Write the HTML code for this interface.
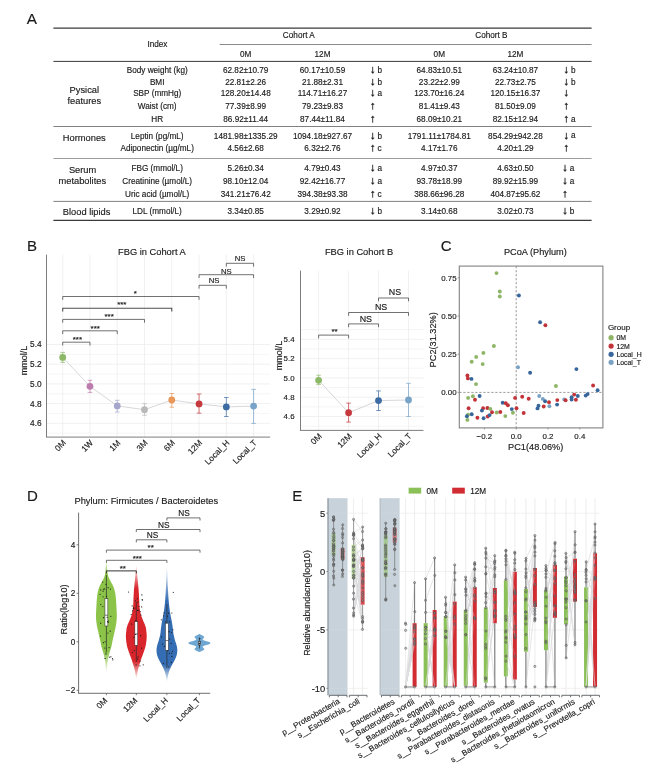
<!DOCTYPE html>
<html lang="en">
<head>
<meta charset="utf-8">
<title>Figure</title>
<style>
html,body{margin:0;padding:0;background:#fff;}
body{width:650px;height:778px;overflow:hidden;}
svg{display:block;font-family:'Liberation Sans', sans-serif;}
svg text{stroke:#1a1a1a;stroke-width:0.15px;}
</style>
</head>
<body>
<svg width="650" height="778" viewBox="0 0 650 778">
<rect x="0" y="0" width="650" height="778" fill="#ffffff"/>
<g id="panelA">
<text x="31.80" y="18.40" font-size="15.3" text-anchor="middle" fill="#1a1a1a" dy="0.36em">A</text>
<line x1="53.40" y1="28.10" x2="591.60" y2="28.10" stroke="#3a3a3a" stroke-width="1.1"/>
<line x1="219.70" y1="44.50" x2="591.60" y2="44.50" stroke="#3a3a3a" stroke-width="0.6"/>
<line x1="53.40" y1="61.40" x2="591.60" y2="61.40" stroke="#3a3a3a" stroke-width="1.0"/>
<line x1="53.40" y1="126.50" x2="591.60" y2="126.50" stroke="#3a3a3a" stroke-width="0.65"/>
<line x1="53.40" y1="158.50" x2="591.60" y2="158.50" stroke="#3a3a3a" stroke-width="0.5"/>
<line x1="53.40" y1="201.40" x2="591.60" y2="201.40" stroke="#3a3a3a" stroke-width="0.65"/>
<line x1="53.40" y1="220.40" x2="591.60" y2="220.40" stroke="#3a3a3a" stroke-width="1.1"/>
<text x="157.40" y="44.30" font-size="8.2" text-anchor="middle" fill="#1a1a1a" dy="0.36em">Index</text>
<text x="298.80" y="34.60" font-size="8.2" text-anchor="middle" fill="#1a1a1a" dy="0.36em">Cohort A</text>
<text x="491.40" y="34.60" font-size="8.2" text-anchor="middle" fill="#1a1a1a" dy="0.36em">Cohort B</text>
<text x="245.70" y="54.20" font-size="8.2" text-anchor="middle" fill="#1a1a1a" dy="0.36em">0M</text>
<text x="322.50" y="54.20" font-size="8.2" text-anchor="middle" fill="#1a1a1a" dy="0.36em">12M</text>
<text x="439.30" y="54.20" font-size="8.2" text-anchor="middle" fill="#1a1a1a" dy="0.36em">0M</text>
<text x="515.40" y="54.20" font-size="8.2" text-anchor="middle" fill="#1a1a1a" dy="0.36em">12M</text>
<text x="84.30" y="89.70" font-size="9.3" text-anchor="middle" fill="#1a1a1a" dy="0.36em">Pysical</text>
<text x="84.30" y="100.50" font-size="9.3" text-anchor="middle" fill="#1a1a1a" dy="0.36em">features</text>
<text x="84.30" y="137.80" font-size="9.3" text-anchor="middle" fill="#1a1a1a" dy="0.36em">Hormones</text>
<text x="82.60" y="169.50" font-size="9.3" text-anchor="middle" fill="#1a1a1a" dy="0.36em">Serum</text>
<text x="82.30" y="180.30" font-size="9.3" text-anchor="middle" fill="#1a1a1a" dy="0.36em">metabolites</text>
<text x="86.60" y="211.40" font-size="9.3" text-anchor="middle" fill="#1a1a1a" dy="0.36em">Blood lipids</text>
<text x="157.20" y="70.40" font-size="8.2" text-anchor="middle" fill="#1a1a1a" dy="0.36em">Body weight (kg)</text>
<text x="245.70" y="70.40" font-size="8.2" text-anchor="middle" fill="#1a1a1a" dy="0.36em">62.82±10.79</text>
<text x="322.50" y="70.40" font-size="8.2" text-anchor="middle" fill="#1a1a1a" dy="0.36em">60.17±10.59</text>
<text x="372.80" y="69.30" font-size="11.2" text-anchor="middle" fill="#1a1a1a" dy="0.36em" style="stroke-width:0.3px">↓</text>
<text x="377.60" y="70.40" font-size="8.2" text-anchor="start" fill="#1a1a1a" dy="0.36em">b</text>
<text x="439.30" y="70.40" font-size="8.2" text-anchor="middle" fill="#1a1a1a" dy="0.36em">64.83±10.51</text>
<text x="515.40" y="70.40" font-size="8.2" text-anchor="middle" fill="#1a1a1a" dy="0.36em">63.24±10.87</text>
<text x="566.20" y="69.30" font-size="11.2" text-anchor="middle" fill="#1a1a1a" dy="0.36em" style="stroke-width:0.3px">↓</text>
<text x="571.00" y="70.40" font-size="8.2" text-anchor="start" fill="#1a1a1a" dy="0.36em">b</text>
<text x="157.20" y="82.20" font-size="8.2" text-anchor="middle" fill="#1a1a1a" dy="0.36em">BMI</text>
<text x="245.70" y="82.20" font-size="8.2" text-anchor="middle" fill="#1a1a1a" dy="0.36em">22.81±2.26</text>
<text x="322.50" y="82.20" font-size="8.2" text-anchor="middle" fill="#1a1a1a" dy="0.36em">21.88±2.31</text>
<text x="372.80" y="81.10" font-size="11.2" text-anchor="middle" fill="#1a1a1a" dy="0.36em" style="stroke-width:0.3px">↓</text>
<text x="377.60" y="82.20" font-size="8.2" text-anchor="start" fill="#1a1a1a" dy="0.36em">b</text>
<text x="439.30" y="82.20" font-size="8.2" text-anchor="middle" fill="#1a1a1a" dy="0.36em">23.22±2.99</text>
<text x="515.40" y="82.20" font-size="8.2" text-anchor="middle" fill="#1a1a1a" dy="0.36em">22.73±2.75</text>
<text x="566.20" y="81.10" font-size="11.2" text-anchor="middle" fill="#1a1a1a" dy="0.36em" style="stroke-width:0.3px">↓</text>
<text x="571.00" y="82.20" font-size="8.2" text-anchor="start" fill="#1a1a1a" dy="0.36em">b</text>
<text x="157.20" y="93.30" font-size="8.2" text-anchor="middle" fill="#1a1a1a" dy="0.36em">SBP (mmHg)</text>
<text x="245.70" y="93.30" font-size="8.2" text-anchor="middle" fill="#1a1a1a" dy="0.36em">128.20±14.48</text>
<text x="322.50" y="93.30" font-size="8.2" text-anchor="middle" fill="#1a1a1a" dy="0.36em">114.71±16.27</text>
<text x="372.80" y="92.20" font-size="11.2" text-anchor="middle" fill="#1a1a1a" dy="0.36em" style="stroke-width:0.3px">↓</text>
<text x="377.60" y="93.30" font-size="8.2" text-anchor="start" fill="#1a1a1a" dy="0.36em">a</text>
<text x="439.30" y="93.30" font-size="8.2" text-anchor="middle" fill="#1a1a1a" dy="0.36em">123.70±16.24</text>
<text x="515.40" y="93.30" font-size="8.2" text-anchor="middle" fill="#1a1a1a" dy="0.36em">120.15±16.37</text>
<text x="566.20" y="92.20" font-size="11.2" text-anchor="middle" fill="#1a1a1a" dy="0.36em" style="stroke-width:0.3px">↓</text>
<text x="157.20" y="106.30" font-size="8.2" text-anchor="middle" fill="#1a1a1a" dy="0.36em">Waist (cm)</text>
<text x="245.70" y="106.30" font-size="8.2" text-anchor="middle" fill="#1a1a1a" dy="0.36em">77.39±8.99</text>
<text x="322.50" y="106.30" font-size="8.2" text-anchor="middle" fill="#1a1a1a" dy="0.36em">79.23±9.83</text>
<text x="372.80" y="105.20" font-size="11.2" text-anchor="middle" fill="#1a1a1a" dy="0.36em" style="stroke-width:0.3px">↑</text>
<text x="439.30" y="106.30" font-size="8.2" text-anchor="middle" fill="#1a1a1a" dy="0.36em">81.41±9.43</text>
<text x="515.40" y="106.30" font-size="8.2" text-anchor="middle" fill="#1a1a1a" dy="0.36em">81.50±9.09</text>
<text x="566.20" y="105.20" font-size="11.2" text-anchor="middle" fill="#1a1a1a" dy="0.36em" style="stroke-width:0.3px">↑</text>
<text x="157.20" y="118.70" font-size="8.2" text-anchor="middle" fill="#1a1a1a" dy="0.36em">HR</text>
<text x="245.70" y="118.70" font-size="8.2" text-anchor="middle" fill="#1a1a1a" dy="0.36em">86.92±11.44</text>
<text x="322.50" y="118.70" font-size="8.2" text-anchor="middle" fill="#1a1a1a" dy="0.36em">87.44±11.84</text>
<text x="372.80" y="117.60" font-size="11.2" text-anchor="middle" fill="#1a1a1a" dy="0.36em" style="stroke-width:0.3px">↑</text>
<text x="439.30" y="118.70" font-size="8.2" text-anchor="middle" fill="#1a1a1a" dy="0.36em">68.09±10.21</text>
<text x="515.40" y="118.70" font-size="8.2" text-anchor="middle" fill="#1a1a1a" dy="0.36em">82.15±12.94</text>
<text x="566.20" y="117.60" font-size="11.2" text-anchor="middle" fill="#1a1a1a" dy="0.36em" style="stroke-width:0.3px">↑</text>
<text x="571.00" y="118.70" font-size="8.2" text-anchor="start" fill="#1a1a1a" dy="0.36em">a</text>
<text x="157.20" y="135.80" font-size="8.2" text-anchor="middle" fill="#1a1a1a" dy="0.36em">Leptin (pg/mL)</text>
<text x="245.70" y="135.80" font-size="8.2" text-anchor="middle" fill="#1a1a1a" dy="0.36em">1481.98±1335.29</text>
<text x="322.50" y="135.80" font-size="8.2" text-anchor="middle" fill="#1a1a1a" dy="0.36em">1094.18±927.67</text>
<text x="372.80" y="134.70" font-size="11.2" text-anchor="middle" fill="#1a1a1a" dy="0.36em" style="stroke-width:0.3px">↓</text>
<text x="377.60" y="135.80" font-size="8.2" text-anchor="start" fill="#1a1a1a" dy="0.36em">b</text>
<text x="439.30" y="135.80" font-size="8.2" text-anchor="middle" fill="#1a1a1a" dy="0.36em">1791.11±1784.81</text>
<text x="515.40" y="135.80" font-size="8.2" text-anchor="middle" fill="#1a1a1a" dy="0.36em">854.29±942.28</text>
<text x="566.20" y="134.70" font-size="11.2" text-anchor="middle" fill="#1a1a1a" dy="0.36em" style="stroke-width:0.3px">↓</text>
<text x="571.00" y="134.60" font-size="8.2" text-anchor="start" fill="#1a1a1a" dy="0.36em">a</text>
<text x="157.20" y="148.50" font-size="8.2" text-anchor="middle" fill="#1a1a1a" dy="0.36em">Adiponectin (µg/mL)</text>
<text x="245.70" y="148.50" font-size="8.2" text-anchor="middle" fill="#1a1a1a" dy="0.36em">4.56±2.68</text>
<text x="322.50" y="148.50" font-size="8.2" text-anchor="middle" fill="#1a1a1a" dy="0.36em">6.32±2.76</text>
<text x="372.80" y="147.40" font-size="11.2" text-anchor="middle" fill="#1a1a1a" dy="0.36em" style="stroke-width:0.3px">↑</text>
<text x="377.60" y="148.50" font-size="8.2" text-anchor="start" fill="#1a1a1a" dy="0.36em">c</text>
<text x="439.30" y="148.50" font-size="8.2" text-anchor="middle" fill="#1a1a1a" dy="0.36em">4.17±1.76</text>
<text x="515.40" y="148.50" font-size="8.2" text-anchor="middle" fill="#1a1a1a" dy="0.36em">4.20±1.29</text>
<text x="566.20" y="147.40" font-size="11.2" text-anchor="middle" fill="#1a1a1a" dy="0.36em" style="stroke-width:0.3px">↑</text>
<text x="157.20" y="168.50" font-size="8.2" text-anchor="middle" fill="#1a1a1a" dy="0.36em">FBG (mmol/L)</text>
<text x="245.70" y="168.50" font-size="8.2" text-anchor="middle" fill="#1a1a1a" dy="0.36em">5.26±0.34</text>
<text x="322.50" y="168.50" font-size="8.2" text-anchor="middle" fill="#1a1a1a" dy="0.36em">4.79±0.43</text>
<text x="372.80" y="167.40" font-size="11.2" text-anchor="middle" fill="#1a1a1a" dy="0.36em" style="stroke-width:0.3px">↓</text>
<text x="377.60" y="168.50" font-size="8.2" text-anchor="start" fill="#1a1a1a" dy="0.36em">a</text>
<text x="439.30" y="168.50" font-size="8.2" text-anchor="middle" fill="#1a1a1a" dy="0.36em">4.97±0.37</text>
<text x="515.40" y="168.50" font-size="8.2" text-anchor="middle" fill="#1a1a1a" dy="0.36em">4.63±0.50</text>
<text x="565.00" y="167.40" font-size="11.2" text-anchor="middle" fill="#1a1a1a" dy="0.36em" style="stroke-width:0.3px">↓</text>
<text x="569.80" y="168.50" font-size="8.2" text-anchor="start" fill="#1a1a1a" dy="0.36em">a</text>
<text x="157.20" y="181.10" font-size="8.2" text-anchor="middle" fill="#1a1a1a" dy="0.36em">Creatinine (µmol/L)</text>
<text x="245.70" y="181.10" font-size="8.2" text-anchor="middle" fill="#1a1a1a" dy="0.36em">98.10±12.04</text>
<text x="322.50" y="181.10" font-size="8.2" text-anchor="middle" fill="#1a1a1a" dy="0.36em">92.42±16.77</text>
<text x="372.80" y="180.00" font-size="11.2" text-anchor="middle" fill="#1a1a1a" dy="0.36em" style="stroke-width:0.3px">↓</text>
<text x="377.60" y="181.10" font-size="8.2" text-anchor="start" fill="#1a1a1a" dy="0.36em">a</text>
<text x="439.30" y="181.10" font-size="8.2" text-anchor="middle" fill="#1a1a1a" dy="0.36em">93.78±18.99</text>
<text x="515.40" y="181.10" font-size="8.2" text-anchor="middle" fill="#1a1a1a" dy="0.36em">89.92±15.99</text>
<text x="565.00" y="180.00" font-size="11.2" text-anchor="middle" fill="#1a1a1a" dy="0.36em" style="stroke-width:0.3px">↓</text>
<text x="569.80" y="181.10" font-size="8.2" text-anchor="start" fill="#1a1a1a" dy="0.36em">a</text>
<text x="157.20" y="193.70" font-size="8.2" text-anchor="middle" fill="#1a1a1a" dy="0.36em">Uric acid (µmol/L)</text>
<text x="245.70" y="193.70" font-size="8.2" text-anchor="middle" fill="#1a1a1a" dy="0.36em">341.21±76.42</text>
<text x="322.50" y="193.70" font-size="8.2" text-anchor="middle" fill="#1a1a1a" dy="0.36em">394.38±93.38</text>
<text x="372.80" y="192.60" font-size="11.2" text-anchor="middle" fill="#1a1a1a" dy="0.36em" style="stroke-width:0.3px">↑</text>
<text x="377.60" y="193.70" font-size="8.2" text-anchor="start" fill="#1a1a1a" dy="0.36em">c</text>
<text x="439.30" y="193.70" font-size="8.2" text-anchor="middle" fill="#1a1a1a" dy="0.36em">388.66±96.28</text>
<text x="515.40" y="193.70" font-size="8.2" text-anchor="middle" fill="#1a1a1a" dy="0.36em">404.87±95.62</text>
<text x="565.00" y="192.60" font-size="11.2" text-anchor="middle" fill="#1a1a1a" dy="0.36em" style="stroke-width:0.3px">↑</text>
<text x="157.20" y="211.40" font-size="8.2" text-anchor="middle" fill="#1a1a1a" dy="0.36em">LDL (mmol/L)</text>
<text x="245.70" y="211.40" font-size="8.2" text-anchor="middle" fill="#1a1a1a" dy="0.36em">3.34±0.85</text>
<text x="322.50" y="211.40" font-size="8.2" text-anchor="middle" fill="#1a1a1a" dy="0.36em">3.29±0.92</text>
<text x="372.80" y="210.30" font-size="11.2" text-anchor="middle" fill="#1a1a1a" dy="0.36em" style="stroke-width:0.3px">↓</text>
<text x="377.60" y="211.40" font-size="8.2" text-anchor="start" fill="#1a1a1a" dy="0.36em">b</text>
<text x="439.30" y="211.40" font-size="8.2" text-anchor="middle" fill="#1a1a1a" dy="0.36em">3.14±0.68</text>
<text x="515.40" y="211.40" font-size="8.2" text-anchor="middle" fill="#1a1a1a" dy="0.36em">3.02±0.73</text>
<text x="565.00" y="210.30" font-size="11.2" text-anchor="middle" fill="#1a1a1a" dy="0.36em" style="stroke-width:0.3px">↓</text>
<text x="569.80" y="211.40" font-size="8.2" text-anchor="start" fill="#1a1a1a" dy="0.36em">b</text>
</g>
<g id="panelB">
<text x="32.00" y="246.00" font-size="15" text-anchor="middle" fill="#1a1a1a" dy="0.36em">B</text>
<line x1="62.70" y1="254.60" x2="62.70" y2="437.10" stroke="#ebebeb" stroke-width="0.7"/>
<line x1="89.97" y1="254.60" x2="89.97" y2="437.10" stroke="#ebebeb" stroke-width="0.7"/>
<line x1="117.24" y1="254.60" x2="117.24" y2="437.10" stroke="#ebebeb" stroke-width="0.7"/>
<line x1="144.51" y1="254.60" x2="144.51" y2="437.10" stroke="#ebebeb" stroke-width="0.7"/>
<line x1="171.78" y1="254.60" x2="171.78" y2="437.10" stroke="#ebebeb" stroke-width="0.7"/>
<line x1="199.05" y1="254.60" x2="199.05" y2="437.10" stroke="#ebebeb" stroke-width="0.7"/>
<line x1="226.32" y1="254.60" x2="226.32" y2="437.10" stroke="#ebebeb" stroke-width="0.7"/>
<line x1="253.59" y1="254.60" x2="253.59" y2="437.10" stroke="#ebebeb" stroke-width="0.7"/>
<line x1="46.50" y1="344.50" x2="270.20" y2="344.50" stroke="#ebebeb" stroke-width="0.7"/>
<line x1="46.50" y1="354.35" x2="270.20" y2="354.35" stroke="#ebebeb" stroke-width="0.5"/>
<line x1="46.50" y1="364.20" x2="270.20" y2="364.20" stroke="#ebebeb" stroke-width="0.7"/>
<line x1="46.50" y1="374.05" x2="270.20" y2="374.05" stroke="#ebebeb" stroke-width="0.5"/>
<line x1="46.50" y1="383.90" x2="270.20" y2="383.90" stroke="#ebebeb" stroke-width="0.7"/>
<line x1="46.50" y1="393.75" x2="270.20" y2="393.75" stroke="#ebebeb" stroke-width="0.5"/>
<line x1="46.50" y1="403.60" x2="270.20" y2="403.60" stroke="#ebebeb" stroke-width="0.7"/>
<line x1="46.50" y1="413.45" x2="270.20" y2="413.45" stroke="#ebebeb" stroke-width="0.5"/>
<line x1="46.50" y1="423.30" x2="270.20" y2="423.30" stroke="#ebebeb" stroke-width="0.7"/>
<line x1="46.50" y1="433.15" x2="270.20" y2="433.15" stroke="#ebebeb" stroke-width="0.5"/>
<polyline points="62.70,357.40 89.97,386.30 117.24,405.90 144.51,409.70 171.78,400.00 199.05,403.90 226.32,406.90 253.59,406.10" fill="none" stroke="#d3d3d8" stroke-width="0.9"/>
<line x1="62.70" y1="352.40" x2="62.70" y2="362.40" stroke="#8cb868" stroke-width="0.7"/>
<line x1="60.40" y1="352.40" x2="65.00" y2="352.40" stroke="#8cb868" stroke-width="0.7"/>
<line x1="60.40" y1="362.40" x2="65.00" y2="362.40" stroke="#8cb868" stroke-width="0.7"/>
<circle cx="62.70" cy="357.40" r="3.4" fill="#8cb868" stroke="none" stroke-width="0"/>
<line x1="89.97" y1="380.30" x2="89.97" y2="392.40" stroke="#bd7cae" stroke-width="0.7"/>
<line x1="87.67" y1="380.30" x2="92.27" y2="380.30" stroke="#bd7cae" stroke-width="0.7"/>
<line x1="87.67" y1="392.40" x2="92.27" y2="392.40" stroke="#bd7cae" stroke-width="0.7"/>
<circle cx="89.97" cy="386.30" r="3.4" fill="#bd7cae" stroke="none" stroke-width="0"/>
<line x1="117.24" y1="400.30" x2="117.24" y2="412.00" stroke="#a6a6cc" stroke-width="0.7"/>
<line x1="114.94" y1="400.30" x2="119.54" y2="400.30" stroke="#a6a6cc" stroke-width="0.7"/>
<line x1="114.94" y1="412.00" x2="119.54" y2="412.00" stroke="#a6a6cc" stroke-width="0.7"/>
<circle cx="117.24" cy="405.90" r="3.4" fill="#a6a6cc" stroke="none" stroke-width="0"/>
<line x1="144.51" y1="403.60" x2="144.51" y2="415.30" stroke="#b9b9b9" stroke-width="0.7"/>
<line x1="142.21" y1="403.60" x2="146.81" y2="403.60" stroke="#b9b9b9" stroke-width="0.7"/>
<line x1="142.21" y1="415.30" x2="146.81" y2="415.30" stroke="#b9b9b9" stroke-width="0.7"/>
<circle cx="144.51" cy="409.70" r="3.4" fill="#b9b9b9" stroke="none" stroke-width="0"/>
<line x1="171.78" y1="393.50" x2="171.78" y2="407.20" stroke="#ea975a" stroke-width="0.7"/>
<line x1="169.48" y1="393.50" x2="174.08" y2="393.50" stroke="#ea975a" stroke-width="0.7"/>
<line x1="169.48" y1="407.20" x2="174.08" y2="407.20" stroke="#ea975a" stroke-width="0.7"/>
<circle cx="171.78" cy="400.00" r="3.4" fill="#ea975a" stroke="none" stroke-width="0"/>
<line x1="199.05" y1="394.00" x2="199.05" y2="413.20" stroke="#c6393e" stroke-width="0.7"/>
<line x1="196.75" y1="394.00" x2="201.35" y2="394.00" stroke="#c6393e" stroke-width="0.7"/>
<line x1="196.75" y1="413.20" x2="201.35" y2="413.20" stroke="#c6393e" stroke-width="0.7"/>
<circle cx="199.05" cy="403.90" r="3.4" fill="#c6393e" stroke="none" stroke-width="0"/>
<line x1="226.32" y1="397.50" x2="226.32" y2="416.50" stroke="#3d6ca4" stroke-width="0.7"/>
<line x1="224.02" y1="397.50" x2="228.62" y2="397.50" stroke="#3d6ca4" stroke-width="0.7"/>
<line x1="224.02" y1="416.50" x2="228.62" y2="416.50" stroke="#3d6ca4" stroke-width="0.7"/>
<circle cx="226.32" cy="406.90" r="3.4" fill="#3d6ca4" stroke="none" stroke-width="0"/>
<line x1="253.59" y1="389.40" x2="253.59" y2="423.40" stroke="#79a4c8" stroke-width="0.7"/>
<line x1="251.29" y1="389.40" x2="255.89" y2="389.40" stroke="#79a4c8" stroke-width="0.7"/>
<line x1="251.29" y1="423.40" x2="255.89" y2="423.40" stroke="#79a4c8" stroke-width="0.7"/>
<circle cx="253.59" cy="406.10" r="3.4" fill="#79a4c8" stroke="none" stroke-width="0"/>
<line x1="46.50" y1="254.60" x2="46.50" y2="437.10" stroke="#6e6e6e" stroke-width="0.9"/>
<line x1="46.05" y1="437.10" x2="270.20" y2="437.10" stroke="#6e6e6e" stroke-width="0.9"/>
<text x="41.60" y="344.50" font-size="8.3" text-anchor="end" fill="#1a1a1a" dy="0.36em">5.4</text>
<text x="41.60" y="364.20" font-size="8.3" text-anchor="end" fill="#1a1a1a" dy="0.36em">5.2</text>
<text x="41.60" y="383.90" font-size="8.3" text-anchor="end" fill="#1a1a1a" dy="0.36em">5.0</text>
<text x="41.60" y="403.60" font-size="8.3" text-anchor="end" fill="#1a1a1a" dy="0.36em">4.8</text>
<text x="41.60" y="423.30" font-size="8.3" text-anchor="end" fill="#1a1a1a" dy="0.36em">4.6</text>
<text x="64.30" y="441.30" font-size="8.4" text-anchor="end" fill="#1a1a1a" dy="0.36em" transform="rotate(-45 64.30 441.30)">0M</text>
<text x="91.57" y="441.30" font-size="8.4" text-anchor="end" fill="#1a1a1a" dy="0.36em" transform="rotate(-45 91.57 441.30)">1W</text>
<text x="118.84" y="441.30" font-size="8.4" text-anchor="end" fill="#1a1a1a" dy="0.36em" transform="rotate(-45 118.84 441.30)">1M</text>
<text x="146.11" y="441.30" font-size="8.4" text-anchor="end" fill="#1a1a1a" dy="0.36em" transform="rotate(-45 146.11 441.30)">3M</text>
<text x="173.38" y="441.30" font-size="8.4" text-anchor="end" fill="#1a1a1a" dy="0.36em" transform="rotate(-45 173.38 441.30)">6M</text>
<text x="200.65" y="441.30" font-size="8.4" text-anchor="end" fill="#1a1a1a" dy="0.36em" transform="rotate(-45 200.65 441.30)">12M</text>
<text x="227.92" y="441.30" font-size="8.4" text-anchor="end" fill="#1a1a1a" dy="0.36em" transform="rotate(-45 227.92 441.30)">Local_H</text>
<text x="255.19" y="441.30" font-size="8.4" text-anchor="end" fill="#1a1a1a" dy="0.36em" transform="rotate(-45 255.19 441.30)">Local_T</text>
<text x="23.40" y="360.50" font-size="9" text-anchor="middle" fill="#1a1a1a" dy="0.36em" transform="rotate(-90 23.40 360.50)">mmol/L</text>
<text x="151.90" y="251.60" font-size="9.3" text-anchor="middle" fill="#1a1a1a" dy="0.36em">FBG in Cohort A</text>
<path d="M62.70 345.50 V342.20 H89.97 V345.50" fill="none" stroke="#4d4d4d" stroke-width="0.8"/>
<text x="77.40" y="339.60" font-size="8" text-anchor="middle" fill="#1a1a1a" dy="0.36em">***</text>
<path d="M62.70 334.10 V330.80 H117.24 V334.10" fill="none" stroke="#4d4d4d" stroke-width="0.8"/>
<text x="95.20" y="328.00" font-size="8" text-anchor="middle" fill="#1a1a1a" dy="0.36em">***</text>
<path d="M62.70 322.70 V319.40 H144.51 V322.70" fill="none" stroke="#4d4d4d" stroke-width="0.8"/>
<text x="109.10" y="316.50" font-size="8" text-anchor="middle" fill="#1a1a1a" dy="0.36em">***</text>
<path d="M62.70 311.50 V308.20 H171.78 V311.50" fill="none" stroke="#4d4d4d" stroke-width="1.1"/>
<text x="121.80" y="304.60" font-size="8" text-anchor="middle" fill="#1a1a1a" dy="0.36em">***</text>
<path d="M62.70 299.80 V296.50 H199.05 V299.80" fill="none" stroke="#4d4d4d" stroke-width="0.8"/>
<text x="135.30" y="293.60" font-size="8" text-anchor="middle" fill="#1a1a1a" dy="0.36em">*</text>
<path d="M199.05 288.60 V285.30 H226.32 V288.60" fill="none" stroke="#4d4d4d" stroke-width="0.8"/>
<text x="214.10" y="280.50" font-size="7.7" text-anchor="middle" fill="#1a1a1a" dy="0.36em">NS</text>
<path d="M199.05 278.00 V274.70 H253.59 V278.00" fill="none" stroke="#4d4d4d" stroke-width="0.8"/>
<text x="226.30" y="270.90" font-size="7.7" text-anchor="middle" fill="#1a1a1a" dy="0.36em">NS</text>
<path d="M226.32 266.60 V263.30 H253.59 V266.60" fill="none" stroke="#4d4d4d" stroke-width="0.8"/>
<text x="240.00" y="258.40" font-size="7.7" text-anchor="middle" fill="#1a1a1a" dy="0.36em">NS</text>
<line x1="318.60" y1="270.60" x2="318.60" y2="430.40" stroke="#ebebeb" stroke-width="0.7"/>
<line x1="348.60" y1="270.60" x2="348.60" y2="430.40" stroke="#ebebeb" stroke-width="0.7"/>
<line x1="378.50" y1="270.60" x2="378.50" y2="430.40" stroke="#ebebeb" stroke-width="0.7"/>
<line x1="408.50" y1="270.60" x2="408.50" y2="430.40" stroke="#ebebeb" stroke-width="0.7"/>
<line x1="300.50" y1="329.65" x2="423.50" y2="329.65" stroke="#ebebeb" stroke-width="0.5"/>
<line x1="300.50" y1="339.30" x2="423.50" y2="339.30" stroke="#ebebeb" stroke-width="0.7"/>
<line x1="300.50" y1="348.95" x2="423.50" y2="348.95" stroke="#ebebeb" stroke-width="0.5"/>
<line x1="300.50" y1="358.60" x2="423.50" y2="358.60" stroke="#ebebeb" stroke-width="0.7"/>
<line x1="300.50" y1="368.25" x2="423.50" y2="368.25" stroke="#ebebeb" stroke-width="0.5"/>
<line x1="300.50" y1="377.90" x2="423.50" y2="377.90" stroke="#ebebeb" stroke-width="0.7"/>
<line x1="300.50" y1="387.55" x2="423.50" y2="387.55" stroke="#ebebeb" stroke-width="0.5"/>
<line x1="300.50" y1="397.20" x2="423.50" y2="397.20" stroke="#ebebeb" stroke-width="0.7"/>
<line x1="300.50" y1="406.85" x2="423.50" y2="406.85" stroke="#ebebeb" stroke-width="0.5"/>
<line x1="300.50" y1="416.50" x2="423.50" y2="416.50" stroke="#ebebeb" stroke-width="0.7"/>
<line x1="300.50" y1="426.15" x2="423.50" y2="426.15" stroke="#ebebeb" stroke-width="0.5"/>
<polyline points="318.60,380.30 348.60,412.70 378.50,400.60 408.50,400.00" fill="none" stroke="#d3d3d8" stroke-width="0.9"/>
<line x1="318.60" y1="375.20" x2="318.60" y2="384.60" stroke="#8cb868" stroke-width="0.7"/>
<line x1="316.30" y1="375.20" x2="320.90" y2="375.20" stroke="#8cb868" stroke-width="0.7"/>
<line x1="316.30" y1="384.60" x2="320.90" y2="384.60" stroke="#8cb868" stroke-width="0.7"/>
<circle cx="318.60" cy="380.30" r="3.4" fill="#8cb868" stroke="none" stroke-width="0"/>
<line x1="348.60" y1="403.10" x2="348.60" y2="422.10" stroke="#c6393e" stroke-width="0.7"/>
<line x1="346.30" y1="403.10" x2="350.90" y2="403.10" stroke="#c6393e" stroke-width="0.7"/>
<line x1="346.30" y1="422.10" x2="350.90" y2="422.10" stroke="#c6393e" stroke-width="0.7"/>
<circle cx="348.60" cy="412.70" r="3.4" fill="#c6393e" stroke="none" stroke-width="0"/>
<line x1="378.50" y1="390.90" x2="378.50" y2="410.50" stroke="#3d6ca4" stroke-width="0.7"/>
<line x1="376.20" y1="390.90" x2="380.80" y2="390.90" stroke="#3d6ca4" stroke-width="0.7"/>
<line x1="376.20" y1="410.50" x2="380.80" y2="410.50" stroke="#3d6ca4" stroke-width="0.7"/>
<circle cx="378.50" cy="400.60" r="3.4" fill="#3d6ca4" stroke="none" stroke-width="0"/>
<line x1="408.50" y1="383.30" x2="408.50" y2="416.50" stroke="#79a4c8" stroke-width="0.7"/>
<line x1="406.20" y1="383.30" x2="410.80" y2="383.30" stroke="#79a4c8" stroke-width="0.7"/>
<line x1="406.20" y1="416.50" x2="410.80" y2="416.50" stroke="#79a4c8" stroke-width="0.7"/>
<circle cx="408.50" cy="400.00" r="3.4" fill="#79a4c8" stroke="none" stroke-width="0"/>
<line x1="300.50" y1="270.60" x2="300.50" y2="430.40" stroke="#6e6e6e" stroke-width="0.9"/>
<line x1="300.05" y1="430.40" x2="423.50" y2="430.40" stroke="#6e6e6e" stroke-width="0.9"/>
<text x="294.60" y="339.30" font-size="7.9" text-anchor="end" fill="#1a1a1a" dy="0.36em">5.4</text>
<text x="294.60" y="358.60" font-size="7.9" text-anchor="end" fill="#1a1a1a" dy="0.36em">5.2</text>
<text x="294.60" y="377.90" font-size="7.9" text-anchor="end" fill="#1a1a1a" dy="0.36em">5.0</text>
<text x="294.60" y="397.20" font-size="7.9" text-anchor="end" fill="#1a1a1a" dy="0.36em">4.8</text>
<text x="294.60" y="416.50" font-size="7.9" text-anchor="end" fill="#1a1a1a" dy="0.36em">4.6</text>
<text x="320.20" y="434.60" font-size="8.4" text-anchor="end" fill="#1a1a1a" dy="0.36em" transform="rotate(-45 320.20 434.60)">0M</text>
<text x="350.20" y="434.60" font-size="8.4" text-anchor="end" fill="#1a1a1a" dy="0.36em" transform="rotate(-45 350.20 434.60)">12M</text>
<text x="380.10" y="434.60" font-size="8.4" text-anchor="end" fill="#1a1a1a" dy="0.36em" transform="rotate(-45 380.10 434.60)">Local_H</text>
<text x="410.10" y="434.60" font-size="8.4" text-anchor="end" fill="#1a1a1a" dy="0.36em" transform="rotate(-45 410.10 434.60)">Local_T</text>
<text x="278.30" y="355.40" font-size="9" text-anchor="middle" fill="#1a1a1a" dy="0.36em" transform="rotate(-90 278.30 355.40)">mmol/L</text>
<text x="359.00" y="251.60" font-size="9.3" text-anchor="middle" fill="#1a1a1a" dy="0.36em">FBG in Cohort B</text>
<path d="M318.60 338.40 V335.10 H348.60 V338.40" fill="none" stroke="#4d4d4d" stroke-width="0.8"/>
<text x="334.60" y="330.80" font-size="8" text-anchor="middle" fill="#1a1a1a" dy="0.36em">**</text>
<path d="M348.60 327.20 V323.90 H378.50 V327.20" fill="none" stroke="#4d4d4d" stroke-width="0.8"/>
<text x="365.80" y="318.60" font-size="8.9" text-anchor="middle" fill="#1a1a1a" dy="0.36em">NS</text>
<path d="M348.60 315.80 V312.50 H408.50 V315.80" fill="none" stroke="#4d4d4d" stroke-width="0.8"/>
<text x="381.10" y="306.60" font-size="8.9" text-anchor="middle" fill="#1a1a1a" dy="0.36em">NS</text>
<path d="M378.50 301.30 V298.00 H408.50 V301.30" fill="none" stroke="#4d4d4d" stroke-width="0.8"/>
<text x="395.00" y="291.70" font-size="8.9" text-anchor="middle" fill="#1a1a1a" dy="0.36em">NS</text>
</g>
<g id="panelC">
<text x="446.20" y="246.00" font-size="15" text-anchor="middle" fill="#1a1a1a" dy="0.36em">C</text>
<text x="535.40" y="252.00" font-size="9.2" text-anchor="middle" fill="#1a1a1a" dy="0.36em">PCoA (Phylum)</text>
<line x1="516.20" y1="266.10" x2="516.20" y2="427.80" stroke="#555" stroke-width="0.6" stroke-dasharray="2.2 1.8"/>
<line x1="459.30" y1="392.40" x2="602.60" y2="392.40" stroke="#555" stroke-width="0.6" stroke-dasharray="2.2 1.8"/>
<circle cx="496.50" cy="273.10" r="1.95" fill="#8db565" stroke="none" stroke-width="0"/>
<circle cx="499.80" cy="291.50" r="1.95" fill="#8db565" stroke="none" stroke-width="0"/>
<circle cx="499.80" cy="296.50" r="1.95" fill="#8db565" stroke="none" stroke-width="0"/>
<circle cx="518.90" cy="295.50" r="1.95" fill="#36669c" stroke="none" stroke-width="0"/>
<circle cx="540.10" cy="322.20" r="1.95" fill="#36669c" stroke="none" stroke-width="0"/>
<circle cx="545.40" cy="325.30" r="1.95" fill="#c2343a" stroke="none" stroke-width="0"/>
<circle cx="493.90" cy="346.00" r="1.95" fill="#8db565" stroke="none" stroke-width="0"/>
<circle cx="483.40" cy="352.90" r="1.95" fill="#8db565" stroke="none" stroke-width="0"/>
<circle cx="476.20" cy="356.90" r="1.95" fill="#8db565" stroke="none" stroke-width="0"/>
<circle cx="471.70" cy="361.70" r="1.95" fill="#8db565" stroke="none" stroke-width="0"/>
<circle cx="482.70" cy="364.10" r="1.95" fill="#8db565" stroke="none" stroke-width="0"/>
<circle cx="518.00" cy="367.20" r="1.95" fill="#7aa2c5" stroke="none" stroke-width="0"/>
<circle cx="530.10" cy="372.70" r="1.95" fill="#36669c" stroke="none" stroke-width="0"/>
<circle cx="576.40" cy="369.10" r="1.95" fill="#36669c" stroke="none" stroke-width="0"/>
<circle cx="467.40" cy="375.50" r="1.95" fill="#c2343a" stroke="none" stroke-width="0"/>
<circle cx="467.90" cy="378.40" r="1.95" fill="#c2343a" stroke="none" stroke-width="0"/>
<circle cx="471.50" cy="378.90" r="1.95" fill="#36669c" stroke="none" stroke-width="0"/>
<circle cx="476.00" cy="384.10" r="1.95" fill="#8db565" stroke="none" stroke-width="0"/>
<circle cx="555.90" cy="386.00" r="1.95" fill="#8db565" stroke="none" stroke-width="0"/>
<circle cx="593.10" cy="385.50" r="1.95" fill="#c2343a" stroke="none" stroke-width="0"/>
<circle cx="597.60" cy="390.30" r="1.95" fill="#36669c" stroke="none" stroke-width="0"/>
<circle cx="468.10" cy="397.90" r="1.95" fill="#8db565" stroke="none" stroke-width="0"/>
<circle cx="472.90" cy="396.30" r="1.95" fill="#8db565" stroke="none" stroke-width="0"/>
<circle cx="475.00" cy="399.80" r="1.95" fill="#c2343a" stroke="none" stroke-width="0"/>
<circle cx="479.60" cy="396.00" r="1.95" fill="#36669c" stroke="none" stroke-width="0"/>
<circle cx="515.10" cy="397.90" r="1.95" fill="#c2343a" stroke="none" stroke-width="0"/>
<circle cx="522.20" cy="396.70" r="1.95" fill="#c2343a" stroke="none" stroke-width="0"/>
<circle cx="528.70" cy="398.70" r="1.95" fill="#c2343a" stroke="none" stroke-width="0"/>
<circle cx="539.20" cy="396.00" r="1.95" fill="#7aa2c5" stroke="none" stroke-width="0"/>
<circle cx="542.80" cy="398.90" r="1.95" fill="#7aa2c5" stroke="none" stroke-width="0"/>
<circle cx="545.10" cy="401.30" r="1.95" fill="#36669c" stroke="none" stroke-width="0"/>
<circle cx="549.00" cy="402.20" r="1.95" fill="#c2343a" stroke="none" stroke-width="0"/>
<circle cx="557.30" cy="400.10" r="1.95" fill="#c2343a" stroke="none" stroke-width="0"/>
<circle cx="557.10" cy="404.60" r="1.95" fill="#36669c" stroke="none" stroke-width="0"/>
<circle cx="549.40" cy="406.30" r="1.95" fill="#7aa2c5" stroke="none" stroke-width="0"/>
<circle cx="543.70" cy="406.50" r="1.95" fill="#c2343a" stroke="none" stroke-width="0"/>
<circle cx="538.50" cy="405.80" r="1.95" fill="#36669c" stroke="none" stroke-width="0"/>
<circle cx="537.50" cy="408.40" r="1.95" fill="#36669c" stroke="none" stroke-width="0"/>
<circle cx="564.20" cy="399.40" r="1.95" fill="#7aa2c5" stroke="none" stroke-width="0"/>
<circle cx="565.60" cy="400.30" r="1.95" fill="#c2343a" stroke="none" stroke-width="0"/>
<circle cx="571.60" cy="397.20" r="1.95" fill="#36669c" stroke="none" stroke-width="0"/>
<circle cx="571.60" cy="399.60" r="1.95" fill="#36669c" stroke="none" stroke-width="0"/>
<circle cx="574.20" cy="394.60" r="1.95" fill="#c2343a" stroke="none" stroke-width="0"/>
<circle cx="577.80" cy="396.00" r="1.95" fill="#36669c" stroke="none" stroke-width="0"/>
<circle cx="575.90" cy="399.80" r="1.95" fill="#c2343a" stroke="none" stroke-width="0"/>
<circle cx="585.70" cy="395.60" r="1.95" fill="#36669c" stroke="none" stroke-width="0"/>
<circle cx="587.60" cy="394.10" r="1.95" fill="#36669c" stroke="none" stroke-width="0"/>
<circle cx="502.70" cy="402.70" r="1.95" fill="#36669c" stroke="none" stroke-width="0"/>
<circle cx="505.80" cy="403.20" r="1.95" fill="#c2343a" stroke="none" stroke-width="0"/>
<circle cx="507.90" cy="405.30" r="1.95" fill="#c2343a" stroke="none" stroke-width="0"/>
<circle cx="511.80" cy="409.10" r="1.95" fill="#36669c" stroke="none" stroke-width="0"/>
<circle cx="516.50" cy="408.20" r="1.95" fill="#c2343a" stroke="none" stroke-width="0"/>
<circle cx="512.90" cy="412.70" r="1.95" fill="#8db565" stroke="none" stroke-width="0"/>
<circle cx="523.70" cy="413.00" r="1.95" fill="#c2343a" stroke="none" stroke-width="0"/>
<circle cx="505.30" cy="416.10" r="1.95" fill="#8db565" stroke="none" stroke-width="0"/>
<circle cx="468.60" cy="408.20" r="1.95" fill="#c2343a" stroke="none" stroke-width="0"/>
<circle cx="483.10" cy="408.20" r="1.95" fill="#c2343a" stroke="none" stroke-width="0"/>
<circle cx="487.40" cy="408.00" r="1.95" fill="#c2343a" stroke="none" stroke-width="0"/>
<circle cx="490.30" cy="408.90" r="1.95" fill="#8db565" stroke="none" stroke-width="0"/>
<circle cx="481.90" cy="410.60" r="1.95" fill="#36669c" stroke="none" stroke-width="0"/>
<circle cx="492.00" cy="412.20" r="1.95" fill="#c2343a" stroke="none" stroke-width="0"/>
<circle cx="496.70" cy="412.50" r="1.95" fill="#8db565" stroke="none" stroke-width="0"/>
<circle cx="500.30" cy="412.00" r="1.95" fill="#c2343a" stroke="none" stroke-width="0"/>
<circle cx="471.70" cy="414.20" r="1.95" fill="#36669c" stroke="none" stroke-width="0"/>
<circle cx="468.10" cy="414.60" r="1.95" fill="#8db565" stroke="none" stroke-width="0"/>
<circle cx="466.90" cy="416.30" r="1.95" fill="#36669c" stroke="none" stroke-width="0"/>
<circle cx="467.40" cy="419.90" r="1.95" fill="#8db565" stroke="none" stroke-width="0"/>
<circle cx="477.40" cy="417.70" r="1.95" fill="#c2343a" stroke="none" stroke-width="0"/>
<circle cx="483.60" cy="418.20" r="1.95" fill="#36669c" stroke="none" stroke-width="0"/>
<circle cx="487.70" cy="416.50" r="1.95" fill="#c2343a" stroke="none" stroke-width="0"/>
<circle cx="489.60" cy="415.10" r="1.95" fill="#36669c" stroke="none" stroke-width="0"/>
<rect x="459.30" y="266.10" width="143.60" height="161.80" fill="none" stroke="#828282" stroke-width="1.1"/>
<text x="456.60" y="277.80" font-size="7.9" text-anchor="end" fill="#1a1a1a" dy="0.36em">0.75</text>
<line x1="457.60" y1="277.80" x2="459.30" y2="277.80" stroke="#7a7a7a" stroke-width="0.7"/>
<text x="456.60" y="316.00" font-size="7.9" text-anchor="end" fill="#1a1a1a" dy="0.36em">0.50</text>
<line x1="457.60" y1="316.00" x2="459.30" y2="316.00" stroke="#7a7a7a" stroke-width="0.7"/>
<text x="456.60" y="354.20" font-size="7.9" text-anchor="end" fill="#1a1a1a" dy="0.36em">0.25</text>
<line x1="457.60" y1="354.20" x2="459.30" y2="354.20" stroke="#7a7a7a" stroke-width="0.7"/>
<text x="456.60" y="392.40" font-size="7.9" text-anchor="end" fill="#1a1a1a" dy="0.36em">0.00</text>
<line x1="457.60" y1="392.40" x2="459.30" y2="392.40" stroke="#7a7a7a" stroke-width="0.7"/>
<text x="484.40" y="436.20" font-size="7.9" text-anchor="middle" fill="#1a1a1a" dy="0.36em">−0.2</text>
<line x1="484.40" y1="427.80" x2="484.40" y2="429.50" stroke="#7a7a7a" stroke-width="0.7"/>
<text x="516.20" y="436.20" font-size="7.9" text-anchor="middle" fill="#1a1a1a" dy="0.36em">0.0</text>
<line x1="516.20" y1="427.80" x2="516.20" y2="429.50" stroke="#7a7a7a" stroke-width="0.7"/>
<text x="548.00" y="436.20" font-size="7.9" text-anchor="middle" fill="#1a1a1a" dy="0.36em">0.2</text>
<line x1="548.00" y1="427.80" x2="548.00" y2="429.50" stroke="#7a7a7a" stroke-width="0.7"/>
<text x="579.80" y="436.20" font-size="7.9" text-anchor="middle" fill="#1a1a1a" dy="0.36em">0.4</text>
<line x1="579.80" y1="427.80" x2="579.80" y2="429.50" stroke="#7a7a7a" stroke-width="0.7"/>
<text x="535.70" y="446.90" font-size="9.2" text-anchor="middle" fill="#1a1a1a" dy="0.36em">PC1(48.06%)</text>
<text x="433.10" y="339.80" font-size="9.2" text-anchor="middle" fill="#1a1a1a" dy="0.36em" transform="rotate(-90 433.10 339.80)">PC2(31.32%)</text>
<text x="607.90" y="327.00" font-size="8" text-anchor="start" fill="#1a1a1a" dy="0.36em">Group</text>
<circle cx="611.10" cy="337.70" r="2.6" fill="#8db565" stroke="none" stroke-width="0"/>
<text x="616.40" y="337.70" font-size="6.9" text-anchor="start" fill="#1a1a1a" dy="0.36em">0M</text>
<circle cx="611.10" cy="346.10" r="2.6" fill="#c2343a" stroke="none" stroke-width="0"/>
<text x="616.40" y="346.10" font-size="6.9" text-anchor="start" fill="#1a1a1a" dy="0.36em">12M</text>
<circle cx="611.10" cy="354.30" r="2.6" fill="#36669c" stroke="none" stroke-width="0"/>
<text x="616.40" y="354.30" font-size="6.9" text-anchor="start" fill="#1a1a1a" dy="0.36em">Local_H</text>
<circle cx="611.10" cy="362.30" r="2.6" fill="#7aa2c5" stroke="none" stroke-width="0"/>
<text x="616.40" y="362.30" font-size="6.9" text-anchor="start" fill="#1a1a1a" dy="0.36em">Local_T</text>
</g>
<g id="panelD">
<text x="32.30" y="495.20" font-size="15" text-anchor="middle" fill="#1a1a1a" dy="0.36em">D</text>
<text x="146.30" y="500.50" font-size="9.3" text-anchor="middle" fill="#1a1a1a" dy="0.36em">Phylum: Firmicutes / Bacteroidetes</text>
<defs>
<linearGradient id="fadeG" x1="0" y1="0" x2="0" y2="1"><stop offset="0" stop-color="#8cc449" stop-opacity="0.15"/><stop offset="0.12" stop-color="#8cc449" stop-opacity="1"/><stop offset="0.82" stop-color="#8cc449" stop-opacity="1"/><stop offset="1" stop-color="#8cc449" stop-opacity="0.1"/></linearGradient>
<linearGradient id="fadeR" x1="0" y1="0" x2="0" y2="1"><stop offset="0" stop-color="#d9262c" stop-opacity="0.1"/><stop offset="0.2" stop-color="#d9262c" stop-opacity="1"/><stop offset="0.85" stop-color="#d9262c" stop-opacity="1"/><stop offset="1" stop-color="#d9262c" stop-opacity="0.1"/></linearGradient>
<linearGradient id="fadeB" x1="0" y1="0" x2="0" y2="1"><stop offset="0" stop-color="#346db3" stop-opacity="0.05"/><stop offset="0.3" stop-color="#346db3" stop-opacity="1"/><stop offset="0.86" stop-color="#346db3" stop-opacity="1"/><stop offset="1" stop-color="#346db3" stop-opacity="0.1"/></linearGradient>
</defs>
<path d="M106.60 560.50 L106.64 561.08 L106.68 561.85 L106.73 562.77 L106.79 563.79 L106.86 564.87 L106.94 565.96 L107.01 567.02 L107.10 568.00 L107.18 568.94 L107.26 569.90 L107.34 570.86 L107.43 571.82 L107.54 572.76 L107.66 573.68 L107.81 574.56 L108.00 575.40 L108.23 576.19 L108.49 576.94 L108.77 577.65 L109.08 578.34 L109.40 579.01 L109.74 579.67 L110.07 580.33 L110.40 581.00 L110.74 581.67 L111.10 582.31 L111.46 582.95 L111.84 583.59 L112.21 584.22 L112.56 584.87 L112.90 585.52 L113.20 586.20 L113.48 586.89 L113.74 587.59 L113.99 588.30 L114.22 589.01 L114.43 589.74 L114.64 590.48 L114.82 591.23 L115.00 592.00 L115.16 592.77 L115.30 593.53 L115.42 594.29 L115.53 595.08 L115.62 595.88 L115.72 596.73 L115.81 597.64 L115.90 598.60 L115.99 599.64 L116.08 600.76 L116.16 601.93 L116.24 603.14 L116.31 604.37 L116.38 605.61 L116.44 606.82 L116.50 608.00 L116.56 609.16 L116.62 610.32 L116.68 611.49 L116.74 612.64 L116.78 613.79 L116.81 614.92 L116.82 616.02 L116.80 617.10 L116.76 618.15 L116.70 619.17 L116.62 620.17 L116.52 621.15 L116.41 622.12 L116.28 623.08 L116.15 624.04 L116.00 625.00 L115.84 625.96 L115.66 626.90 L115.46 627.84 L115.26 628.77 L115.04 629.71 L114.83 630.63 L114.61 631.57 L114.40 632.50 L114.19 633.45 L113.97 634.40 L113.75 635.36 L113.53 636.32 L113.31 637.27 L113.10 638.20 L112.89 639.12 L112.70 640.00 L112.52 640.86 L112.35 641.72 L112.19 642.56 L112.03 643.38 L111.88 644.18 L111.72 644.95 L111.56 645.69 L111.40 646.40 L111.23 647.06 L111.05 647.67 L110.87 648.25 L110.69 648.81 L110.51 649.35 L110.34 649.89 L110.17 650.43 L110.00 651.00 L109.84 651.57 L109.69 652.13 L109.54 652.68 L109.39 653.24 L109.24 653.82 L109.10 654.41 L108.95 655.04 L108.80 655.70 L108.65 656.39 L108.50 657.09 L108.34 657.80 L108.19 658.55 L108.04 659.33 L107.89 660.16 L107.74 661.05 L107.60 662.00 L107.46 663.10 L107.31 664.37 L107.17 665.75 L107.03 667.14 L106.89 668.49 L106.78 669.72 L106.68 670.75 L106.60 671.50 L106.20 671.50 L106.12 670.75 L106.03 669.72 L105.91 668.49 L105.78 667.14 L105.63 665.75 L105.49 664.37 L105.34 663.10 L105.20 662.00 L105.06 661.05 L104.91 660.16 L104.76 659.33 L104.61 658.55 L104.46 657.80 L104.30 657.09 L104.15 656.39 L104.00 655.70 L103.85 655.04 L103.70 654.41 L103.56 653.82 L103.41 653.24 L103.26 652.68 L103.11 652.13 L102.96 651.57 L102.80 651.00 L102.63 650.43 L102.46 649.89 L102.29 649.35 L102.11 648.81 L101.93 648.25 L101.75 647.67 L101.57 647.06 L101.40 646.40 L101.24 645.69 L101.08 644.95 L100.92 644.18 L100.77 643.38 L100.61 642.56 L100.45 641.72 L100.28 640.86 L100.10 640.00 L99.91 639.12 L99.70 638.20 L99.49 637.27 L99.27 636.32 L99.05 635.36 L98.83 634.40 L98.61 633.45 L98.40 632.50 L98.19 631.57 L97.97 630.63 L97.76 629.71 L97.54 628.77 L97.34 627.84 L97.14 626.90 L96.96 625.96 L96.80 625.00 L96.65 624.04 L96.52 623.08 L96.39 622.12 L96.28 621.15 L96.18 620.17 L96.10 619.17 L96.04 618.15 L96.00 617.10 L95.98 616.02 L95.99 614.92 L96.02 613.79 L96.06 612.64 L96.12 611.49 L96.18 610.32 L96.24 609.16 L96.30 608.00 L96.36 606.82 L96.42 605.61 L96.49 604.37 L96.56 603.14 L96.64 601.93 L96.72 600.76 L96.81 599.64 L96.90 598.60 L96.99 597.64 L97.08 596.73 L97.18 595.88 L97.28 595.08 L97.38 594.29 L97.50 593.53 L97.64 592.77 L97.80 592.00 L97.98 591.23 L98.16 590.48 L98.37 589.74 L98.58 589.01 L98.81 588.30 L99.06 587.59 L99.32 586.89 L99.60 586.20 L99.90 585.52 L100.24 584.87 L100.59 584.22 L100.96 583.59 L101.34 582.95 L101.70 582.31 L102.06 581.67 L102.40 581.00 L102.73 580.33 L103.06 579.67 L103.40 579.01 L103.72 578.34 L104.03 577.65 L104.31 576.94 L104.57 576.19 L104.80 575.40 L104.99 574.56 L105.14 573.68 L105.26 572.76 L105.37 571.82 L105.46 570.86 L105.54 569.90 L105.62 568.94 L105.70 568.00 L105.79 567.02 L105.86 565.96 L105.94 564.87 L106.01 563.79 L106.07 562.77 L106.12 561.85 L106.16 561.08 L106.20 560.50 Z" fill="url(#fadeG)"/>
<path d="M136.50 566.00 L136.55 566.69 L136.62 567.62 L136.70 568.72 L136.79 569.94 L136.89 571.23 L136.99 572.54 L137.10 573.81 L137.20 575.00 L137.30 576.14 L137.42 577.30 L137.54 578.47 L137.66 579.63 L137.78 580.78 L137.89 581.90 L138.00 582.98 L138.10 584.00 L138.19 584.96 L138.28 585.87 L138.36 586.73 L138.43 587.57 L138.50 588.39 L138.57 589.21 L138.64 590.04 L138.70 590.90 L138.76 591.77 L138.81 592.63 L138.86 593.50 L138.91 594.36 L138.96 595.24 L139.00 596.14 L139.05 597.05 L139.10 598.00 L139.15 598.99 L139.19 600.03 L139.22 601.09 L139.26 602.18 L139.31 603.25 L139.36 604.31 L139.42 605.33 L139.50 606.30 L139.59 607.22 L139.69 608.11 L139.80 608.98 L139.91 609.82 L140.04 610.64 L140.18 611.44 L140.33 612.23 L140.50 613.00 L140.68 613.74 L140.86 614.43 L141.05 615.08 L141.26 615.73 L141.49 616.39 L141.73 617.07 L142.00 617.80 L142.30 618.60 L142.65 619.49 L143.06 620.47 L143.50 621.50 L143.96 622.56 L144.41 623.61 L144.84 624.62 L145.21 625.56 L145.50 626.40 L145.72 627.13 L145.88 627.77 L145.99 628.36 L146.08 628.90 L146.13 629.42 L146.18 629.92 L146.24 630.45 L146.30 631.00 L146.37 631.57 L146.44 632.13 L146.51 632.69 L146.57 633.25 L146.62 633.82 L146.66 634.39 L146.69 634.99 L146.70 635.60 L146.70 636.24 L146.69 636.89 L146.67 637.57 L146.63 638.25 L146.59 638.94 L146.53 639.63 L146.47 640.32 L146.40 641.00 L146.32 641.68 L146.23 642.37 L146.13 643.06 L146.02 643.75 L145.90 644.43 L145.77 645.11 L145.64 645.76 L145.50 646.40 L145.35 647.01 L145.19 647.60 L145.02 648.18 L144.85 648.74 L144.67 649.30 L144.48 649.86 L144.29 650.43 L144.10 651.00 L143.90 651.59 L143.69 652.18 L143.48 652.77 L143.26 653.37 L143.04 653.96 L142.83 654.55 L142.61 655.13 L142.40 655.70 L142.19 656.25 L141.99 656.79 L141.79 657.32 L141.59 657.84 L141.39 658.36 L141.19 658.89 L140.99 659.44 L140.80 660.00 L140.61 660.58 L140.42 661.18 L140.23 661.78 L140.04 662.40 L139.85 663.02 L139.67 663.65 L139.48 664.27 L139.30 664.90 L139.12 665.51 L138.94 666.09 L138.77 666.67 L138.59 667.26 L138.42 667.87 L138.25 668.52 L138.07 669.22 L137.90 670.00 L137.72 670.92 L137.52 671.98 L137.31 673.14 L137.11 674.32 L136.92 675.46 L136.75 676.49 L136.61 677.36 L136.50 678.00 L136.10 678.00 L135.99 677.36 L135.85 676.49 L135.68 675.46 L135.49 674.32 L135.29 673.14 L135.08 671.98 L134.88 670.92 L134.70 670.00 L134.53 669.22 L134.35 668.52 L134.18 667.87 L134.01 667.26 L133.83 666.67 L133.66 666.09 L133.48 665.51 L133.30 664.90 L133.12 664.27 L132.93 663.65 L132.75 663.02 L132.56 662.40 L132.37 661.78 L132.18 661.18 L131.99 660.58 L131.80 660.00 L131.61 659.44 L131.41 658.89 L131.21 658.36 L131.01 657.84 L130.81 657.32 L130.61 656.79 L130.41 656.25 L130.20 655.70 L129.99 655.13 L129.78 654.55 L129.56 653.96 L129.34 653.37 L129.12 652.77 L128.91 652.18 L128.70 651.59 L128.50 651.00 L128.31 650.43 L128.12 649.86 L127.93 649.30 L127.75 648.74 L127.58 648.18 L127.41 647.60 L127.25 647.01 L127.10 646.40 L126.96 645.76 L126.83 645.11 L126.70 644.43 L126.58 643.75 L126.47 643.06 L126.37 642.37 L126.28 641.68 L126.20 641.00 L126.13 640.32 L126.07 639.63 L126.01 638.94 L125.97 638.25 L125.93 637.57 L125.91 636.89 L125.90 636.24 L125.90 635.60 L125.91 634.99 L125.94 634.39 L125.98 633.82 L126.03 633.25 L126.09 632.69 L126.16 632.13 L126.23 631.57 L126.30 631.00 L126.36 630.45 L126.42 629.92 L126.47 629.42 L126.53 628.90 L126.61 628.36 L126.72 627.77 L126.88 627.13 L127.10 626.40 L127.39 625.56 L127.76 624.62 L128.19 623.61 L128.64 622.56 L129.10 621.50 L129.54 620.47 L129.95 619.49 L130.30 618.60 L130.60 617.80 L130.87 617.07 L131.11 616.39 L131.34 615.73 L131.55 615.08 L131.74 614.43 L131.92 613.74 L132.10 613.00 L132.27 612.23 L132.42 611.44 L132.56 610.64 L132.69 609.82 L132.80 608.98 L132.91 608.11 L133.01 607.22 L133.10 606.30 L133.18 605.33 L133.24 604.31 L133.29 603.25 L133.34 602.18 L133.38 601.09 L133.41 600.03 L133.45 598.99 L133.50 598.00 L133.55 597.05 L133.60 596.14 L133.64 595.24 L133.69 594.36 L133.74 593.50 L133.79 592.63 L133.84 591.77 L133.90 590.90 L133.96 590.04 L134.03 589.21 L134.10 588.39 L134.17 587.57 L134.24 586.73 L134.32 585.87 L134.41 584.96 L134.50 584.00 L134.60 582.98 L134.71 581.90 L134.82 580.78 L134.94 579.63 L135.06 578.47 L135.18 577.30 L135.30 576.14 L135.40 575.00 L135.50 573.81 L135.61 572.54 L135.71 571.23 L135.81 569.94 L135.90 568.72 L135.98 567.62 L136.05 566.69 L136.10 566.00 Z" fill="url(#fadeR)"/>
<path d="M167.05 566.00 L167.08 567.09 L167.13 568.56 L167.18 570.31 L167.24 572.25 L167.30 574.28 L167.37 576.31 L167.43 578.25 L167.50 580.00 L167.57 581.61 L167.64 583.19 L167.71 584.73 L167.78 586.25 L167.86 587.73 L167.94 589.19 L168.02 590.61 L168.10 592.00 L168.18 593.36 L168.26 594.69 L168.35 595.98 L168.43 597.25 L168.52 598.48 L168.61 599.69 L168.70 600.86 L168.80 602.00 L168.90 603.11 L169.01 604.19 L169.12 605.23 L169.23 606.25 L169.35 607.23 L169.46 608.19 L169.58 609.11 L169.70 610.00 L169.82 610.85 L169.94 611.64 L170.06 612.40 L170.18 613.12 L170.31 613.84 L170.43 614.55 L170.56 615.26 L170.70 616.00 L170.84 616.75 L170.99 617.50 L171.15 618.25 L171.31 619.00 L171.46 619.75 L171.62 620.50 L171.76 621.25 L171.90 622.00 L172.03 622.75 L172.15 623.50 L172.27 624.25 L172.38 625.00 L172.49 625.75 L172.60 626.50 L172.70 627.25 L172.80 628.00 L172.89 628.75 L172.97 629.50 L173.05 630.25 L173.12 631.00 L173.20 631.75 L173.28 632.50 L173.38 633.25 L173.50 634.00 L173.64 634.76 L173.80 635.52 L173.96 636.29 L174.14 637.06 L174.33 637.82 L174.52 638.57 L174.71 639.30 L174.90 640.00 L175.10 640.67 L175.30 641.32 L175.52 641.95 L175.74 642.56 L175.95 643.17 L176.15 643.77 L176.34 644.38 L176.50 645.00 L176.65 645.62 L176.79 646.25 L176.92 646.88 L177.04 647.50 L177.14 648.12 L177.22 648.75 L177.27 649.38 L177.30 650.00 L177.30 650.62 L177.28 651.25 L177.24 651.88 L177.18 652.50 L177.09 653.12 L176.98 653.75 L176.85 654.38 L176.70 655.00 L176.52 655.63 L176.30 656.27 L176.06 656.92 L175.80 657.56 L175.53 658.20 L175.25 658.82 L174.97 659.42 L174.70 660.00 L174.43 660.55 L174.16 661.07 L173.88 661.57 L173.60 662.06 L173.32 662.54 L173.04 663.02 L172.77 663.51 L172.50 664.00 L172.24 664.50 L171.98 665.00 L171.72 665.50 L171.46 666.00 L171.21 666.50 L170.97 667.00 L170.73 667.50 L170.50 668.00 L170.28 668.50 L170.06 669.00 L169.84 669.50 L169.64 670.00 L169.44 670.50 L169.25 671.00 L169.07 671.50 L168.90 672.00 L168.74 672.49 L168.60 672.98 L168.47 673.46 L168.35 673.94 L168.23 674.43 L168.12 674.93 L168.01 675.45 L167.90 676.00 L167.78 676.61 L167.67 677.30 L167.55 678.02 L167.44 678.75 L167.33 679.45 L167.24 680.08 L167.16 680.61 L167.10 681.00 L166.70 681.00 L166.64 680.61 L166.56 680.08 L166.47 679.45 L166.36 678.75 L166.25 678.02 L166.13 677.30 L166.02 676.61 L165.90 676.00 L165.79 675.45 L165.68 674.93 L165.57 674.43 L165.45 673.94 L165.33 673.46 L165.20 672.98 L165.06 672.49 L164.90 672.00 L164.73 671.50 L164.55 671.00 L164.36 670.50 L164.16 670.00 L163.96 669.50 L163.74 669.00 L163.52 668.50 L163.30 668.00 L163.07 667.50 L162.83 667.00 L162.59 666.50 L162.34 666.00 L162.08 665.50 L161.82 665.00 L161.56 664.50 L161.30 664.00 L161.03 663.51 L160.76 663.02 L160.48 662.54 L160.20 662.06 L159.92 661.57 L159.64 661.07 L159.37 660.55 L159.10 660.00 L158.83 659.42 L158.55 658.82 L158.27 658.20 L158.00 657.56 L157.74 656.92 L157.50 656.27 L157.28 655.63 L157.10 655.00 L156.95 654.38 L156.82 653.75 L156.71 653.12 L156.62 652.50 L156.56 651.88 L156.52 651.25 L156.50 650.62 L156.50 650.00 L156.53 649.38 L156.58 648.75 L156.66 648.12 L156.76 647.50 L156.88 646.88 L157.01 646.25 L157.15 645.62 L157.30 645.00 L157.46 644.38 L157.65 643.77 L157.85 643.17 L158.06 642.56 L158.28 641.95 L158.50 641.32 L158.70 640.67 L158.90 640.00 L159.09 639.30 L159.28 638.57 L159.47 637.82 L159.66 637.06 L159.84 636.29 L160.00 635.52 L160.16 634.76 L160.30 634.00 L160.42 633.25 L160.52 632.50 L160.60 631.75 L160.68 631.00 L160.75 630.25 L160.83 629.50 L160.91 628.75 L161.00 628.00 L161.10 627.25 L161.20 626.50 L161.31 625.75 L161.42 625.00 L161.53 624.25 L161.65 623.50 L161.77 622.75 L161.90 622.00 L162.04 621.25 L162.18 620.50 L162.34 619.75 L162.49 619.00 L162.65 618.25 L162.81 617.50 L162.96 616.75 L163.10 616.00 L163.24 615.26 L163.37 614.55 L163.49 613.84 L163.62 613.12 L163.74 612.40 L163.86 611.64 L163.98 610.85 L164.10 610.00 L164.22 609.11 L164.34 608.19 L164.45 607.23 L164.57 606.25 L164.68 605.23 L164.79 604.19 L164.90 603.11 L165.00 602.00 L165.10 600.86 L165.19 599.69 L165.28 598.48 L165.37 597.25 L165.45 595.98 L165.54 594.69 L165.62 593.36 L165.70 592.00 L165.78 590.61 L165.86 589.19 L165.94 587.73 L166.02 586.25 L166.09 584.73 L166.16 583.19 L166.23 581.61 L166.30 580.00 L166.37 578.25 L166.43 576.31 L166.50 574.28 L166.56 572.25 L166.62 570.31 L166.67 568.56 L166.72 567.09 L166.75 566.00 Z" fill="url(#fadeB)"/>
<path d="M199.60 634.10 L199.82 634.21 L200.12 634.35 L200.48 634.52 L200.88 634.71 L201.29 634.91 L201.70 635.12 L202.07 635.32 L202.40 635.50 L202.70 635.67 L203.00 635.85 L203.30 636.02 L203.58 636.20 L203.83 636.38 L204.04 636.55 L204.20 636.73 L204.30 636.90 L204.32 637.07 L204.27 637.25 L204.16 637.42 L204.02 637.60 L203.85 637.77 L203.68 637.95 L203.53 638.12 L203.40 638.30 L203.27 638.48 L203.11 638.65 L202.93 638.83 L202.77 639.01 L202.63 639.19 L202.54 639.36 L202.53 639.53 L202.60 639.70 L202.77 639.86 L203.02 640.01 L203.33 640.16 L203.70 640.31 L204.10 640.46 L204.53 640.60 L204.97 640.75 L205.40 640.90 L205.86 641.05 L206.39 641.20 L206.95 641.36 L207.52 641.51 L208.07 641.66 L208.59 641.81 L209.04 641.96 L209.40 642.10 L209.67 642.23 L209.89 642.36 L210.04 642.49 L210.16 642.61 L210.23 642.73 L210.27 642.85 L210.29 642.98 L210.30 643.10 L210.29 643.22 L210.27 643.35 L210.23 643.47 L210.16 643.59 L210.04 643.71 L209.89 643.84 L209.67 643.97 L209.40 644.10 L209.04 644.24 L208.59 644.39 L208.07 644.54 L207.52 644.69 L206.95 644.84 L206.39 645.00 L205.86 645.15 L205.40 645.30 L204.97 645.45 L204.53 645.60 L204.10 645.74 L203.70 645.89 L203.33 646.04 L203.02 646.19 L202.77 646.34 L202.60 646.50 L202.53 646.67 L202.54 646.84 L202.63 647.01 L202.77 647.19 L202.93 647.37 L203.11 647.55 L203.27 647.72 L203.40 647.90 L203.53 648.07 L203.68 648.25 L203.85 648.42 L204.02 648.60 L204.16 648.77 L204.27 648.95 L204.32 649.12 L204.30 649.30 L204.20 649.47 L204.04 649.65 L203.83 649.82 L203.58 650.00 L203.30 650.17 L203.00 650.35 L202.70 650.52 L202.40 650.70 L202.07 650.88 L201.70 651.08 L201.29 651.29 L200.88 651.49 L200.48 651.68 L200.12 651.85 L199.82 651.99 L199.60 652.10 L199.20 652.10 L198.98 651.99 L198.68 651.85 L198.32 651.68 L197.92 651.49 L197.51 651.29 L197.10 651.08 L196.73 650.88 L196.40 650.70 L196.10 650.52 L195.80 650.35 L195.50 650.17 L195.22 650.00 L194.97 649.82 L194.76 649.65 L194.60 649.47 L194.50 649.30 L194.48 649.12 L194.53 648.95 L194.64 648.77 L194.78 648.60 L194.95 648.42 L195.12 648.25 L195.27 648.07 L195.40 647.90 L195.53 647.72 L195.69 647.55 L195.87 647.37 L196.03 647.19 L196.17 647.01 L196.26 646.84 L196.27 646.67 L196.20 646.50 L196.03 646.34 L195.78 646.19 L195.47 646.04 L195.10 645.89 L194.70 645.74 L194.27 645.60 L193.83 645.45 L193.40 645.30 L192.94 645.15 L192.41 645.00 L191.85 644.84 L191.28 644.69 L190.73 644.54 L190.21 644.39 L189.76 644.24 L189.40 644.10 L189.13 643.97 L188.91 643.84 L188.76 643.71 L188.64 643.59 L188.57 643.47 L188.53 643.35 L188.51 643.22 L188.50 643.10 L188.51 642.98 L188.53 642.85 L188.57 642.73 L188.64 642.61 L188.76 642.49 L188.91 642.36 L189.13 642.23 L189.40 642.10 L189.76 641.96 L190.21 641.81 L190.73 641.66 L191.28 641.51 L191.85 641.36 L192.41 641.20 L192.94 641.05 L193.40 640.90 L193.83 640.75 L194.27 640.60 L194.70 640.46 L195.10 640.31 L195.47 640.16 L195.78 640.01 L196.03 639.86 L196.20 639.70 L196.27 639.53 L196.26 639.36 L196.17 639.19 L196.03 639.01 L195.87 638.83 L195.69 638.65 L195.53 638.48 L195.40 638.30 L195.27 638.12 L195.12 637.95 L194.95 637.77 L194.78 637.60 L194.64 637.42 L194.53 637.25 L194.48 637.07 L194.50 636.90 L194.60 636.73 L194.76 636.55 L194.97 636.38 L195.22 636.20 L195.50 636.02 L195.80 635.85 L196.10 635.67 L196.40 635.50 L196.73 635.32 L197.10 635.12 L197.51 634.91 L197.92 634.71 L198.32 634.52 L198.68 634.35 L198.98 634.21 L199.20 634.10 Z" fill="#6ea7d2"/>
<line x1="106.40" y1="575.00" x2="106.40" y2="652.00" stroke="#2b2b2b" stroke-width="0.7"/>
<rect x="104.95" y="598.60" width="2.90" height="27.40" fill="#ffffff" stroke="#2b2b2b" stroke-width="0.5"/>
<line x1="104.95" y1="615.20" x2="107.85" y2="615.20" stroke="#2b2b2b" stroke-width="0.6"/>
<line x1="136.30" y1="602.00" x2="136.30" y2="662.00" stroke="#2b2b2b" stroke-width="0.7"/>
<rect x="134.85" y="621.70" width="2.90" height="23.60" fill="#ffffff" stroke="#2b2b2b" stroke-width="0.5"/>
<line x1="134.85" y1="634.00" x2="137.75" y2="634.00" stroke="#2b2b2b" stroke-width="0.6"/>
<line x1="166.90" y1="604.00" x2="166.90" y2="668.00" stroke="#2b2b2b" stroke-width="0.7"/>
<rect x="165.45" y="623.20" width="2.90" height="27.10" fill="#ffffff" stroke="#2b2b2b" stroke-width="0.5"/>
<line x1="165.45" y1="640.50" x2="168.35" y2="640.50" stroke="#2b2b2b" stroke-width="0.6"/>
<line x1="199.40" y1="637.50" x2="199.40" y2="648.50" stroke="#2b2b2b" stroke-width="0.7"/>
<rect x="198.30" y="641.40" width="2.20" height="3.40" fill="#ffffff" stroke="#2b2b2b" stroke-width="0.5"/>
<line x1="198.30" y1="643.10" x2="200.50" y2="643.10" stroke="#2b2b2b" stroke-width="0.6"/>
<circle cx="107.18" cy="617.29" r="0.6" fill="#1c1c1c" stroke="none" stroke-width="0"/>
<circle cx="105.95" cy="654.09" r="0.6" fill="#1c1c1c" stroke="none" stroke-width="0"/>
<circle cx="107.54" cy="621.61" r="0.6" fill="#1c1c1c" stroke="none" stroke-width="0"/>
<circle cx="106.55" cy="596.40" r="0.6" fill="#1c1c1c" stroke="none" stroke-width="0"/>
<circle cx="110.21" cy="631.13" r="0.6" fill="#1c1c1c" stroke="none" stroke-width="0"/>
<circle cx="103.84" cy="589.34" r="0.6" fill="#1c1c1c" stroke="none" stroke-width="0"/>
<circle cx="110.43" cy="589.07" r="0.6" fill="#1c1c1c" stroke="none" stroke-width="0"/>
<circle cx="100.44" cy="636.09" r="0.6" fill="#1c1c1c" stroke="none" stroke-width="0"/>
<circle cx="112.44" cy="658.61" r="0.6" fill="#1c1c1c" stroke="none" stroke-width="0"/>
<circle cx="107.90" cy="633.01" r="0.6" fill="#1c1c1c" stroke="none" stroke-width="0"/>
<circle cx="100.10" cy="594.28" r="0.6" fill="#1c1c1c" stroke="none" stroke-width="0"/>
<circle cx="100.67" cy="623.21" r="0.6" fill="#1c1c1c" stroke="none" stroke-width="0"/>
<circle cx="103.05" cy="596.84" r="0.6" fill="#1c1c1c" stroke="none" stroke-width="0"/>
<circle cx="105.93" cy="584.35" r="0.6" fill="#1c1c1c" stroke="none" stroke-width="0"/>
<circle cx="110.85" cy="616.36" r="0.6" fill="#1c1c1c" stroke="none" stroke-width="0"/>
<circle cx="108.22" cy="622.49" r="0.6" fill="#1c1c1c" stroke="none" stroke-width="0"/>
<circle cx="108.51" cy="620.98" r="0.6" fill="#1c1c1c" stroke="none" stroke-width="0"/>
<circle cx="103.52" cy="617.67" r="0.6" fill="#1c1c1c" stroke="none" stroke-width="0"/>
<circle cx="112.84" cy="659.82" r="0.6" fill="#1c1c1c" stroke="none" stroke-width="0"/>
<circle cx="109.10" cy="647.54" r="0.6" fill="#1c1c1c" stroke="none" stroke-width="0"/>
<circle cx="102.89" cy="606.59" r="0.6" fill="#1c1c1c" stroke="none" stroke-width="0"/>
<circle cx="100.81" cy="604.55" r="0.6" fill="#1c1c1c" stroke="none" stroke-width="0"/>
<circle cx="105.11" cy="641.77" r="0.6" fill="#1c1c1c" stroke="none" stroke-width="0"/>
<circle cx="104.92" cy="648.03" r="0.6" fill="#1c1c1c" stroke="none" stroke-width="0"/>
<circle cx="110.92" cy="656.73" r="0.6" fill="#1c1c1c" stroke="none" stroke-width="0"/>
<circle cx="102.63" cy="582.04" r="0.6" fill="#1c1c1c" stroke="none" stroke-width="0"/>
<circle cx="106.01" cy="653.00" r="0.6" fill="#1c1c1c" stroke="none" stroke-width="0"/>
<circle cx="105.07" cy="658.47" r="0.6" fill="#1c1c1c" stroke="none" stroke-width="0"/>
<circle cx="108.08" cy="587.70" r="0.6" fill="#1c1c1c" stroke="none" stroke-width="0"/>
<circle cx="103.41" cy="642.72" r="0.6" fill="#1c1c1c" stroke="none" stroke-width="0"/>
<circle cx="104.22" cy="588.80" r="0.6" fill="#1c1c1c" stroke="none" stroke-width="0"/>
<circle cx="109.75" cy="657.20" r="0.6" fill="#1c1c1c" stroke="none" stroke-width="0"/>
<circle cx="103.10" cy="591.20" r="0.6" fill="#1c1c1c" stroke="none" stroke-width="0"/>
<circle cx="100.68" cy="589.88" r="0.6" fill="#1c1c1c" stroke="none" stroke-width="0"/>
<circle cx="132.43" cy="652.57" r="0.6" fill="#1c1c1c" stroke="none" stroke-width="0"/>
<circle cx="135.67" cy="634.51" r="0.6" fill="#1c1c1c" stroke="none" stroke-width="0"/>
<circle cx="139.08" cy="606.49" r="0.6" fill="#1c1c1c" stroke="none" stroke-width="0"/>
<circle cx="138.02" cy="601.95" r="0.6" fill="#1c1c1c" stroke="none" stroke-width="0"/>
<circle cx="135.35" cy="600.85" r="0.6" fill="#1c1c1c" stroke="none" stroke-width="0"/>
<circle cx="133.54" cy="608.18" r="0.6" fill="#1c1c1c" stroke="none" stroke-width="0"/>
<circle cx="139.94" cy="665.79" r="0.6" fill="#1c1c1c" stroke="none" stroke-width="0"/>
<circle cx="140.92" cy="615.12" r="0.6" fill="#1c1c1c" stroke="none" stroke-width="0"/>
<circle cx="135.03" cy="608.01" r="0.6" fill="#1c1c1c" stroke="none" stroke-width="0"/>
<circle cx="138.00" cy="656.93" r="0.6" fill="#1c1c1c" stroke="none" stroke-width="0"/>
<circle cx="142.17" cy="599.63" r="0.6" fill="#1c1c1c" stroke="none" stroke-width="0"/>
<circle cx="133.40" cy="608.21" r="0.6" fill="#1c1c1c" stroke="none" stroke-width="0"/>
<circle cx="134.25" cy="650.72" r="0.6" fill="#1c1c1c" stroke="none" stroke-width="0"/>
<circle cx="131.18" cy="614.52" r="0.6" fill="#1c1c1c" stroke="none" stroke-width="0"/>
<circle cx="137.29" cy="598.85" r="0.6" fill="#1c1c1c" stroke="none" stroke-width="0"/>
<circle cx="137.52" cy="610.47" r="0.6" fill="#1c1c1c" stroke="none" stroke-width="0"/>
<circle cx="135.74" cy="620.25" r="0.6" fill="#1c1c1c" stroke="none" stroke-width="0"/>
<circle cx="136.10" cy="664.89" r="0.6" fill="#1c1c1c" stroke="none" stroke-width="0"/>
<circle cx="140.70" cy="635.67" r="0.6" fill="#1c1c1c" stroke="none" stroke-width="0"/>
<circle cx="132.15" cy="605.89" r="0.6" fill="#1c1c1c" stroke="none" stroke-width="0"/>
<circle cx="140.11" cy="661.04" r="0.6" fill="#1c1c1c" stroke="none" stroke-width="0"/>
<circle cx="132.58" cy="610.96" r="0.6" fill="#1c1c1c" stroke="none" stroke-width="0"/>
<circle cx="141.58" cy="648.20" r="0.6" fill="#1c1c1c" stroke="none" stroke-width="0"/>
<circle cx="141.70" cy="606.94" r="0.6" fill="#1c1c1c" stroke="none" stroke-width="0"/>
<circle cx="137.54" cy="659.05" r="0.6" fill="#1c1c1c" stroke="none" stroke-width="0"/>
<circle cx="131.55" cy="624.03" r="0.6" fill="#1c1c1c" stroke="none" stroke-width="0"/>
<circle cx="141.85" cy="594.94" r="0.6" fill="#1c1c1c" stroke="none" stroke-width="0"/>
<circle cx="138.75" cy="610.12" r="0.6" fill="#1c1c1c" stroke="none" stroke-width="0"/>
<circle cx="140.18" cy="611.53" r="0.6" fill="#1c1c1c" stroke="none" stroke-width="0"/>
<circle cx="133.82" cy="637.33" r="0.6" fill="#1c1c1c" stroke="none" stroke-width="0"/>
<circle cx="169.54" cy="621.82" r="0.6" fill="#1c1c1c" stroke="none" stroke-width="0"/>
<circle cx="163.64" cy="615.85" r="0.6" fill="#1c1c1c" stroke="none" stroke-width="0"/>
<circle cx="171.13" cy="643.32" r="0.6" fill="#1c1c1c" stroke="none" stroke-width="0"/>
<circle cx="164.26" cy="646.40" r="0.6" fill="#1c1c1c" stroke="none" stroke-width="0"/>
<circle cx="163.35" cy="663.37" r="0.6" fill="#1c1c1c" stroke="none" stroke-width="0"/>
<circle cx="164.13" cy="612.93" r="0.6" fill="#1c1c1c" stroke="none" stroke-width="0"/>
<circle cx="161.63" cy="636.96" r="0.6" fill="#1c1c1c" stroke="none" stroke-width="0"/>
<circle cx="165.33" cy="621.87" r="0.6" fill="#1c1c1c" stroke="none" stroke-width="0"/>
<circle cx="162.48" cy="644.04" r="0.6" fill="#1c1c1c" stroke="none" stroke-width="0"/>
<circle cx="171.59" cy="632.28" r="0.6" fill="#1c1c1c" stroke="none" stroke-width="0"/>
<circle cx="168.78" cy="666.91" r="0.6" fill="#1c1c1c" stroke="none" stroke-width="0"/>
<circle cx="167.91" cy="650.71" r="0.6" fill="#1c1c1c" stroke="none" stroke-width="0"/>
<circle cx="161.32" cy="619.86" r="0.6" fill="#1c1c1c" stroke="none" stroke-width="0"/>
<circle cx="171.82" cy="613.00" r="0.6" fill="#1c1c1c" stroke="none" stroke-width="0"/>
<circle cx="172.45" cy="651.25" r="0.6" fill="#1c1c1c" stroke="none" stroke-width="0"/>
<circle cx="168.53" cy="613.19" r="0.6" fill="#1c1c1c" stroke="none" stroke-width="0"/>
<circle cx="169.67" cy="639.01" r="0.6" fill="#1c1c1c" stroke="none" stroke-width="0"/>
<circle cx="172.89" cy="629.86" r="0.6" fill="#1c1c1c" stroke="none" stroke-width="0"/>
<circle cx="167.45" cy="616.21" r="0.6" fill="#1c1c1c" stroke="none" stroke-width="0"/>
<circle cx="171.70" cy="653.27" r="0.6" fill="#1c1c1c" stroke="none" stroke-width="0"/>
<circle cx="169.34" cy="653.28" r="0.6" fill="#1c1c1c" stroke="none" stroke-width="0"/>
<circle cx="171.88" cy="656.42" r="0.6" fill="#1c1c1c" stroke="none" stroke-width="0"/>
<circle cx="169.12" cy="631.70" r="0.6" fill="#1c1c1c" stroke="none" stroke-width="0"/>
<circle cx="171.35" cy="662.45" r="0.6" fill="#1c1c1c" stroke="none" stroke-width="0"/>
<circle cx="200.27" cy="641.75" r="0.6" fill="#1c1c1c" stroke="none" stroke-width="0"/>
<circle cx="199.62" cy="645.77" r="0.6" fill="#1c1c1c" stroke="none" stroke-width="0"/>
<circle cx="199.05" cy="643.62" r="0.6" fill="#1c1c1c" stroke="none" stroke-width="0"/>
<circle cx="199.73" cy="643.24" r="0.6" fill="#1c1c1c" stroke="none" stroke-width="0"/>
<circle cx="199.82" cy="638.72" r="0.6" fill="#1c1c1c" stroke="none" stroke-width="0"/>
<circle cx="128.50" cy="592.00" r="0.6" fill="#1c1c1c" stroke="none" stroke-width="0"/>
<circle cx="142.50" cy="600.00" r="0.6" fill="#1c1c1c" stroke="none" stroke-width="0"/>
<circle cx="173.30" cy="592.30" r="0.6" fill="#1c1c1c" stroke="none" stroke-width="0"/>
<circle cx="143.20" cy="664.80" r="0.6" fill="#1c1c1c" stroke="none" stroke-width="0"/>
<path d="M106.40 573.50 V570.90 H136.30 V573.50" fill="none" stroke="#333" stroke-width="1.0"/>
<text x="122.80" y="568.30" font-size="8" text-anchor="middle" fill="#1a1a1a" dy="0.36em">**</text>
<path d="M106.40 562.90 V560.30 H166.90 V562.90" fill="none" stroke="#4d4d4d" stroke-width="0.8"/>
<text x="137.30" y="557.80" font-size="8" text-anchor="middle" fill="#1a1a1a" dy="0.36em">***</text>
<path d="M106.40 552.70 V550.10 H200.00 V552.70" fill="none" stroke="#4d4d4d" stroke-width="0.8"/>
<text x="150.70" y="547.60" font-size="8" text-anchor="middle" fill="#1a1a1a" dy="0.36em">**</text>
<path d="M136.30 542.40 V539.80 H166.90 V542.40" fill="none" stroke="#4d4d4d" stroke-width="0.8"/>
<text x="152.50" y="535.00" font-size="8.3" text-anchor="middle" fill="#1a1a1a" dy="0.36em">NS</text>
<path d="M136.30 532.10 V529.50 H200.00 V532.10" fill="none" stroke="#4d4d4d" stroke-width="0.8"/>
<text x="163.80" y="524.70" font-size="8.3" text-anchor="middle" fill="#1a1a1a" dy="0.36em">NS</text>
<path d="M166.90 520.50 V517.90 H200.00 V520.50" fill="none" stroke="#4d4d4d" stroke-width="0.8"/>
<text x="184.00" y="513.00" font-size="8.3" text-anchor="middle" fill="#1a1a1a" dy="0.36em">NS</text>
<line x1="78.60" y1="512.60" x2="78.60" y2="693.30" stroke="#4a4a4a" stroke-width="0.8"/>
<line x1="78.20" y1="693.30" x2="210.20" y2="693.30" stroke="#4a4a4a" stroke-width="0.8"/>
<text x="75.20" y="544.80" font-size="8.2" text-anchor="end" fill="#1a1a1a" dy="0.36em">4</text>
<line x1="76.60" y1="544.80" x2="78.60" y2="544.80" stroke="#4a4a4a" stroke-width="0.7"/>
<text x="75.20" y="593.30" font-size="8.2" text-anchor="end" fill="#1a1a1a" dy="0.36em">2</text>
<line x1="76.60" y1="593.30" x2="78.60" y2="593.30" stroke="#4a4a4a" stroke-width="0.7"/>
<text x="75.20" y="641.80" font-size="8.2" text-anchor="end" fill="#1a1a1a" dy="0.36em">0</text>
<line x1="76.60" y1="641.80" x2="78.60" y2="641.80" stroke="#4a4a4a" stroke-width="0.7"/>
<text x="75.20" y="690.30" font-size="8.2" text-anchor="end" fill="#1a1a1a" dy="0.36em">−2</text>
<line x1="76.60" y1="690.30" x2="78.60" y2="690.30" stroke="#4a4a4a" stroke-width="0.7"/>
<line x1="106.40" y1="693.30" x2="106.40" y2="695.20" stroke="#4a4a4a" stroke-width="0.7"/>
<text x="105.80" y="698.90" font-size="8.3" text-anchor="end" fill="#1a1a1a" dy="0.36em" transform="rotate(-45 105.80 698.90)">0M</text>
<line x1="136.30" y1="693.30" x2="136.30" y2="695.20" stroke="#4a4a4a" stroke-width="0.7"/>
<text x="135.70" y="698.90" font-size="8.3" text-anchor="end" fill="#1a1a1a" dy="0.36em" transform="rotate(-45 135.70 698.90)">12M</text>
<line x1="166.90" y1="693.30" x2="166.90" y2="695.20" stroke="#4a4a4a" stroke-width="0.7"/>
<text x="166.30" y="698.90" font-size="8.3" text-anchor="end" fill="#1a1a1a" dy="0.36em" transform="rotate(-45 166.30 698.90)">Local_H</text>
<line x1="199.40" y1="693.30" x2="199.40" y2="695.20" stroke="#4a4a4a" stroke-width="0.7"/>
<text x="198.80" y="698.90" font-size="8.3" text-anchor="end" fill="#1a1a1a" dy="0.36em" transform="rotate(-45 198.80 698.90)">Local_T</text>
<text x="63.70" y="609.40" font-size="9.2" text-anchor="middle" fill="#1a1a1a" dy="0.36em" transform="rotate(-90 63.70 609.40)">Ratio(log10)</text>
</g>
<g id="panelE">
<text x="297.20" y="495.40" font-size="15" text-anchor="middle" fill="#1a1a1a" dy="0.36em">E</text>
<rect x="408.60" y="487.70" width="12.60" height="5.90" fill="#8bc058" stroke="none" stroke-width="0"/>
<text x="426.40" y="490.60" font-size="8.2" text-anchor="start" fill="#1a1a1a" dy="0.36em">0M</text>
<rect x="452.20" y="487.70" width="12.60" height="5.90" fill="#d22c33" stroke="none" stroke-width="0"/>
<text x="470.20" y="490.60" font-size="8.2" text-anchor="start" fill="#1a1a1a" dy="0.36em">12M</text>
<text x="325.20" y="513.20" font-size="9.4" text-anchor="end" fill="#1a1a1a" dy="0.36em">5</text>
<text x="325.20" y="571.50" font-size="9.4" text-anchor="end" fill="#1a1a1a" dy="0.36em">0</text>
<text x="325.20" y="629.90" font-size="9.4" text-anchor="end" fill="#1a1a1a" dy="0.36em">-5</text>
<text x="325.20" y="688.30" font-size="9.4" text-anchor="end" fill="#1a1a1a" dy="0.36em">-10</text>
<text x="307.20" y="603.00" font-size="8.85" text-anchor="middle" fill="#1a1a1a" dy="0.36em" transform="rotate(-90 307.20 603.00)">Relative abundacne(log10)</text>
<rect x="327.70" y="498.20" width="19.80" height="197.10" fill="#c7d2da" stroke="none" stroke-width="0"/>
<line x1="327.70" y1="513.20" x2="347.50" y2="513.20" stroke="#d3dce3" stroke-width="0.6"/>
<line x1="327.70" y1="571.50" x2="347.50" y2="571.50" stroke="#d3dce3" stroke-width="0.6"/>
<line x1="327.70" y1="629.90" x2="347.50" y2="629.90" stroke="#d3dce3" stroke-width="0.6"/>
<line x1="327.70" y1="688.30" x2="347.50" y2="688.30" stroke="#d3dce3" stroke-width="0.6"/>
<line x1="348.40" y1="513.20" x2="368.00" y2="513.20" stroke="#e8e8e8" stroke-width="0.6"/>
<line x1="348.40" y1="571.50" x2="368.00" y2="571.50" stroke="#e8e8e8" stroke-width="0.6"/>
<line x1="348.40" y1="629.90" x2="368.00" y2="629.90" stroke="#e8e8e8" stroke-width="0.6"/>
<line x1="348.40" y1="688.30" x2="368.00" y2="688.30" stroke="#e8e8e8" stroke-width="0.6"/>
<line x1="353.60" y1="498.20" x2="353.60" y2="695.30" stroke="#e8e8e8" stroke-width="0.8"/>
<line x1="362.60" y1="498.20" x2="362.60" y2="695.30" stroke="#e8e8e8" stroke-width="0.8"/>
<rect x="379.80" y="498.20" width="19.80" height="197.10" fill="#c7d2da" stroke="none" stroke-width="0"/>
<line x1="379.80" y1="513.20" x2="399.60" y2="513.20" stroke="#d3dce3" stroke-width="0.6"/>
<line x1="379.80" y1="571.50" x2="399.60" y2="571.50" stroke="#d3dce3" stroke-width="0.6"/>
<line x1="379.80" y1="629.90" x2="399.60" y2="629.90" stroke="#d3dce3" stroke-width="0.6"/>
<line x1="379.80" y1="688.30" x2="399.60" y2="688.30" stroke="#d3dce3" stroke-width="0.6"/>
<line x1="400.40" y1="513.20" x2="420.00" y2="513.20" stroke="#e8e8e8" stroke-width="0.6"/>
<line x1="400.40" y1="571.50" x2="420.00" y2="571.50" stroke="#e8e8e8" stroke-width="0.6"/>
<line x1="400.40" y1="629.90" x2="420.00" y2="629.90" stroke="#e8e8e8" stroke-width="0.6"/>
<line x1="400.40" y1="688.30" x2="420.00" y2="688.30" stroke="#e8e8e8" stroke-width="0.6"/>
<line x1="405.60" y1="498.20" x2="405.60" y2="695.30" stroke="#e8e8e8" stroke-width="0.8"/>
<line x1="414.60" y1="498.20" x2="414.60" y2="695.30" stroke="#e8e8e8" stroke-width="0.8"/>
<line x1="420.45" y1="513.20" x2="440.05" y2="513.20" stroke="#e8e8e8" stroke-width="0.6"/>
<line x1="420.45" y1="571.50" x2="440.05" y2="571.50" stroke="#e8e8e8" stroke-width="0.6"/>
<line x1="420.45" y1="629.90" x2="440.05" y2="629.90" stroke="#e8e8e8" stroke-width="0.6"/>
<line x1="420.45" y1="688.30" x2="440.05" y2="688.30" stroke="#e8e8e8" stroke-width="0.6"/>
<line x1="425.65" y1="498.20" x2="425.65" y2="695.30" stroke="#e8e8e8" stroke-width="0.8"/>
<line x1="434.65" y1="498.20" x2="434.65" y2="695.30" stroke="#e8e8e8" stroke-width="0.8"/>
<line x1="440.50" y1="513.20" x2="460.10" y2="513.20" stroke="#e8e8e8" stroke-width="0.6"/>
<line x1="440.50" y1="571.50" x2="460.10" y2="571.50" stroke="#e8e8e8" stroke-width="0.6"/>
<line x1="440.50" y1="629.90" x2="460.10" y2="629.90" stroke="#e8e8e8" stroke-width="0.6"/>
<line x1="440.50" y1="688.30" x2="460.10" y2="688.30" stroke="#e8e8e8" stroke-width="0.6"/>
<line x1="445.70" y1="498.20" x2="445.70" y2="695.30" stroke="#e8e8e8" stroke-width="0.8"/>
<line x1="454.70" y1="498.20" x2="454.70" y2="695.30" stroke="#e8e8e8" stroke-width="0.8"/>
<line x1="460.55" y1="513.20" x2="480.15" y2="513.20" stroke="#e8e8e8" stroke-width="0.6"/>
<line x1="460.55" y1="571.50" x2="480.15" y2="571.50" stroke="#e8e8e8" stroke-width="0.6"/>
<line x1="460.55" y1="629.90" x2="480.15" y2="629.90" stroke="#e8e8e8" stroke-width="0.6"/>
<line x1="460.55" y1="688.30" x2="480.15" y2="688.30" stroke="#e8e8e8" stroke-width="0.6"/>
<line x1="465.75" y1="498.20" x2="465.75" y2="695.30" stroke="#e8e8e8" stroke-width="0.8"/>
<line x1="474.75" y1="498.20" x2="474.75" y2="695.30" stroke="#e8e8e8" stroke-width="0.8"/>
<line x1="480.60" y1="513.20" x2="500.20" y2="513.20" stroke="#e8e8e8" stroke-width="0.6"/>
<line x1="480.60" y1="571.50" x2="500.20" y2="571.50" stroke="#e8e8e8" stroke-width="0.6"/>
<line x1="480.60" y1="629.90" x2="500.20" y2="629.90" stroke="#e8e8e8" stroke-width="0.6"/>
<line x1="480.60" y1="688.30" x2="500.20" y2="688.30" stroke="#e8e8e8" stroke-width="0.6"/>
<line x1="485.80" y1="498.20" x2="485.80" y2="695.30" stroke="#e8e8e8" stroke-width="0.8"/>
<line x1="494.80" y1="498.20" x2="494.80" y2="695.30" stroke="#e8e8e8" stroke-width="0.8"/>
<line x1="500.65" y1="513.20" x2="520.25" y2="513.20" stroke="#e8e8e8" stroke-width="0.6"/>
<line x1="500.65" y1="571.50" x2="520.25" y2="571.50" stroke="#e8e8e8" stroke-width="0.6"/>
<line x1="500.65" y1="629.90" x2="520.25" y2="629.90" stroke="#e8e8e8" stroke-width="0.6"/>
<line x1="500.65" y1="688.30" x2="520.25" y2="688.30" stroke="#e8e8e8" stroke-width="0.6"/>
<line x1="505.85" y1="498.20" x2="505.85" y2="695.30" stroke="#e8e8e8" stroke-width="0.8"/>
<line x1="514.85" y1="498.20" x2="514.85" y2="695.30" stroke="#e8e8e8" stroke-width="0.8"/>
<line x1="520.70" y1="513.20" x2="540.30" y2="513.20" stroke="#e8e8e8" stroke-width="0.6"/>
<line x1="520.70" y1="571.50" x2="540.30" y2="571.50" stroke="#e8e8e8" stroke-width="0.6"/>
<line x1="520.70" y1="629.90" x2="540.30" y2="629.90" stroke="#e8e8e8" stroke-width="0.6"/>
<line x1="520.70" y1="688.30" x2="540.30" y2="688.30" stroke="#e8e8e8" stroke-width="0.6"/>
<line x1="525.90" y1="498.20" x2="525.90" y2="695.30" stroke="#e8e8e8" stroke-width="0.8"/>
<line x1="534.90" y1="498.20" x2="534.90" y2="695.30" stroke="#e8e8e8" stroke-width="0.8"/>
<line x1="540.75" y1="513.20" x2="560.35" y2="513.20" stroke="#e8e8e8" stroke-width="0.6"/>
<line x1="540.75" y1="571.50" x2="560.35" y2="571.50" stroke="#e8e8e8" stroke-width="0.6"/>
<line x1="540.75" y1="629.90" x2="560.35" y2="629.90" stroke="#e8e8e8" stroke-width="0.6"/>
<line x1="540.75" y1="688.30" x2="560.35" y2="688.30" stroke="#e8e8e8" stroke-width="0.6"/>
<line x1="545.95" y1="498.20" x2="545.95" y2="695.30" stroke="#e8e8e8" stroke-width="0.8"/>
<line x1="554.95" y1="498.20" x2="554.95" y2="695.30" stroke="#e8e8e8" stroke-width="0.8"/>
<line x1="560.80" y1="513.20" x2="580.40" y2="513.20" stroke="#e8e8e8" stroke-width="0.6"/>
<line x1="560.80" y1="571.50" x2="580.40" y2="571.50" stroke="#e8e8e8" stroke-width="0.6"/>
<line x1="560.80" y1="629.90" x2="580.40" y2="629.90" stroke="#e8e8e8" stroke-width="0.6"/>
<line x1="560.80" y1="688.30" x2="580.40" y2="688.30" stroke="#e8e8e8" stroke-width="0.6"/>
<line x1="566.00" y1="498.20" x2="566.00" y2="695.30" stroke="#e8e8e8" stroke-width="0.8"/>
<line x1="575.00" y1="498.20" x2="575.00" y2="695.30" stroke="#e8e8e8" stroke-width="0.8"/>
<line x1="580.85" y1="513.20" x2="599.45" y2="513.20" stroke="#e8e8e8" stroke-width="0.6"/>
<line x1="580.85" y1="571.50" x2="599.45" y2="571.50" stroke="#e8e8e8" stroke-width="0.6"/>
<line x1="580.85" y1="629.90" x2="599.45" y2="629.90" stroke="#e8e8e8" stroke-width="0.6"/>
<line x1="580.85" y1="688.30" x2="599.45" y2="688.30" stroke="#e8e8e8" stroke-width="0.6"/>
<line x1="586.05" y1="498.20" x2="586.05" y2="695.30" stroke="#e8e8e8" stroke-width="0.8"/>
<line x1="595.05" y1="498.20" x2="595.05" y2="695.30" stroke="#e8e8e8" stroke-width="0.8"/>
<line x1="353.60" y1="519.40" x2="362.60" y2="531.55" stroke="#c9c9cd" stroke-width="0.5" opacity="0.9"/>
<line x1="353.60" y1="616.20" x2="362.60" y2="567.80" stroke="#c9c9cd" stroke-width="0.5" opacity="0.9"/>
<line x1="353.60" y1="566.64" x2="362.60" y2="583.40" stroke="#c9c9cd" stroke-width="0.5" opacity="0.9"/>
<line x1="353.60" y1="534.54" x2="362.60" y2="546.07" stroke="#c9c9cd" stroke-width="0.5" opacity="0.9"/>
<line x1="353.60" y1="615.00" x2="362.60" y2="559.27" stroke="#c9c9cd" stroke-width="0.5" opacity="0.9"/>
<line x1="353.60" y1="575.18" x2="362.60" y2="618.41" stroke="#c9c9cd" stroke-width="0.5" opacity="0.9"/>
<line x1="353.60" y1="533.77" x2="362.60" y2="600.80" stroke="#c9c9cd" stroke-width="0.5" opacity="0.9"/>
<line x1="353.60" y1="535.39" x2="362.60" y2="574.83" stroke="#c9c9cd" stroke-width="0.5" opacity="0.9"/>
<line x1="353.60" y1="559.48" x2="362.60" y2="621.13" stroke="#c9c9cd" stroke-width="0.5" opacity="0.9"/>
<line x1="353.60" y1="577.86" x2="362.60" y2="580.46" stroke="#c9c9cd" stroke-width="0.5" opacity="0.9"/>
<line x1="353.60" y1="612.97" x2="362.60" y2="573.03" stroke="#c9c9cd" stroke-width="0.5" opacity="0.9"/>
<line x1="353.60" y1="578.15" x2="362.60" y2="548.54" stroke="#c9c9cd" stroke-width="0.5" opacity="0.9"/>
<line x1="353.60" y1="555.65" x2="362.60" y2="576.86" stroke="#c9c9cd" stroke-width="0.5" opacity="0.9"/>
<line x1="353.60" y1="554.54" x2="362.60" y2="548.82" stroke="#c9c9cd" stroke-width="0.5" opacity="0.9"/>
<line x1="353.60" y1="535.19" x2="362.60" y2="622.30" stroke="#c9c9cd" stroke-width="0.5" opacity="0.9"/>
<line x1="353.60" y1="571.38" x2="362.60" y2="575.52" stroke="#c9c9cd" stroke-width="0.5" opacity="0.9"/>
<line x1="353.60" y1="532.93" x2="362.60" y2="527.00" stroke="#c9c9cd" stroke-width="0.5" opacity="0.9"/>
<line x1="353.60" y1="608.04" x2="362.60" y2="560.62" stroke="#c9c9cd" stroke-width="0.5" opacity="0.9"/>
<line x1="353.60" y1="550.06" x2="362.60" y2="581.76" stroke="#c9c9cd" stroke-width="0.5" opacity="0.9"/>
<line x1="353.60" y1="565.47" x2="362.60" y2="559.85" stroke="#c9c9cd" stroke-width="0.5" opacity="0.9"/>
<line x1="353.60" y1="565.33" x2="362.60" y2="616.57" stroke="#c9c9cd" stroke-width="0.5" opacity="0.9"/>
<line x1="353.60" y1="538.71" x2="362.60" y2="547.17" stroke="#c9c9cd" stroke-width="0.5" opacity="0.9"/>
<line x1="353.60" y1="556.23" x2="362.60" y2="567.61" stroke="#c9c9cd" stroke-width="0.5" opacity="0.9"/>
<line x1="353.60" y1="560.59" x2="362.60" y2="545.87" stroke="#c9c9cd" stroke-width="0.5" opacity="0.9"/>
<line x1="353.60" y1="564.89" x2="362.60" y2="558.60" stroke="#c9c9cd" stroke-width="0.5" opacity="0.9"/>
<line x1="353.60" y1="560.29" x2="362.60" y2="629.40" stroke="#c9c9cd" stroke-width="0.5" opacity="0.9"/>
<line x1="353.60" y1="599.21" x2="362.60" y2="594.81" stroke="#c9c9cd" stroke-width="0.5" opacity="0.9"/>
<line x1="353.60" y1="559.34" x2="362.60" y2="587.97" stroke="#c9c9cd" stroke-width="0.5" opacity="0.9"/>
<line x1="353.60" y1="566.30" x2="362.60" y2="592.46" stroke="#c9c9cd" stroke-width="0.5" opacity="0.9"/>
<line x1="353.60" y1="593.22" x2="362.60" y2="622.02" stroke="#c9c9cd" stroke-width="0.5" opacity="0.9"/>
<line x1="353.60" y1="586.15" x2="362.60" y2="544.94" stroke="#c9c9cd" stroke-width="0.5" opacity="0.9"/>
<line x1="353.60" y1="547.05" x2="362.60" y2="540.04" stroke="#c9c9cd" stroke-width="0.5" opacity="0.9"/>
<line x1="353.60" y1="559.52" x2="362.60" y2="560.45" stroke="#c9c9cd" stroke-width="0.5" opacity="0.9"/>
<line x1="353.60" y1="575.76" x2="362.60" y2="597.65" stroke="#c9c9cd" stroke-width="0.5" opacity="0.9"/>
<line x1="405.60" y1="686.90" x2="414.60" y2="686.90" stroke="#c9c9cd" stroke-width="0.5" opacity="0.9"/>
<line x1="405.60" y1="686.90" x2="414.60" y2="686.90" stroke="#c9c9cd" stroke-width="0.5" opacity="0.9"/>
<line x1="405.60" y1="686.90" x2="414.60" y2="627.85" stroke="#c9c9cd" stroke-width="0.5" opacity="0.9"/>
<line x1="405.60" y1="686.90" x2="414.60" y2="686.90" stroke="#c9c9cd" stroke-width="0.5" opacity="0.9"/>
<line x1="405.60" y1="686.90" x2="414.60" y2="639.13" stroke="#c9c9cd" stroke-width="0.5" opacity="0.9"/>
<line x1="405.60" y1="686.90" x2="414.60" y2="582.60" stroke="#c9c9cd" stroke-width="0.5" opacity="0.9"/>
<line x1="405.60" y1="686.90" x2="414.60" y2="686.90" stroke="#c9c9cd" stroke-width="0.5" opacity="0.9"/>
<line x1="405.60" y1="686.90" x2="414.60" y2="686.90" stroke="#c9c9cd" stroke-width="0.5" opacity="0.9"/>
<line x1="405.60" y1="686.90" x2="414.60" y2="628.53" stroke="#c9c9cd" stroke-width="0.5" opacity="0.9"/>
<line x1="405.60" y1="686.90" x2="414.60" y2="639.15" stroke="#c9c9cd" stroke-width="0.5" opacity="0.9"/>
<line x1="405.60" y1="686.90" x2="414.60" y2="686.90" stroke="#c9c9cd" stroke-width="0.5" opacity="0.9"/>
<line x1="405.60" y1="686.90" x2="414.60" y2="686.90" stroke="#c9c9cd" stroke-width="0.5" opacity="0.9"/>
<line x1="405.60" y1="686.90" x2="414.60" y2="686.90" stroke="#c9c9cd" stroke-width="0.5" opacity="0.9"/>
<line x1="405.60" y1="686.90" x2="414.60" y2="643.49" stroke="#c9c9cd" stroke-width="0.5" opacity="0.9"/>
<line x1="405.60" y1="686.90" x2="414.60" y2="631.97" stroke="#c9c9cd" stroke-width="0.5" opacity="0.9"/>
<line x1="405.60" y1="686.90" x2="414.60" y2="644.53" stroke="#c9c9cd" stroke-width="0.5" opacity="0.9"/>
<line x1="405.60" y1="686.90" x2="414.60" y2="625.63" stroke="#c9c9cd" stroke-width="0.5" opacity="0.9"/>
<line x1="405.60" y1="686.90" x2="414.60" y2="641.89" stroke="#c9c9cd" stroke-width="0.5" opacity="0.9"/>
<line x1="405.60" y1="686.90" x2="414.60" y2="611.67" stroke="#c9c9cd" stroke-width="0.5" opacity="0.9"/>
<line x1="405.60" y1="686.90" x2="414.60" y2="686.90" stroke="#c9c9cd" stroke-width="0.5" opacity="0.9"/>
<line x1="425.65" y1="578.80" x2="434.65" y2="557.90" stroke="#c9c9cd" stroke-width="0.5" opacity="0.9"/>
<line x1="425.65" y1="686.90" x2="434.65" y2="617.96" stroke="#c9c9cd" stroke-width="0.5" opacity="0.9"/>
<line x1="425.65" y1="686.90" x2="434.65" y2="686.90" stroke="#c9c9cd" stroke-width="0.5" opacity="0.9"/>
<line x1="425.65" y1="627.37" x2="434.65" y2="686.90" stroke="#c9c9cd" stroke-width="0.5" opacity="0.9"/>
<line x1="425.65" y1="686.90" x2="434.65" y2="686.90" stroke="#c9c9cd" stroke-width="0.5" opacity="0.9"/>
<line x1="425.65" y1="686.90" x2="434.65" y2="617.82" stroke="#c9c9cd" stroke-width="0.5" opacity="0.9"/>
<line x1="425.65" y1="627.30" x2="434.65" y2="686.90" stroke="#c9c9cd" stroke-width="0.5" opacity="0.9"/>
<line x1="425.65" y1="686.90" x2="434.65" y2="628.40" stroke="#c9c9cd" stroke-width="0.5" opacity="0.9"/>
<line x1="425.65" y1="638.59" x2="434.65" y2="635.44" stroke="#c9c9cd" stroke-width="0.5" opacity="0.9"/>
<line x1="425.65" y1="600.32" x2="434.65" y2="575.45" stroke="#c9c9cd" stroke-width="0.5" opacity="0.9"/>
<line x1="425.65" y1="630.30" x2="434.65" y2="631.24" stroke="#c9c9cd" stroke-width="0.5" opacity="0.9"/>
<line x1="425.65" y1="643.86" x2="434.65" y2="613.16" stroke="#c9c9cd" stroke-width="0.5" opacity="0.9"/>
<line x1="425.65" y1="686.90" x2="434.65" y2="686.90" stroke="#c9c9cd" stroke-width="0.5" opacity="0.9"/>
<line x1="425.65" y1="633.83" x2="434.65" y2="686.90" stroke="#c9c9cd" stroke-width="0.5" opacity="0.9"/>
<line x1="425.65" y1="686.90" x2="434.65" y2="686.90" stroke="#c9c9cd" stroke-width="0.5" opacity="0.9"/>
<line x1="425.65" y1="686.90" x2="434.65" y2="630.00" stroke="#c9c9cd" stroke-width="0.5" opacity="0.9"/>
<line x1="425.65" y1="686.90" x2="434.65" y2="635.75" stroke="#c9c9cd" stroke-width="0.5" opacity="0.9"/>
<line x1="425.65" y1="686.90" x2="434.65" y2="686.90" stroke="#c9c9cd" stroke-width="0.5" opacity="0.9"/>
<line x1="425.65" y1="686.90" x2="434.65" y2="629.84" stroke="#c9c9cd" stroke-width="0.5" opacity="0.9"/>
<line x1="425.65" y1="612.46" x2="434.65" y2="612.78" stroke="#c9c9cd" stroke-width="0.5" opacity="0.9"/>
<line x1="445.70" y1="597.30" x2="454.70" y2="686.90" stroke="#c9c9cd" stroke-width="0.5" opacity="0.9"/>
<line x1="445.70" y1="686.90" x2="454.70" y2="686.90" stroke="#c9c9cd" stroke-width="0.5" opacity="0.9"/>
<line x1="445.70" y1="686.90" x2="454.70" y2="624.23" stroke="#c9c9cd" stroke-width="0.5" opacity="0.9"/>
<line x1="445.70" y1="612.62" x2="454.70" y2="686.90" stroke="#c9c9cd" stroke-width="0.5" opacity="0.9"/>
<line x1="445.70" y1="686.90" x2="454.70" y2="594.71" stroke="#c9c9cd" stroke-width="0.5" opacity="0.9"/>
<line x1="445.70" y1="637.68" x2="454.70" y2="564.90" stroke="#c9c9cd" stroke-width="0.5" opacity="0.9"/>
<line x1="445.70" y1="686.90" x2="454.70" y2="616.34" stroke="#c9c9cd" stroke-width="0.5" opacity="0.9"/>
<line x1="445.70" y1="612.49" x2="454.70" y2="686.90" stroke="#c9c9cd" stroke-width="0.5" opacity="0.9"/>
<line x1="445.70" y1="686.90" x2="454.70" y2="572.78" stroke="#c9c9cd" stroke-width="0.5" opacity="0.9"/>
<line x1="445.70" y1="631.01" x2="454.70" y2="686.90" stroke="#c9c9cd" stroke-width="0.5" opacity="0.9"/>
<line x1="445.70" y1="616.76" x2="454.70" y2="618.25" stroke="#c9c9cd" stroke-width="0.5" opacity="0.9"/>
<line x1="445.70" y1="686.90" x2="454.70" y2="579.93" stroke="#c9c9cd" stroke-width="0.5" opacity="0.9"/>
<line x1="445.70" y1="637.48" x2="454.70" y2="686.90" stroke="#c9c9cd" stroke-width="0.5" opacity="0.9"/>
<line x1="445.70" y1="631.50" x2="454.70" y2="686.90" stroke="#c9c9cd" stroke-width="0.5" opacity="0.9"/>
<line x1="445.70" y1="605.27" x2="454.70" y2="686.90" stroke="#c9c9cd" stroke-width="0.5" opacity="0.9"/>
<line x1="445.70" y1="636.58" x2="454.70" y2="686.90" stroke="#c9c9cd" stroke-width="0.5" opacity="0.9"/>
<line x1="445.70" y1="616.57" x2="454.70" y2="603.91" stroke="#c9c9cd" stroke-width="0.5" opacity="0.9"/>
<line x1="445.70" y1="603.70" x2="454.70" y2="686.90" stroke="#c9c9cd" stroke-width="0.5" opacity="0.9"/>
<line x1="445.70" y1="686.90" x2="454.70" y2="686.90" stroke="#c9c9cd" stroke-width="0.5" opacity="0.9"/>
<line x1="445.70" y1="686.90" x2="454.70" y2="686.90" stroke="#c9c9cd" stroke-width="0.5" opacity="0.9"/>
<line x1="465.75" y1="577.20" x2="474.75" y2="600.85" stroke="#c9c9cd" stroke-width="0.5" opacity="0.9"/>
<line x1="465.75" y1="610.22" x2="474.75" y2="564.18" stroke="#c9c9cd" stroke-width="0.5" opacity="0.9"/>
<line x1="465.75" y1="623.36" x2="474.75" y2="569.11" stroke="#c9c9cd" stroke-width="0.5" opacity="0.9"/>
<line x1="465.75" y1="611.49" x2="474.75" y2="596.44" stroke="#c9c9cd" stroke-width="0.5" opacity="0.9"/>
<line x1="465.75" y1="589.84" x2="474.75" y2="617.67" stroke="#c9c9cd" stroke-width="0.5" opacity="0.9"/>
<line x1="465.75" y1="686.90" x2="474.75" y2="580.41" stroke="#c9c9cd" stroke-width="0.5" opacity="0.9"/>
<line x1="465.75" y1="686.90" x2="474.75" y2="569.41" stroke="#c9c9cd" stroke-width="0.5" opacity="0.9"/>
<line x1="465.75" y1="686.90" x2="474.75" y2="686.90" stroke="#c9c9cd" stroke-width="0.5" opacity="0.9"/>
<line x1="465.75" y1="634.50" x2="474.75" y2="564.25" stroke="#c9c9cd" stroke-width="0.5" opacity="0.9"/>
<line x1="465.75" y1="686.90" x2="474.75" y2="686.90" stroke="#c9c9cd" stroke-width="0.5" opacity="0.9"/>
<line x1="465.75" y1="634.83" x2="474.75" y2="686.90" stroke="#c9c9cd" stroke-width="0.5" opacity="0.9"/>
<line x1="465.75" y1="618.00" x2="474.75" y2="581.24" stroke="#c9c9cd" stroke-width="0.5" opacity="0.9"/>
<line x1="465.75" y1="686.90" x2="474.75" y2="618.58" stroke="#c9c9cd" stroke-width="0.5" opacity="0.9"/>
<line x1="465.75" y1="591.92" x2="474.75" y2="686.90" stroke="#c9c9cd" stroke-width="0.5" opacity="0.9"/>
<line x1="465.75" y1="620.30" x2="474.75" y2="578.49" stroke="#c9c9cd" stroke-width="0.5" opacity="0.9"/>
<line x1="465.75" y1="595.30" x2="474.75" y2="562.60" stroke="#c9c9cd" stroke-width="0.5" opacity="0.9"/>
<line x1="465.75" y1="588.71" x2="474.75" y2="618.40" stroke="#c9c9cd" stroke-width="0.5" opacity="0.9"/>
<line x1="465.75" y1="615.49" x2="474.75" y2="587.64" stroke="#c9c9cd" stroke-width="0.5" opacity="0.9"/>
<line x1="465.75" y1="580.08" x2="474.75" y2="595.02" stroke="#c9c9cd" stroke-width="0.5" opacity="0.9"/>
<line x1="465.75" y1="686.90" x2="474.75" y2="686.90" stroke="#c9c9cd" stroke-width="0.5" opacity="0.9"/>
<line x1="485.80" y1="548.20" x2="494.80" y2="615.07" stroke="#c9c9cd" stroke-width="0.5" opacity="0.9"/>
<line x1="485.80" y1="646.51" x2="494.80" y2="592.04" stroke="#c9c9cd" stroke-width="0.5" opacity="0.9"/>
<line x1="485.80" y1="602.65" x2="494.80" y2="590.51" stroke="#c9c9cd" stroke-width="0.5" opacity="0.9"/>
<line x1="485.80" y1="677.76" x2="494.80" y2="555.60" stroke="#c9c9cd" stroke-width="0.5" opacity="0.9"/>
<line x1="485.80" y1="574.01" x2="494.80" y2="610.93" stroke="#c9c9cd" stroke-width="0.5" opacity="0.9"/>
<line x1="485.80" y1="678.92" x2="494.80" y2="616.09" stroke="#c9c9cd" stroke-width="0.5" opacity="0.9"/>
<line x1="485.80" y1="558.20" x2="494.80" y2="563.57" stroke="#c9c9cd" stroke-width="0.5" opacity="0.9"/>
<line x1="485.80" y1="566.85" x2="494.80" y2="569.26" stroke="#c9c9cd" stroke-width="0.5" opacity="0.9"/>
<line x1="485.80" y1="573.51" x2="494.80" y2="561.82" stroke="#c9c9cd" stroke-width="0.5" opacity="0.9"/>
<line x1="485.80" y1="644.15" x2="494.80" y2="616.89" stroke="#c9c9cd" stroke-width="0.5" opacity="0.9"/>
<line x1="485.80" y1="596.60" x2="494.80" y2="602.22" stroke="#c9c9cd" stroke-width="0.5" opacity="0.9"/>
<line x1="485.80" y1="553.91" x2="494.80" y2="560.98" stroke="#c9c9cd" stroke-width="0.5" opacity="0.9"/>
<line x1="485.80" y1="593.17" x2="494.80" y2="592.71" stroke="#c9c9cd" stroke-width="0.5" opacity="0.9"/>
<line x1="485.80" y1="648.38" x2="494.80" y2="602.31" stroke="#c9c9cd" stroke-width="0.5" opacity="0.9"/>
<line x1="485.80" y1="593.77" x2="494.80" y2="686.90" stroke="#c9c9cd" stroke-width="0.5" opacity="0.9"/>
<line x1="485.80" y1="686.90" x2="494.80" y2="686.90" stroke="#c9c9cd" stroke-width="0.5" opacity="0.9"/>
<line x1="485.80" y1="631.06" x2="494.80" y2="574.91" stroke="#c9c9cd" stroke-width="0.5" opacity="0.9"/>
<line x1="485.80" y1="607.64" x2="494.80" y2="567.33" stroke="#c9c9cd" stroke-width="0.5" opacity="0.9"/>
<line x1="485.80" y1="552.30" x2="494.80" y2="576.81" stroke="#c9c9cd" stroke-width="0.5" opacity="0.9"/>
<line x1="485.80" y1="686.90" x2="494.80" y2="610.57" stroke="#c9c9cd" stroke-width="0.5" opacity="0.9"/>
<line x1="505.85" y1="550.20" x2="514.85" y2="628.95" stroke="#c9c9cd" stroke-width="0.5" opacity="0.9"/>
<line x1="505.85" y1="550.91" x2="514.85" y2="593.44" stroke="#c9c9cd" stroke-width="0.5" opacity="0.9"/>
<line x1="505.85" y1="661.26" x2="514.85" y2="686.90" stroke="#c9c9cd" stroke-width="0.5" opacity="0.9"/>
<line x1="505.85" y1="638.33" x2="514.85" y2="602.94" stroke="#c9c9cd" stroke-width="0.5" opacity="0.9"/>
<line x1="505.85" y1="558.89" x2="514.85" y2="686.90" stroke="#c9c9cd" stroke-width="0.5" opacity="0.9"/>
<line x1="505.85" y1="561.35" x2="514.85" y2="590.34" stroke="#c9c9cd" stroke-width="0.5" opacity="0.9"/>
<line x1="505.85" y1="556.06" x2="514.85" y2="593.81" stroke="#c9c9cd" stroke-width="0.5" opacity="0.9"/>
<line x1="505.85" y1="564.87" x2="514.85" y2="637.77" stroke="#c9c9cd" stroke-width="0.5" opacity="0.9"/>
<line x1="505.85" y1="620.42" x2="514.85" y2="563.13" stroke="#c9c9cd" stroke-width="0.5" opacity="0.9"/>
<line x1="505.85" y1="637.14" x2="514.85" y2="569.63" stroke="#c9c9cd" stroke-width="0.5" opacity="0.9"/>
<line x1="505.85" y1="630.68" x2="514.85" y2="592.21" stroke="#c9c9cd" stroke-width="0.5" opacity="0.9"/>
<line x1="505.85" y1="656.13" x2="514.85" y2="553.34" stroke="#c9c9cd" stroke-width="0.5" opacity="0.9"/>
<line x1="505.85" y1="686.90" x2="514.85" y2="552.20" stroke="#c9c9cd" stroke-width="0.5" opacity="0.9"/>
<line x1="505.85" y1="632.10" x2="514.85" y2="613.96" stroke="#c9c9cd" stroke-width="0.5" opacity="0.9"/>
<line x1="505.85" y1="616.16" x2="514.85" y2="634.50" stroke="#c9c9cd" stroke-width="0.5" opacity="0.9"/>
<line x1="505.85" y1="579.44" x2="514.85" y2="625.91" stroke="#c9c9cd" stroke-width="0.5" opacity="0.9"/>
<line x1="505.85" y1="555.34" x2="514.85" y2="636.88" stroke="#c9c9cd" stroke-width="0.5" opacity="0.9"/>
<line x1="505.85" y1="618.68" x2="514.85" y2="656.30" stroke="#c9c9cd" stroke-width="0.5" opacity="0.9"/>
<line x1="505.85" y1="686.90" x2="514.85" y2="559.72" stroke="#c9c9cd" stroke-width="0.5" opacity="0.9"/>
<line x1="505.85" y1="642.34" x2="514.85" y2="686.90" stroke="#c9c9cd" stroke-width="0.5" opacity="0.9"/>
<line x1="525.90" y1="558.40" x2="534.90" y2="540.24" stroke="#c9c9cd" stroke-width="0.5" opacity="0.9"/>
<line x1="525.90" y1="591.70" x2="534.90" y2="614.31" stroke="#c9c9cd" stroke-width="0.5" opacity="0.9"/>
<line x1="525.90" y1="598.93" x2="534.90" y2="619.10" stroke="#c9c9cd" stroke-width="0.5" opacity="0.9"/>
<line x1="525.90" y1="616.04" x2="534.90" y2="575.66" stroke="#c9c9cd" stroke-width="0.5" opacity="0.9"/>
<line x1="525.90" y1="600.26" x2="534.90" y2="618.56" stroke="#c9c9cd" stroke-width="0.5" opacity="0.9"/>
<line x1="525.90" y1="648.44" x2="534.90" y2="555.88" stroke="#c9c9cd" stroke-width="0.5" opacity="0.9"/>
<line x1="525.90" y1="618.15" x2="534.90" y2="535.60" stroke="#c9c9cd" stroke-width="0.5" opacity="0.9"/>
<line x1="525.90" y1="634.49" x2="534.90" y2="569.48" stroke="#c9c9cd" stroke-width="0.5" opacity="0.9"/>
<line x1="525.90" y1="611.92" x2="534.90" y2="547.80" stroke="#c9c9cd" stroke-width="0.5" opacity="0.9"/>
<line x1="525.90" y1="612.05" x2="534.90" y2="604.30" stroke="#c9c9cd" stroke-width="0.5" opacity="0.9"/>
<line x1="525.90" y1="575.77" x2="534.90" y2="611.30" stroke="#c9c9cd" stroke-width="0.5" opacity="0.9"/>
<line x1="525.90" y1="587.87" x2="534.90" y2="569.38" stroke="#c9c9cd" stroke-width="0.5" opacity="0.9"/>
<line x1="525.90" y1="623.95" x2="534.90" y2="605.83" stroke="#c9c9cd" stroke-width="0.5" opacity="0.9"/>
<line x1="525.90" y1="573.00" x2="534.90" y2="608.72" stroke="#c9c9cd" stroke-width="0.5" opacity="0.9"/>
<line x1="525.90" y1="686.90" x2="534.90" y2="552.14" stroke="#c9c9cd" stroke-width="0.5" opacity="0.9"/>
<line x1="525.90" y1="619.25" x2="534.90" y2="602.30" stroke="#c9c9cd" stroke-width="0.5" opacity="0.9"/>
<line x1="525.90" y1="686.90" x2="534.90" y2="604.65" stroke="#c9c9cd" stroke-width="0.5" opacity="0.9"/>
<line x1="525.90" y1="560.86" x2="534.90" y2="584.54" stroke="#c9c9cd" stroke-width="0.5" opacity="0.9"/>
<line x1="525.90" y1="569.05" x2="534.90" y2="620.90" stroke="#c9c9cd" stroke-width="0.5" opacity="0.9"/>
<line x1="525.90" y1="577.54" x2="534.90" y2="546.13" stroke="#c9c9cd" stroke-width="0.5" opacity="0.9"/>
<line x1="545.95" y1="565.60" x2="554.95" y2="686.90" stroke="#c9c9cd" stroke-width="0.5" opacity="0.9"/>
<line x1="545.95" y1="618.01" x2="554.95" y2="565.09" stroke="#c9c9cd" stroke-width="0.5" opacity="0.9"/>
<line x1="545.95" y1="686.90" x2="554.95" y2="686.90" stroke="#c9c9cd" stroke-width="0.5" opacity="0.9"/>
<line x1="545.95" y1="641.18" x2="554.95" y2="543.74" stroke="#c9c9cd" stroke-width="0.5" opacity="0.9"/>
<line x1="545.95" y1="686.90" x2="554.95" y2="614.80" stroke="#c9c9cd" stroke-width="0.5" opacity="0.9"/>
<line x1="545.95" y1="588.34" x2="554.95" y2="612.26" stroke="#c9c9cd" stroke-width="0.5" opacity="0.9"/>
<line x1="545.95" y1="597.21" x2="554.95" y2="556.26" stroke="#c9c9cd" stroke-width="0.5" opacity="0.9"/>
<line x1="545.95" y1="606.15" x2="554.95" y2="577.65" stroke="#c9c9cd" stroke-width="0.5" opacity="0.9"/>
<line x1="545.95" y1="622.78" x2="554.95" y2="570.03" stroke="#c9c9cd" stroke-width="0.5" opacity="0.9"/>
<line x1="545.95" y1="589.90" x2="554.95" y2="570.65" stroke="#c9c9cd" stroke-width="0.5" opacity="0.9"/>
<line x1="545.95" y1="686.90" x2="554.95" y2="550.75" stroke="#c9c9cd" stroke-width="0.5" opacity="0.9"/>
<line x1="545.95" y1="570.41" x2="554.95" y2="579.07" stroke="#c9c9cd" stroke-width="0.5" opacity="0.9"/>
<line x1="545.95" y1="621.20" x2="554.95" y2="605.48" stroke="#c9c9cd" stroke-width="0.5" opacity="0.9"/>
<line x1="545.95" y1="686.90" x2="554.95" y2="563.70" stroke="#c9c9cd" stroke-width="0.5" opacity="0.9"/>
<line x1="545.95" y1="570.38" x2="554.95" y2="595.79" stroke="#c9c9cd" stroke-width="0.5" opacity="0.9"/>
<line x1="545.95" y1="642.72" x2="554.95" y2="606.01" stroke="#c9c9cd" stroke-width="0.5" opacity="0.9"/>
<line x1="545.95" y1="568.40" x2="554.95" y2="583.47" stroke="#c9c9cd" stroke-width="0.5" opacity="0.9"/>
<line x1="545.95" y1="573.92" x2="554.95" y2="542.50" stroke="#c9c9cd" stroke-width="0.5" opacity="0.9"/>
<line x1="545.95" y1="591.06" x2="554.95" y2="562.64" stroke="#c9c9cd" stroke-width="0.5" opacity="0.9"/>
<line x1="545.95" y1="577.34" x2="554.95" y2="613.80" stroke="#c9c9cd" stroke-width="0.5" opacity="0.9"/>
<line x1="566.00" y1="553.30" x2="575.00" y2="591.73" stroke="#c9c9cd" stroke-width="0.5" opacity="0.9"/>
<line x1="566.00" y1="657.90" x2="575.00" y2="586.05" stroke="#c9c9cd" stroke-width="0.5" opacity="0.9"/>
<line x1="566.00" y1="645.33" x2="575.00" y2="544.84" stroke="#c9c9cd" stroke-width="0.5" opacity="0.9"/>
<line x1="566.00" y1="557.63" x2="575.00" y2="552.07" stroke="#c9c9cd" stroke-width="0.5" opacity="0.9"/>
<line x1="566.00" y1="581.02" x2="575.00" y2="599.82" stroke="#c9c9cd" stroke-width="0.5" opacity="0.9"/>
<line x1="566.00" y1="599.07" x2="575.00" y2="574.48" stroke="#c9c9cd" stroke-width="0.5" opacity="0.9"/>
<line x1="566.00" y1="590.85" x2="575.00" y2="589.13" stroke="#c9c9cd" stroke-width="0.5" opacity="0.9"/>
<line x1="566.00" y1="607.63" x2="575.00" y2="578.78" stroke="#c9c9cd" stroke-width="0.5" opacity="0.9"/>
<line x1="566.00" y1="598.84" x2="575.00" y2="587.44" stroke="#c9c9cd" stroke-width="0.5" opacity="0.9"/>
<line x1="566.00" y1="582.85" x2="575.00" y2="552.68" stroke="#c9c9cd" stroke-width="0.5" opacity="0.9"/>
<line x1="566.00" y1="585.75" x2="575.00" y2="581.17" stroke="#c9c9cd" stroke-width="0.5" opacity="0.9"/>
<line x1="566.00" y1="624.71" x2="575.00" y2="531.70" stroke="#c9c9cd" stroke-width="0.5" opacity="0.9"/>
<line x1="566.00" y1="577.98" x2="575.00" y2="585.05" stroke="#c9c9cd" stroke-width="0.5" opacity="0.9"/>
<line x1="566.00" y1="562.58" x2="575.00" y2="583.00" stroke="#c9c9cd" stroke-width="0.5" opacity="0.9"/>
<line x1="566.00" y1="561.46" x2="575.00" y2="592.57" stroke="#c9c9cd" stroke-width="0.5" opacity="0.9"/>
<line x1="566.00" y1="577.49" x2="575.00" y2="644.80" stroke="#c9c9cd" stroke-width="0.5" opacity="0.9"/>
<line x1="566.00" y1="619.01" x2="575.00" y2="589.33" stroke="#c9c9cd" stroke-width="0.5" opacity="0.9"/>
<line x1="566.00" y1="599.31" x2="575.00" y2="600.33" stroke="#c9c9cd" stroke-width="0.5" opacity="0.9"/>
<line x1="566.00" y1="568.78" x2="575.00" y2="642.47" stroke="#c9c9cd" stroke-width="0.5" opacity="0.9"/>
<line x1="566.00" y1="602.03" x2="575.00" y2="561.47" stroke="#c9c9cd" stroke-width="0.5" opacity="0.9"/>
<line x1="586.05" y1="561.80" x2="595.05" y2="686.90" stroke="#c9c9cd" stroke-width="0.5" opacity="0.9"/>
<line x1="586.05" y1="572.37" x2="595.05" y2="686.90" stroke="#c9c9cd" stroke-width="0.5" opacity="0.9"/>
<line x1="586.05" y1="686.90" x2="595.05" y2="538.06" stroke="#c9c9cd" stroke-width="0.5" opacity="0.9"/>
<line x1="586.05" y1="581.98" x2="595.05" y2="577.66" stroke="#c9c9cd" stroke-width="0.5" opacity="0.9"/>
<line x1="586.05" y1="686.90" x2="595.05" y2="686.90" stroke="#c9c9cd" stroke-width="0.5" opacity="0.9"/>
<line x1="586.05" y1="686.90" x2="595.05" y2="686.90" stroke="#c9c9cd" stroke-width="0.5" opacity="0.9"/>
<line x1="586.05" y1="686.90" x2="595.05" y2="565.40" stroke="#c9c9cd" stroke-width="0.5" opacity="0.9"/>
<line x1="586.05" y1="621.92" x2="595.05" y2="579.53" stroke="#c9c9cd" stroke-width="0.5" opacity="0.9"/>
<line x1="586.05" y1="686.90" x2="595.05" y2="578.93" stroke="#c9c9cd" stroke-width="0.5" opacity="0.9"/>
<line x1="586.05" y1="575.35" x2="595.05" y2="598.35" stroke="#c9c9cd" stroke-width="0.5" opacity="0.9"/>
<line x1="586.05" y1="578.82" x2="595.05" y2="686.90" stroke="#c9c9cd" stroke-width="0.5" opacity="0.9"/>
<line x1="586.05" y1="569.47" x2="595.05" y2="577.03" stroke="#c9c9cd" stroke-width="0.5" opacity="0.9"/>
<line x1="586.05" y1="686.90" x2="595.05" y2="553.06" stroke="#c9c9cd" stroke-width="0.5" opacity="0.9"/>
<line x1="586.05" y1="570.11" x2="595.05" y2="536.80" stroke="#c9c9cd" stroke-width="0.5" opacity="0.9"/>
<line x1="586.05" y1="686.90" x2="595.05" y2="524.00" stroke="#c9c9cd" stroke-width="0.5" opacity="0.9"/>
<line x1="586.05" y1="600.65" x2="595.05" y2="557.92" stroke="#c9c9cd" stroke-width="0.5" opacity="0.9"/>
<line x1="586.05" y1="686.90" x2="595.05" y2="531.80" stroke="#c9c9cd" stroke-width="0.5" opacity="0.9"/>
<line x1="586.05" y1="600.94" x2="595.05" y2="686.90" stroke="#c9c9cd" stroke-width="0.5" opacity="0.9"/>
<line x1="586.05" y1="686.90" x2="595.05" y2="545.09" stroke="#c9c9cd" stroke-width="0.5" opacity="0.9"/>
<line x1="586.05" y1="686.90" x2="595.05" y2="542.10" stroke="#c9c9cd" stroke-width="0.5" opacity="0.9"/>
<line x1="333.60" y1="517.00" x2="333.60" y2="533.20" stroke="#6c6c6c" stroke-width="0.65"/>
<line x1="333.60" y1="555.60" x2="333.60" y2="585.00" stroke="#6c6c6c" stroke-width="0.65"/>
<rect x="331.60" y="533.20" width="4.00" height="22.40" fill="#8bc058" stroke="none" stroke-width="0" opacity="0.55"/>
<line x1="342.60" y1="524.80" x2="342.60" y2="548.10" stroke="#6c6c6c" stroke-width="0.65"/>
<line x1="342.60" y1="559.30" x2="342.60" y2="576.50" stroke="#6c6c6c" stroke-width="0.65"/>
<rect x="340.60" y="548.10" width="4.00" height="11.20" fill="#d22c33" stroke="none" stroke-width="0" opacity="0.55"/>
<line x1="353.60" y1="519.40" x2="353.60" y2="544.80" stroke="#6c6c6c" stroke-width="0.65"/>
<line x1="353.60" y1="578.80" x2="353.60" y2="616.20" stroke="#6c6c6c" stroke-width="0.65"/>
<rect x="351.60" y="544.80" width="4.00" height="34.00" fill="#8bc058" stroke="none" stroke-width="0" opacity="0.6"/>
<line x1="362.60" y1="527.00" x2="362.60" y2="557.20" stroke="#6c6c6c" stroke-width="0.65"/>
<line x1="362.60" y1="604.70" x2="362.60" y2="629.40" stroke="#6c6c6c" stroke-width="0.65"/>
<rect x="360.60" y="557.20" width="4.00" height="47.50" fill="#d22c33" stroke="none" stroke-width="0" opacity="0.85"/>
<line x1="385.70" y1="523.20" x2="385.70" y2="535.00" stroke="#6c6c6c" stroke-width="0.65"/>
<line x1="385.70" y1="577.00" x2="385.70" y2="600.00" stroke="#6c6c6c" stroke-width="0.65"/>
<rect x="383.70" y="535.00" width="4.00" height="42.00" fill="#8bc058" stroke="none" stroke-width="0" opacity="0.55"/>
<line x1="394.70" y1="519.40" x2="394.70" y2="527.60" stroke="#6c6c6c" stroke-width="0.65"/>
<line x1="394.70" y1="542.50" x2="394.70" y2="569.50" stroke="#6c6c6c" stroke-width="0.65"/>
<rect x="392.70" y="527.60" width="4.00" height="14.90" fill="#d22c33" stroke="none" stroke-width="0" opacity="0.55"/>
<line x1="414.60" y1="582.60" x2="414.60" y2="623.20" stroke="#5f5f5f" stroke-width="0.9"/>
<rect x="412.60" y="623.20" width="4.00" height="63.70" fill="#d22c33" stroke="none" stroke-width="0"/>
<line x1="425.65" y1="578.80" x2="425.65" y2="623.20" stroke="#5f5f5f" stroke-width="0.9"/>
<rect x="423.65" y="623.20" width="4.00" height="63.70" fill="#8bc058" stroke="none" stroke-width="0"/>
<line x1="434.65" y1="557.90" x2="434.65" y2="610.00" stroke="#5f5f5f" stroke-width="0.9"/>
<rect x="432.65" y="610.00" width="4.00" height="76.90" fill="#d22c33" stroke="none" stroke-width="0"/>
<line x1="445.70" y1="597.30" x2="445.70" y2="616.20" stroke="#5f5f5f" stroke-width="0.9"/>
<rect x="443.70" y="616.20" width="4.00" height="70.70" fill="#8bc058" stroke="none" stroke-width="0"/>
<line x1="454.70" y1="564.90" x2="454.70" y2="601.60" stroke="#5f5f5f" stroke-width="0.9"/>
<rect x="452.70" y="601.60" width="4.00" height="85.30" fill="#d22c33" stroke="none" stroke-width="0"/>
<line x1="465.75" y1="577.20" x2="465.75" y2="610.00" stroke="#5f5f5f" stroke-width="0.9"/>
<line x1="465.75" y1="685.70" x2="465.75" y2="686.90" stroke="#5f5f5f" stroke-width="0.9"/>
<rect x="463.75" y="610.00" width="4.00" height="75.70" fill="#8bc058" stroke="none" stroke-width="0"/>
<line x1="474.75" y1="562.60" x2="474.75" y2="587.30" stroke="#5f5f5f" stroke-width="0.9"/>
<rect x="472.75" y="587.30" width="4.00" height="99.60" fill="#d22c33" stroke="none" stroke-width="0"/>
<line x1="485.80" y1="548.20" x2="485.80" y2="607.70" stroke="#5f5f5f" stroke-width="0.9"/>
<line x1="485.80" y1="682.60" x2="485.80" y2="686.90" stroke="#5f5f5f" stroke-width="0.9"/>
<rect x="483.80" y="607.70" width="4.00" height="74.90" fill="#8bc058" stroke="none" stroke-width="0"/>
<line x1="494.80" y1="555.60" x2="494.80" y2="588.00" stroke="#5f5f5f" stroke-width="0.9"/>
<line x1="494.80" y1="623.20" x2="494.80" y2="686.90" stroke="#5f5f5f" stroke-width="0.9"/>
<rect x="492.80" y="588.00" width="4.00" height="35.20" fill="#d22c33" stroke="none" stroke-width="0"/>
<line x1="505.85" y1="550.20" x2="505.85" y2="580.30" stroke="#5f5f5f" stroke-width="0.9"/>
<line x1="505.85" y1="676.40" x2="505.85" y2="686.90" stroke="#5f5f5f" stroke-width="0.9"/>
<rect x="503.85" y="580.30" width="4.00" height="96.10" fill="#8bc058" stroke="none" stroke-width="0"/>
<line x1="514.85" y1="552.20" x2="514.85" y2="571.80" stroke="#5f5f5f" stroke-width="0.9"/>
<line x1="514.85" y1="679.50" x2="514.85" y2="686.90" stroke="#5f5f5f" stroke-width="0.9"/>
<rect x="512.85" y="571.80" width="4.00" height="107.70" fill="#d22c33" stroke="none" stroke-width="0"/>
<line x1="525.90" y1="558.40" x2="525.90" y2="588.80" stroke="#5f5f5f" stroke-width="0.9"/>
<line x1="525.90" y1="651.70" x2="525.90" y2="686.90" stroke="#5f5f5f" stroke-width="0.9"/>
<rect x="523.90" y="588.80" width="4.00" height="62.90" fill="#8bc058" stroke="none" stroke-width="0"/>
<line x1="534.90" y1="535.60" x2="534.90" y2="568.00" stroke="#5f5f5f" stroke-width="0.9"/>
<line x1="534.90" y1="607.00" x2="534.90" y2="620.90" stroke="#5f5f5f" stroke-width="0.9"/>
<rect x="532.90" y="568.00" width="4.00" height="39.00" fill="#d22c33" stroke="none" stroke-width="0"/>
<line x1="545.95" y1="565.60" x2="545.95" y2="590.30" stroke="#5f5f5f" stroke-width="0.9"/>
<line x1="545.95" y1="650.20" x2="545.95" y2="686.90" stroke="#5f5f5f" stroke-width="0.9"/>
<rect x="543.95" y="590.30" width="4.00" height="59.90" fill="#8bc058" stroke="none" stroke-width="0"/>
<line x1="554.95" y1="542.50" x2="554.95" y2="564.90" stroke="#5f5f5f" stroke-width="0.9"/>
<line x1="554.95" y1="617.80" x2="554.95" y2="686.90" stroke="#5f5f5f" stroke-width="0.9"/>
<rect x="552.95" y="564.90" width="4.00" height="52.90" fill="#d22c33" stroke="none" stroke-width="0"/>
<line x1="566.00" y1="553.30" x2="566.00" y2="576.50" stroke="#5f5f5f" stroke-width="0.9"/>
<line x1="566.00" y1="624.00" x2="566.00" y2="657.90" stroke="#5f5f5f" stroke-width="0.9"/>
<rect x="564.00" y="576.50" width="4.00" height="47.50" fill="#8bc058" stroke="none" stroke-width="0"/>
<line x1="575.00" y1="531.70" x2="575.00" y2="558.70" stroke="#5f5f5f" stroke-width="0.9"/>
<line x1="575.00" y1="601.60" x2="575.00" y2="644.80" stroke="#5f5f5f" stroke-width="0.9"/>
<rect x="573.00" y="558.70" width="4.00" height="42.90" fill="#d22c33" stroke="none" stroke-width="0"/>
<line x1="586.05" y1="561.80" x2="586.05" y2="587.30" stroke="#5f5f5f" stroke-width="0.9"/>
<rect x="584.05" y="587.30" width="4.00" height="99.60" fill="#8bc058" stroke="none" stroke-width="0"/>
<line x1="595.05" y1="524.00" x2="595.05" y2="553.30" stroke="#5f5f5f" stroke-width="0.9"/>
<rect x="593.05" y="553.30" width="4.00" height="133.60" fill="#d22c33" stroke="none" stroke-width="0"/>
<line x1="353.60" y1="519.40" x2="362.60" y2="531.55" stroke="#e6e6e8" stroke-width="0.5" opacity="0.4"/>
<line x1="353.60" y1="616.20" x2="362.60" y2="567.80" stroke="#e6e6e8" stroke-width="0.5" opacity="0.4"/>
<line x1="353.60" y1="566.64" x2="362.60" y2="583.40" stroke="#e6e6e8" stroke-width="0.5" opacity="0.4"/>
<line x1="353.60" y1="534.54" x2="362.60" y2="546.07" stroke="#e6e6e8" stroke-width="0.5" opacity="0.4"/>
<line x1="353.60" y1="615.00" x2="362.60" y2="559.27" stroke="#e6e6e8" stroke-width="0.5" opacity="0.4"/>
<line x1="353.60" y1="575.18" x2="362.60" y2="618.41" stroke="#e6e6e8" stroke-width="0.5" opacity="0.4"/>
<line x1="353.60" y1="533.77" x2="362.60" y2="600.80" stroke="#e6e6e8" stroke-width="0.5" opacity="0.4"/>
<line x1="353.60" y1="535.39" x2="362.60" y2="574.83" stroke="#e6e6e8" stroke-width="0.5" opacity="0.4"/>
<line x1="353.60" y1="559.48" x2="362.60" y2="621.13" stroke="#e6e6e8" stroke-width="0.5" opacity="0.4"/>
<line x1="353.60" y1="577.86" x2="362.60" y2="580.46" stroke="#e6e6e8" stroke-width="0.5" opacity="0.4"/>
<line x1="353.60" y1="612.97" x2="362.60" y2="573.03" stroke="#e6e6e8" stroke-width="0.5" opacity="0.4"/>
<line x1="353.60" y1="578.15" x2="362.60" y2="548.54" stroke="#e6e6e8" stroke-width="0.5" opacity="0.4"/>
<line x1="353.60" y1="555.65" x2="362.60" y2="576.86" stroke="#e6e6e8" stroke-width="0.5" opacity="0.4"/>
<line x1="353.60" y1="554.54" x2="362.60" y2="548.82" stroke="#e6e6e8" stroke-width="0.5" opacity="0.4"/>
<line x1="353.60" y1="535.19" x2="362.60" y2="622.30" stroke="#e6e6e8" stroke-width="0.5" opacity="0.4"/>
<line x1="353.60" y1="571.38" x2="362.60" y2="575.52" stroke="#e6e6e8" stroke-width="0.5" opacity="0.4"/>
<line x1="353.60" y1="532.93" x2="362.60" y2="527.00" stroke="#e6e6e8" stroke-width="0.5" opacity="0.4"/>
<line x1="353.60" y1="608.04" x2="362.60" y2="560.62" stroke="#e6e6e8" stroke-width="0.5" opacity="0.4"/>
<line x1="353.60" y1="550.06" x2="362.60" y2="581.76" stroke="#e6e6e8" stroke-width="0.5" opacity="0.4"/>
<line x1="353.60" y1="565.47" x2="362.60" y2="559.85" stroke="#e6e6e8" stroke-width="0.5" opacity="0.4"/>
<line x1="353.60" y1="565.33" x2="362.60" y2="616.57" stroke="#e6e6e8" stroke-width="0.5" opacity="0.4"/>
<line x1="353.60" y1="538.71" x2="362.60" y2="547.17" stroke="#e6e6e8" stroke-width="0.5" opacity="0.4"/>
<line x1="353.60" y1="556.23" x2="362.60" y2="567.61" stroke="#e6e6e8" stroke-width="0.5" opacity="0.4"/>
<line x1="353.60" y1="560.59" x2="362.60" y2="545.87" stroke="#e6e6e8" stroke-width="0.5" opacity="0.4"/>
<line x1="353.60" y1="564.89" x2="362.60" y2="558.60" stroke="#e6e6e8" stroke-width="0.5" opacity="0.4"/>
<line x1="353.60" y1="560.29" x2="362.60" y2="629.40" stroke="#e6e6e8" stroke-width="0.5" opacity="0.4"/>
<line x1="353.60" y1="599.21" x2="362.60" y2="594.81" stroke="#e6e6e8" stroke-width="0.5" opacity="0.4"/>
<line x1="353.60" y1="559.34" x2="362.60" y2="587.97" stroke="#e6e6e8" stroke-width="0.5" opacity="0.4"/>
<line x1="353.60" y1="566.30" x2="362.60" y2="592.46" stroke="#e6e6e8" stroke-width="0.5" opacity="0.4"/>
<line x1="353.60" y1="593.22" x2="362.60" y2="622.02" stroke="#e6e6e8" stroke-width="0.5" opacity="0.4"/>
<line x1="353.60" y1="586.15" x2="362.60" y2="544.94" stroke="#e6e6e8" stroke-width="0.5" opacity="0.4"/>
<line x1="353.60" y1="547.05" x2="362.60" y2="540.04" stroke="#e6e6e8" stroke-width="0.5" opacity="0.4"/>
<line x1="353.60" y1="559.52" x2="362.60" y2="560.45" stroke="#e6e6e8" stroke-width="0.5" opacity="0.4"/>
<line x1="353.60" y1="575.76" x2="362.60" y2="597.65" stroke="#e6e6e8" stroke-width="0.5" opacity="0.4"/>
<line x1="405.60" y1="686.90" x2="414.60" y2="686.90" stroke="#e6e6e8" stroke-width="0.5" opacity="0.4"/>
<line x1="405.60" y1="686.90" x2="414.60" y2="686.90" stroke="#e6e6e8" stroke-width="0.5" opacity="0.4"/>
<line x1="405.60" y1="686.90" x2="414.60" y2="627.85" stroke="#e6e6e8" stroke-width="0.5" opacity="0.4"/>
<line x1="405.60" y1="686.90" x2="414.60" y2="686.90" stroke="#e6e6e8" stroke-width="0.5" opacity="0.4"/>
<line x1="405.60" y1="686.90" x2="414.60" y2="639.13" stroke="#e6e6e8" stroke-width="0.5" opacity="0.4"/>
<line x1="405.60" y1="686.90" x2="414.60" y2="582.60" stroke="#e6e6e8" stroke-width="0.5" opacity="0.4"/>
<line x1="405.60" y1="686.90" x2="414.60" y2="686.90" stroke="#e6e6e8" stroke-width="0.5" opacity="0.4"/>
<line x1="405.60" y1="686.90" x2="414.60" y2="686.90" stroke="#e6e6e8" stroke-width="0.5" opacity="0.4"/>
<line x1="405.60" y1="686.90" x2="414.60" y2="628.53" stroke="#e6e6e8" stroke-width="0.5" opacity="0.4"/>
<line x1="405.60" y1="686.90" x2="414.60" y2="639.15" stroke="#e6e6e8" stroke-width="0.5" opacity="0.4"/>
<line x1="405.60" y1="686.90" x2="414.60" y2="686.90" stroke="#e6e6e8" stroke-width="0.5" opacity="0.4"/>
<line x1="405.60" y1="686.90" x2="414.60" y2="686.90" stroke="#e6e6e8" stroke-width="0.5" opacity="0.4"/>
<line x1="405.60" y1="686.90" x2="414.60" y2="686.90" stroke="#e6e6e8" stroke-width="0.5" opacity="0.4"/>
<line x1="405.60" y1="686.90" x2="414.60" y2="643.49" stroke="#e6e6e8" stroke-width="0.5" opacity="0.4"/>
<line x1="405.60" y1="686.90" x2="414.60" y2="631.97" stroke="#e6e6e8" stroke-width="0.5" opacity="0.4"/>
<line x1="405.60" y1="686.90" x2="414.60" y2="644.53" stroke="#e6e6e8" stroke-width="0.5" opacity="0.4"/>
<line x1="405.60" y1="686.90" x2="414.60" y2="625.63" stroke="#e6e6e8" stroke-width="0.5" opacity="0.4"/>
<line x1="405.60" y1="686.90" x2="414.60" y2="641.89" stroke="#e6e6e8" stroke-width="0.5" opacity="0.4"/>
<line x1="405.60" y1="686.90" x2="414.60" y2="611.67" stroke="#e6e6e8" stroke-width="0.5" opacity="0.4"/>
<line x1="405.60" y1="686.90" x2="414.60" y2="686.90" stroke="#e6e6e8" stroke-width="0.5" opacity="0.4"/>
<line x1="425.65" y1="578.80" x2="434.65" y2="557.90" stroke="#e6e6e8" stroke-width="0.5" opacity="0.4"/>
<line x1="425.65" y1="686.90" x2="434.65" y2="617.96" stroke="#e6e6e8" stroke-width="0.5" opacity="0.4"/>
<line x1="425.65" y1="686.90" x2="434.65" y2="686.90" stroke="#e6e6e8" stroke-width="0.5" opacity="0.4"/>
<line x1="425.65" y1="627.37" x2="434.65" y2="686.90" stroke="#e6e6e8" stroke-width="0.5" opacity="0.4"/>
<line x1="425.65" y1="686.90" x2="434.65" y2="686.90" stroke="#e6e6e8" stroke-width="0.5" opacity="0.4"/>
<line x1="425.65" y1="686.90" x2="434.65" y2="617.82" stroke="#e6e6e8" stroke-width="0.5" opacity="0.4"/>
<line x1="425.65" y1="627.30" x2="434.65" y2="686.90" stroke="#e6e6e8" stroke-width="0.5" opacity="0.4"/>
<line x1="425.65" y1="686.90" x2="434.65" y2="628.40" stroke="#e6e6e8" stroke-width="0.5" opacity="0.4"/>
<line x1="425.65" y1="638.59" x2="434.65" y2="635.44" stroke="#e6e6e8" stroke-width="0.5" opacity="0.4"/>
<line x1="425.65" y1="600.32" x2="434.65" y2="575.45" stroke="#e6e6e8" stroke-width="0.5" opacity="0.4"/>
<line x1="425.65" y1="630.30" x2="434.65" y2="631.24" stroke="#e6e6e8" stroke-width="0.5" opacity="0.4"/>
<line x1="425.65" y1="643.86" x2="434.65" y2="613.16" stroke="#e6e6e8" stroke-width="0.5" opacity="0.4"/>
<line x1="425.65" y1="686.90" x2="434.65" y2="686.90" stroke="#e6e6e8" stroke-width="0.5" opacity="0.4"/>
<line x1="425.65" y1="633.83" x2="434.65" y2="686.90" stroke="#e6e6e8" stroke-width="0.5" opacity="0.4"/>
<line x1="425.65" y1="686.90" x2="434.65" y2="686.90" stroke="#e6e6e8" stroke-width="0.5" opacity="0.4"/>
<line x1="425.65" y1="686.90" x2="434.65" y2="630.00" stroke="#e6e6e8" stroke-width="0.5" opacity="0.4"/>
<line x1="425.65" y1="686.90" x2="434.65" y2="635.75" stroke="#e6e6e8" stroke-width="0.5" opacity="0.4"/>
<line x1="425.65" y1="686.90" x2="434.65" y2="686.90" stroke="#e6e6e8" stroke-width="0.5" opacity="0.4"/>
<line x1="425.65" y1="686.90" x2="434.65" y2="629.84" stroke="#e6e6e8" stroke-width="0.5" opacity="0.4"/>
<line x1="425.65" y1="612.46" x2="434.65" y2="612.78" stroke="#e6e6e8" stroke-width="0.5" opacity="0.4"/>
<line x1="445.70" y1="597.30" x2="454.70" y2="686.90" stroke="#e6e6e8" stroke-width="0.5" opacity="0.4"/>
<line x1="445.70" y1="686.90" x2="454.70" y2="686.90" stroke="#e6e6e8" stroke-width="0.5" opacity="0.4"/>
<line x1="445.70" y1="686.90" x2="454.70" y2="624.23" stroke="#e6e6e8" stroke-width="0.5" opacity="0.4"/>
<line x1="445.70" y1="612.62" x2="454.70" y2="686.90" stroke="#e6e6e8" stroke-width="0.5" opacity="0.4"/>
<line x1="445.70" y1="686.90" x2="454.70" y2="594.71" stroke="#e6e6e8" stroke-width="0.5" opacity="0.4"/>
<line x1="445.70" y1="637.68" x2="454.70" y2="564.90" stroke="#e6e6e8" stroke-width="0.5" opacity="0.4"/>
<line x1="445.70" y1="686.90" x2="454.70" y2="616.34" stroke="#e6e6e8" stroke-width="0.5" opacity="0.4"/>
<line x1="445.70" y1="612.49" x2="454.70" y2="686.90" stroke="#e6e6e8" stroke-width="0.5" opacity="0.4"/>
<line x1="445.70" y1="686.90" x2="454.70" y2="572.78" stroke="#e6e6e8" stroke-width="0.5" opacity="0.4"/>
<line x1="445.70" y1="631.01" x2="454.70" y2="686.90" stroke="#e6e6e8" stroke-width="0.5" opacity="0.4"/>
<line x1="445.70" y1="616.76" x2="454.70" y2="618.25" stroke="#e6e6e8" stroke-width="0.5" opacity="0.4"/>
<line x1="445.70" y1="686.90" x2="454.70" y2="579.93" stroke="#e6e6e8" stroke-width="0.5" opacity="0.4"/>
<line x1="445.70" y1="637.48" x2="454.70" y2="686.90" stroke="#e6e6e8" stroke-width="0.5" opacity="0.4"/>
<line x1="445.70" y1="631.50" x2="454.70" y2="686.90" stroke="#e6e6e8" stroke-width="0.5" opacity="0.4"/>
<line x1="445.70" y1="605.27" x2="454.70" y2="686.90" stroke="#e6e6e8" stroke-width="0.5" opacity="0.4"/>
<line x1="445.70" y1="636.58" x2="454.70" y2="686.90" stroke="#e6e6e8" stroke-width="0.5" opacity="0.4"/>
<line x1="445.70" y1="616.57" x2="454.70" y2="603.91" stroke="#e6e6e8" stroke-width="0.5" opacity="0.4"/>
<line x1="445.70" y1="603.70" x2="454.70" y2="686.90" stroke="#e6e6e8" stroke-width="0.5" opacity="0.4"/>
<line x1="445.70" y1="686.90" x2="454.70" y2="686.90" stroke="#e6e6e8" stroke-width="0.5" opacity="0.4"/>
<line x1="445.70" y1="686.90" x2="454.70" y2="686.90" stroke="#e6e6e8" stroke-width="0.5" opacity="0.4"/>
<line x1="465.75" y1="577.20" x2="474.75" y2="600.85" stroke="#e6e6e8" stroke-width="0.5" opacity="0.4"/>
<line x1="465.75" y1="610.22" x2="474.75" y2="564.18" stroke="#e6e6e8" stroke-width="0.5" opacity="0.4"/>
<line x1="465.75" y1="623.36" x2="474.75" y2="569.11" stroke="#e6e6e8" stroke-width="0.5" opacity="0.4"/>
<line x1="465.75" y1="611.49" x2="474.75" y2="596.44" stroke="#e6e6e8" stroke-width="0.5" opacity="0.4"/>
<line x1="465.75" y1="589.84" x2="474.75" y2="617.67" stroke="#e6e6e8" stroke-width="0.5" opacity="0.4"/>
<line x1="465.75" y1="686.90" x2="474.75" y2="580.41" stroke="#e6e6e8" stroke-width="0.5" opacity="0.4"/>
<line x1="465.75" y1="686.90" x2="474.75" y2="569.41" stroke="#e6e6e8" stroke-width="0.5" opacity="0.4"/>
<line x1="465.75" y1="686.90" x2="474.75" y2="686.90" stroke="#e6e6e8" stroke-width="0.5" opacity="0.4"/>
<line x1="465.75" y1="634.50" x2="474.75" y2="564.25" stroke="#e6e6e8" stroke-width="0.5" opacity="0.4"/>
<line x1="465.75" y1="686.90" x2="474.75" y2="686.90" stroke="#e6e6e8" stroke-width="0.5" opacity="0.4"/>
<line x1="465.75" y1="634.83" x2="474.75" y2="686.90" stroke="#e6e6e8" stroke-width="0.5" opacity="0.4"/>
<line x1="465.75" y1="618.00" x2="474.75" y2="581.24" stroke="#e6e6e8" stroke-width="0.5" opacity="0.4"/>
<line x1="465.75" y1="686.90" x2="474.75" y2="618.58" stroke="#e6e6e8" stroke-width="0.5" opacity="0.4"/>
<line x1="465.75" y1="591.92" x2="474.75" y2="686.90" stroke="#e6e6e8" stroke-width="0.5" opacity="0.4"/>
<line x1="465.75" y1="620.30" x2="474.75" y2="578.49" stroke="#e6e6e8" stroke-width="0.5" opacity="0.4"/>
<line x1="465.75" y1="595.30" x2="474.75" y2="562.60" stroke="#e6e6e8" stroke-width="0.5" opacity="0.4"/>
<line x1="465.75" y1="588.71" x2="474.75" y2="618.40" stroke="#e6e6e8" stroke-width="0.5" opacity="0.4"/>
<line x1="465.75" y1="615.49" x2="474.75" y2="587.64" stroke="#e6e6e8" stroke-width="0.5" opacity="0.4"/>
<line x1="465.75" y1="580.08" x2="474.75" y2="595.02" stroke="#e6e6e8" stroke-width="0.5" opacity="0.4"/>
<line x1="465.75" y1="686.90" x2="474.75" y2="686.90" stroke="#e6e6e8" stroke-width="0.5" opacity="0.4"/>
<line x1="485.80" y1="548.20" x2="494.80" y2="615.07" stroke="#e6e6e8" stroke-width="0.5" opacity="0.4"/>
<line x1="485.80" y1="646.51" x2="494.80" y2="592.04" stroke="#e6e6e8" stroke-width="0.5" opacity="0.4"/>
<line x1="485.80" y1="602.65" x2="494.80" y2="590.51" stroke="#e6e6e8" stroke-width="0.5" opacity="0.4"/>
<line x1="485.80" y1="677.76" x2="494.80" y2="555.60" stroke="#e6e6e8" stroke-width="0.5" opacity="0.4"/>
<line x1="485.80" y1="574.01" x2="494.80" y2="610.93" stroke="#e6e6e8" stroke-width="0.5" opacity="0.4"/>
<line x1="485.80" y1="678.92" x2="494.80" y2="616.09" stroke="#e6e6e8" stroke-width="0.5" opacity="0.4"/>
<line x1="485.80" y1="558.20" x2="494.80" y2="563.57" stroke="#e6e6e8" stroke-width="0.5" opacity="0.4"/>
<line x1="485.80" y1="566.85" x2="494.80" y2="569.26" stroke="#e6e6e8" stroke-width="0.5" opacity="0.4"/>
<line x1="485.80" y1="573.51" x2="494.80" y2="561.82" stroke="#e6e6e8" stroke-width="0.5" opacity="0.4"/>
<line x1="485.80" y1="644.15" x2="494.80" y2="616.89" stroke="#e6e6e8" stroke-width="0.5" opacity="0.4"/>
<line x1="485.80" y1="596.60" x2="494.80" y2="602.22" stroke="#e6e6e8" stroke-width="0.5" opacity="0.4"/>
<line x1="485.80" y1="553.91" x2="494.80" y2="560.98" stroke="#e6e6e8" stroke-width="0.5" opacity="0.4"/>
<line x1="485.80" y1="593.17" x2="494.80" y2="592.71" stroke="#e6e6e8" stroke-width="0.5" opacity="0.4"/>
<line x1="485.80" y1="648.38" x2="494.80" y2="602.31" stroke="#e6e6e8" stroke-width="0.5" opacity="0.4"/>
<line x1="485.80" y1="593.77" x2="494.80" y2="686.90" stroke="#e6e6e8" stroke-width="0.5" opacity="0.4"/>
<line x1="485.80" y1="686.90" x2="494.80" y2="686.90" stroke="#e6e6e8" stroke-width="0.5" opacity="0.4"/>
<line x1="485.80" y1="631.06" x2="494.80" y2="574.91" stroke="#e6e6e8" stroke-width="0.5" opacity="0.4"/>
<line x1="485.80" y1="607.64" x2="494.80" y2="567.33" stroke="#e6e6e8" stroke-width="0.5" opacity="0.4"/>
<line x1="485.80" y1="552.30" x2="494.80" y2="576.81" stroke="#e6e6e8" stroke-width="0.5" opacity="0.4"/>
<line x1="485.80" y1="686.90" x2="494.80" y2="610.57" stroke="#e6e6e8" stroke-width="0.5" opacity="0.4"/>
<line x1="505.85" y1="550.20" x2="514.85" y2="628.95" stroke="#e6e6e8" stroke-width="0.5" opacity="0.4"/>
<line x1="505.85" y1="550.91" x2="514.85" y2="593.44" stroke="#e6e6e8" stroke-width="0.5" opacity="0.4"/>
<line x1="505.85" y1="661.26" x2="514.85" y2="686.90" stroke="#e6e6e8" stroke-width="0.5" opacity="0.4"/>
<line x1="505.85" y1="638.33" x2="514.85" y2="602.94" stroke="#e6e6e8" stroke-width="0.5" opacity="0.4"/>
<line x1="505.85" y1="558.89" x2="514.85" y2="686.90" stroke="#e6e6e8" stroke-width="0.5" opacity="0.4"/>
<line x1="505.85" y1="561.35" x2="514.85" y2="590.34" stroke="#e6e6e8" stroke-width="0.5" opacity="0.4"/>
<line x1="505.85" y1="556.06" x2="514.85" y2="593.81" stroke="#e6e6e8" stroke-width="0.5" opacity="0.4"/>
<line x1="505.85" y1="564.87" x2="514.85" y2="637.77" stroke="#e6e6e8" stroke-width="0.5" opacity="0.4"/>
<line x1="505.85" y1="620.42" x2="514.85" y2="563.13" stroke="#e6e6e8" stroke-width="0.5" opacity="0.4"/>
<line x1="505.85" y1="637.14" x2="514.85" y2="569.63" stroke="#e6e6e8" stroke-width="0.5" opacity="0.4"/>
<line x1="505.85" y1="630.68" x2="514.85" y2="592.21" stroke="#e6e6e8" stroke-width="0.5" opacity="0.4"/>
<line x1="505.85" y1="656.13" x2="514.85" y2="553.34" stroke="#e6e6e8" stroke-width="0.5" opacity="0.4"/>
<line x1="505.85" y1="686.90" x2="514.85" y2="552.20" stroke="#e6e6e8" stroke-width="0.5" opacity="0.4"/>
<line x1="505.85" y1="632.10" x2="514.85" y2="613.96" stroke="#e6e6e8" stroke-width="0.5" opacity="0.4"/>
<line x1="505.85" y1="616.16" x2="514.85" y2="634.50" stroke="#e6e6e8" stroke-width="0.5" opacity="0.4"/>
<line x1="505.85" y1="579.44" x2="514.85" y2="625.91" stroke="#e6e6e8" stroke-width="0.5" opacity="0.4"/>
<line x1="505.85" y1="555.34" x2="514.85" y2="636.88" stroke="#e6e6e8" stroke-width="0.5" opacity="0.4"/>
<line x1="505.85" y1="618.68" x2="514.85" y2="656.30" stroke="#e6e6e8" stroke-width="0.5" opacity="0.4"/>
<line x1="505.85" y1="686.90" x2="514.85" y2="559.72" stroke="#e6e6e8" stroke-width="0.5" opacity="0.4"/>
<line x1="505.85" y1="642.34" x2="514.85" y2="686.90" stroke="#e6e6e8" stroke-width="0.5" opacity="0.4"/>
<line x1="525.90" y1="558.40" x2="534.90" y2="540.24" stroke="#e6e6e8" stroke-width="0.5" opacity="0.4"/>
<line x1="525.90" y1="591.70" x2="534.90" y2="614.31" stroke="#e6e6e8" stroke-width="0.5" opacity="0.4"/>
<line x1="525.90" y1="598.93" x2="534.90" y2="619.10" stroke="#e6e6e8" stroke-width="0.5" opacity="0.4"/>
<line x1="525.90" y1="616.04" x2="534.90" y2="575.66" stroke="#e6e6e8" stroke-width="0.5" opacity="0.4"/>
<line x1="525.90" y1="600.26" x2="534.90" y2="618.56" stroke="#e6e6e8" stroke-width="0.5" opacity="0.4"/>
<line x1="525.90" y1="648.44" x2="534.90" y2="555.88" stroke="#e6e6e8" stroke-width="0.5" opacity="0.4"/>
<line x1="525.90" y1="618.15" x2="534.90" y2="535.60" stroke="#e6e6e8" stroke-width="0.5" opacity="0.4"/>
<line x1="525.90" y1="634.49" x2="534.90" y2="569.48" stroke="#e6e6e8" stroke-width="0.5" opacity="0.4"/>
<line x1="525.90" y1="611.92" x2="534.90" y2="547.80" stroke="#e6e6e8" stroke-width="0.5" opacity="0.4"/>
<line x1="525.90" y1="612.05" x2="534.90" y2="604.30" stroke="#e6e6e8" stroke-width="0.5" opacity="0.4"/>
<line x1="525.90" y1="575.77" x2="534.90" y2="611.30" stroke="#e6e6e8" stroke-width="0.5" opacity="0.4"/>
<line x1="525.90" y1="587.87" x2="534.90" y2="569.38" stroke="#e6e6e8" stroke-width="0.5" opacity="0.4"/>
<line x1="525.90" y1="623.95" x2="534.90" y2="605.83" stroke="#e6e6e8" stroke-width="0.5" opacity="0.4"/>
<line x1="525.90" y1="573.00" x2="534.90" y2="608.72" stroke="#e6e6e8" stroke-width="0.5" opacity="0.4"/>
<line x1="525.90" y1="686.90" x2="534.90" y2="552.14" stroke="#e6e6e8" stroke-width="0.5" opacity="0.4"/>
<line x1="525.90" y1="619.25" x2="534.90" y2="602.30" stroke="#e6e6e8" stroke-width="0.5" opacity="0.4"/>
<line x1="525.90" y1="686.90" x2="534.90" y2="604.65" stroke="#e6e6e8" stroke-width="0.5" opacity="0.4"/>
<line x1="525.90" y1="560.86" x2="534.90" y2="584.54" stroke="#e6e6e8" stroke-width="0.5" opacity="0.4"/>
<line x1="525.90" y1="569.05" x2="534.90" y2="620.90" stroke="#e6e6e8" stroke-width="0.5" opacity="0.4"/>
<line x1="525.90" y1="577.54" x2="534.90" y2="546.13" stroke="#e6e6e8" stroke-width="0.5" opacity="0.4"/>
<line x1="545.95" y1="565.60" x2="554.95" y2="686.90" stroke="#e6e6e8" stroke-width="0.5" opacity="0.4"/>
<line x1="545.95" y1="618.01" x2="554.95" y2="565.09" stroke="#e6e6e8" stroke-width="0.5" opacity="0.4"/>
<line x1="545.95" y1="686.90" x2="554.95" y2="686.90" stroke="#e6e6e8" stroke-width="0.5" opacity="0.4"/>
<line x1="545.95" y1="641.18" x2="554.95" y2="543.74" stroke="#e6e6e8" stroke-width="0.5" opacity="0.4"/>
<line x1="545.95" y1="686.90" x2="554.95" y2="614.80" stroke="#e6e6e8" stroke-width="0.5" opacity="0.4"/>
<line x1="545.95" y1="588.34" x2="554.95" y2="612.26" stroke="#e6e6e8" stroke-width="0.5" opacity="0.4"/>
<line x1="545.95" y1="597.21" x2="554.95" y2="556.26" stroke="#e6e6e8" stroke-width="0.5" opacity="0.4"/>
<line x1="545.95" y1="606.15" x2="554.95" y2="577.65" stroke="#e6e6e8" stroke-width="0.5" opacity="0.4"/>
<line x1="545.95" y1="622.78" x2="554.95" y2="570.03" stroke="#e6e6e8" stroke-width="0.5" opacity="0.4"/>
<line x1="545.95" y1="589.90" x2="554.95" y2="570.65" stroke="#e6e6e8" stroke-width="0.5" opacity="0.4"/>
<line x1="545.95" y1="686.90" x2="554.95" y2="550.75" stroke="#e6e6e8" stroke-width="0.5" opacity="0.4"/>
<line x1="545.95" y1="570.41" x2="554.95" y2="579.07" stroke="#e6e6e8" stroke-width="0.5" opacity="0.4"/>
<line x1="545.95" y1="621.20" x2="554.95" y2="605.48" stroke="#e6e6e8" stroke-width="0.5" opacity="0.4"/>
<line x1="545.95" y1="686.90" x2="554.95" y2="563.70" stroke="#e6e6e8" stroke-width="0.5" opacity="0.4"/>
<line x1="545.95" y1="570.38" x2="554.95" y2="595.79" stroke="#e6e6e8" stroke-width="0.5" opacity="0.4"/>
<line x1="545.95" y1="642.72" x2="554.95" y2="606.01" stroke="#e6e6e8" stroke-width="0.5" opacity="0.4"/>
<line x1="545.95" y1="568.40" x2="554.95" y2="583.47" stroke="#e6e6e8" stroke-width="0.5" opacity="0.4"/>
<line x1="545.95" y1="573.92" x2="554.95" y2="542.50" stroke="#e6e6e8" stroke-width="0.5" opacity="0.4"/>
<line x1="545.95" y1="591.06" x2="554.95" y2="562.64" stroke="#e6e6e8" stroke-width="0.5" opacity="0.4"/>
<line x1="545.95" y1="577.34" x2="554.95" y2="613.80" stroke="#e6e6e8" stroke-width="0.5" opacity="0.4"/>
<line x1="566.00" y1="553.30" x2="575.00" y2="591.73" stroke="#e6e6e8" stroke-width="0.5" opacity="0.4"/>
<line x1="566.00" y1="657.90" x2="575.00" y2="586.05" stroke="#e6e6e8" stroke-width="0.5" opacity="0.4"/>
<line x1="566.00" y1="645.33" x2="575.00" y2="544.84" stroke="#e6e6e8" stroke-width="0.5" opacity="0.4"/>
<line x1="566.00" y1="557.63" x2="575.00" y2="552.07" stroke="#e6e6e8" stroke-width="0.5" opacity="0.4"/>
<line x1="566.00" y1="581.02" x2="575.00" y2="599.82" stroke="#e6e6e8" stroke-width="0.5" opacity="0.4"/>
<line x1="566.00" y1="599.07" x2="575.00" y2="574.48" stroke="#e6e6e8" stroke-width="0.5" opacity="0.4"/>
<line x1="566.00" y1="590.85" x2="575.00" y2="589.13" stroke="#e6e6e8" stroke-width="0.5" opacity="0.4"/>
<line x1="566.00" y1="607.63" x2="575.00" y2="578.78" stroke="#e6e6e8" stroke-width="0.5" opacity="0.4"/>
<line x1="566.00" y1="598.84" x2="575.00" y2="587.44" stroke="#e6e6e8" stroke-width="0.5" opacity="0.4"/>
<line x1="566.00" y1="582.85" x2="575.00" y2="552.68" stroke="#e6e6e8" stroke-width="0.5" opacity="0.4"/>
<line x1="566.00" y1="585.75" x2="575.00" y2="581.17" stroke="#e6e6e8" stroke-width="0.5" opacity="0.4"/>
<line x1="566.00" y1="624.71" x2="575.00" y2="531.70" stroke="#e6e6e8" stroke-width="0.5" opacity="0.4"/>
<line x1="566.00" y1="577.98" x2="575.00" y2="585.05" stroke="#e6e6e8" stroke-width="0.5" opacity="0.4"/>
<line x1="566.00" y1="562.58" x2="575.00" y2="583.00" stroke="#e6e6e8" stroke-width="0.5" opacity="0.4"/>
<line x1="566.00" y1="561.46" x2="575.00" y2="592.57" stroke="#e6e6e8" stroke-width="0.5" opacity="0.4"/>
<line x1="566.00" y1="577.49" x2="575.00" y2="644.80" stroke="#e6e6e8" stroke-width="0.5" opacity="0.4"/>
<line x1="566.00" y1="619.01" x2="575.00" y2="589.33" stroke="#e6e6e8" stroke-width="0.5" opacity="0.4"/>
<line x1="566.00" y1="599.31" x2="575.00" y2="600.33" stroke="#e6e6e8" stroke-width="0.5" opacity="0.4"/>
<line x1="566.00" y1="568.78" x2="575.00" y2="642.47" stroke="#e6e6e8" stroke-width="0.5" opacity="0.4"/>
<line x1="566.00" y1="602.03" x2="575.00" y2="561.47" stroke="#e6e6e8" stroke-width="0.5" opacity="0.4"/>
<line x1="586.05" y1="561.80" x2="595.05" y2="686.90" stroke="#e6e6e8" stroke-width="0.5" opacity="0.4"/>
<line x1="586.05" y1="572.37" x2="595.05" y2="686.90" stroke="#e6e6e8" stroke-width="0.5" opacity="0.4"/>
<line x1="586.05" y1="686.90" x2="595.05" y2="538.06" stroke="#e6e6e8" stroke-width="0.5" opacity="0.4"/>
<line x1="586.05" y1="581.98" x2="595.05" y2="577.66" stroke="#e6e6e8" stroke-width="0.5" opacity="0.4"/>
<line x1="586.05" y1="686.90" x2="595.05" y2="686.90" stroke="#e6e6e8" stroke-width="0.5" opacity="0.4"/>
<line x1="586.05" y1="686.90" x2="595.05" y2="686.90" stroke="#e6e6e8" stroke-width="0.5" opacity="0.4"/>
<line x1="586.05" y1="686.90" x2="595.05" y2="565.40" stroke="#e6e6e8" stroke-width="0.5" opacity="0.4"/>
<line x1="586.05" y1="621.92" x2="595.05" y2="579.53" stroke="#e6e6e8" stroke-width="0.5" opacity="0.4"/>
<line x1="586.05" y1="686.90" x2="595.05" y2="578.93" stroke="#e6e6e8" stroke-width="0.5" opacity="0.4"/>
<line x1="586.05" y1="575.35" x2="595.05" y2="598.35" stroke="#e6e6e8" stroke-width="0.5" opacity="0.4"/>
<line x1="586.05" y1="578.82" x2="595.05" y2="686.90" stroke="#e6e6e8" stroke-width="0.5" opacity="0.4"/>
<line x1="586.05" y1="569.47" x2="595.05" y2="577.03" stroke="#e6e6e8" stroke-width="0.5" opacity="0.4"/>
<line x1="586.05" y1="686.90" x2="595.05" y2="553.06" stroke="#e6e6e8" stroke-width="0.5" opacity="0.4"/>
<line x1="586.05" y1="570.11" x2="595.05" y2="536.80" stroke="#e6e6e8" stroke-width="0.5" opacity="0.4"/>
<line x1="586.05" y1="686.90" x2="595.05" y2="524.00" stroke="#e6e6e8" stroke-width="0.5" opacity="0.4"/>
<line x1="586.05" y1="600.65" x2="595.05" y2="557.92" stroke="#e6e6e8" stroke-width="0.5" opacity="0.4"/>
<line x1="586.05" y1="686.90" x2="595.05" y2="531.80" stroke="#e6e6e8" stroke-width="0.5" opacity="0.4"/>
<line x1="586.05" y1="600.94" x2="595.05" y2="686.90" stroke="#e6e6e8" stroke-width="0.5" opacity="0.4"/>
<line x1="586.05" y1="686.90" x2="595.05" y2="545.09" stroke="#e6e6e8" stroke-width="0.5" opacity="0.4"/>
<line x1="586.05" y1="686.90" x2="595.05" y2="542.10" stroke="#e6e6e8" stroke-width="0.5" opacity="0.4"/>
<circle cx="333.58" cy="517.00" r="1.1" fill="#8a8a8a" stroke="#4f4f4f" stroke-width="0.5" fill-opacity="0.45"/>
<circle cx="333.76" cy="585.00" r="1.1" fill="#8a8a8a" stroke="#4f4f4f" stroke-width="0.5" fill-opacity="0.45"/>
<circle cx="333.76" cy="554.33" r="1.1" fill="#8a8a8a" stroke="#4f4f4f" stroke-width="0.5" fill-opacity="0.45"/>
<circle cx="333.60" cy="558.93" r="1.1" fill="#8a8a8a" stroke="#4f4f4f" stroke-width="0.5" fill-opacity="0.45"/>
<circle cx="333.71" cy="545.38" r="1.1" fill="#8a8a8a" stroke="#4f4f4f" stroke-width="0.5" fill-opacity="0.45"/>
<circle cx="333.45" cy="520.51" r="1.1" fill="#8a8a8a" stroke="#4f4f4f" stroke-width="0.5" fill-opacity="0.45"/>
<circle cx="333.78" cy="578.11" r="1.1" fill="#8a8a8a" stroke="#4f4f4f" stroke-width="0.5" fill-opacity="0.45"/>
<circle cx="333.75" cy="536.31" r="1.1" fill="#8a8a8a" stroke="#4f4f4f" stroke-width="0.5" fill-opacity="0.45"/>
<circle cx="333.59" cy="517.03" r="1.1" fill="#8a8a8a" stroke="#4f4f4f" stroke-width="0.5" fill-opacity="0.45"/>
<circle cx="333.75" cy="538.03" r="1.1" fill="#8a8a8a" stroke="#4f4f4f" stroke-width="0.5" fill-opacity="0.45"/>
<circle cx="333.52" cy="564.11" r="1.1" fill="#8a8a8a" stroke="#4f4f4f" stroke-width="0.5" fill-opacity="0.45"/>
<circle cx="333.79" cy="548.38" r="1.1" fill="#8a8a8a" stroke="#4f4f4f" stroke-width="0.5" fill-opacity="0.45"/>
<circle cx="333.53" cy="575.90" r="1.1" fill="#8a8a8a" stroke="#4f4f4f" stroke-width="0.5" fill-opacity="0.45"/>
<circle cx="333.77" cy="564.38" r="1.1" fill="#8a8a8a" stroke="#4f4f4f" stroke-width="0.5" fill-opacity="0.45"/>
<circle cx="333.73" cy="519.36" r="1.1" fill="#8a8a8a" stroke="#4f4f4f" stroke-width="0.5" fill-opacity="0.45"/>
<circle cx="333.77" cy="546.71" r="1.1" fill="#8a8a8a" stroke="#4f4f4f" stroke-width="0.5" fill-opacity="0.45"/>
<circle cx="333.69" cy="540.77" r="1.1" fill="#8a8a8a" stroke="#4f4f4f" stroke-width="0.5" fill-opacity="0.45"/>
<circle cx="333.43" cy="543.97" r="1.1" fill="#8a8a8a" stroke="#4f4f4f" stroke-width="0.5" fill-opacity="0.45"/>
<circle cx="333.51" cy="548.98" r="1.1" fill="#8a8a8a" stroke="#4f4f4f" stroke-width="0.5" fill-opacity="0.45"/>
<circle cx="333.66" cy="556.27" r="1.1" fill="#8a8a8a" stroke="#4f4f4f" stroke-width="0.5" fill-opacity="0.45"/>
<circle cx="333.76" cy="533.60" r="1.1" fill="#8a8a8a" stroke="#4f4f4f" stroke-width="0.5" fill-opacity="0.45"/>
<circle cx="333.67" cy="546.16" r="1.1" fill="#8a8a8a" stroke="#4f4f4f" stroke-width="0.5" fill-opacity="0.45"/>
<circle cx="333.42" cy="519.93" r="1.1" fill="#8a8a8a" stroke="#4f4f4f" stroke-width="0.5" fill-opacity="0.45"/>
<circle cx="333.54" cy="529.24" r="1.1" fill="#8a8a8a" stroke="#4f4f4f" stroke-width="0.5" fill-opacity="0.45"/>
<circle cx="333.54" cy="565.72" r="1.1" fill="#8a8a8a" stroke="#4f4f4f" stroke-width="0.5" fill-opacity="0.45"/>
<circle cx="333.47" cy="550.57" r="1.1" fill="#8a8a8a" stroke="#4f4f4f" stroke-width="0.5" fill-opacity="0.45"/>
<circle cx="333.49" cy="551.06" r="1.1" fill="#8a8a8a" stroke="#4f4f4f" stroke-width="0.5" fill-opacity="0.45"/>
<circle cx="333.61" cy="532.32" r="1.1" fill="#8a8a8a" stroke="#4f4f4f" stroke-width="0.5" fill-opacity="0.45"/>
<circle cx="333.55" cy="546.88" r="1.1" fill="#8a8a8a" stroke="#4f4f4f" stroke-width="0.5" fill-opacity="0.45"/>
<circle cx="333.51" cy="553.90" r="1.1" fill="#8a8a8a" stroke="#4f4f4f" stroke-width="0.5" fill-opacity="0.45"/>
<circle cx="333.56" cy="540.30" r="1.1" fill="#8a8a8a" stroke="#4f4f4f" stroke-width="0.5" fill-opacity="0.45"/>
<circle cx="333.78" cy="519.41" r="1.1" fill="#8a8a8a" stroke="#4f4f4f" stroke-width="0.5" fill-opacity="0.45"/>
<circle cx="333.64" cy="560.35" r="1.1" fill="#8a8a8a" stroke="#4f4f4f" stroke-width="0.5" fill-opacity="0.45"/>
<circle cx="333.70" cy="571.29" r="1.1" fill="#8a8a8a" stroke="#4f4f4f" stroke-width="0.5" fill-opacity="0.45"/>
<circle cx="342.77" cy="524.80" r="1.1" fill="#8a8a8a" stroke="#4f4f4f" stroke-width="0.5" fill-opacity="0.45"/>
<circle cx="342.41" cy="576.50" r="1.1" fill="#8a8a8a" stroke="#4f4f4f" stroke-width="0.5" fill-opacity="0.45"/>
<circle cx="342.75" cy="559.86" r="1.1" fill="#8a8a8a" stroke="#4f4f4f" stroke-width="0.5" fill-opacity="0.45"/>
<circle cx="342.44" cy="549.56" r="1.1" fill="#8a8a8a" stroke="#4f4f4f" stroke-width="0.5" fill-opacity="0.45"/>
<circle cx="342.48" cy="570.14" r="1.1" fill="#8a8a8a" stroke="#4f4f4f" stroke-width="0.5" fill-opacity="0.45"/>
<circle cx="342.70" cy="534.93" r="1.1" fill="#8a8a8a" stroke="#4f4f4f" stroke-width="0.5" fill-opacity="0.45"/>
<circle cx="342.70" cy="551.40" r="1.1" fill="#8a8a8a" stroke="#4f4f4f" stroke-width="0.5" fill-opacity="0.45"/>
<circle cx="342.65" cy="573.96" r="1.1" fill="#8a8a8a" stroke="#4f4f4f" stroke-width="0.5" fill-opacity="0.45"/>
<circle cx="342.59" cy="553.57" r="1.1" fill="#8a8a8a" stroke="#4f4f4f" stroke-width="0.5" fill-opacity="0.45"/>
<circle cx="342.69" cy="551.36" r="1.1" fill="#8a8a8a" stroke="#4f4f4f" stroke-width="0.5" fill-opacity="0.45"/>
<circle cx="342.57" cy="533.58" r="1.1" fill="#8a8a8a" stroke="#4f4f4f" stroke-width="0.5" fill-opacity="0.45"/>
<circle cx="342.48" cy="570.08" r="1.1" fill="#8a8a8a" stroke="#4f4f4f" stroke-width="0.5" fill-opacity="0.45"/>
<circle cx="342.49" cy="549.10" r="1.1" fill="#8a8a8a" stroke="#4f4f4f" stroke-width="0.5" fill-opacity="0.45"/>
<circle cx="342.45" cy="557.81" r="1.1" fill="#8a8a8a" stroke="#4f4f4f" stroke-width="0.5" fill-opacity="0.45"/>
<circle cx="342.41" cy="556.78" r="1.1" fill="#8a8a8a" stroke="#4f4f4f" stroke-width="0.5" fill-opacity="0.45"/>
<circle cx="342.78" cy="556.61" r="1.1" fill="#8a8a8a" stroke="#4f4f4f" stroke-width="0.5" fill-opacity="0.45"/>
<circle cx="342.78" cy="551.25" r="1.1" fill="#8a8a8a" stroke="#4f4f4f" stroke-width="0.5" fill-opacity="0.45"/>
<circle cx="342.54" cy="555.84" r="1.1" fill="#8a8a8a" stroke="#4f4f4f" stroke-width="0.5" fill-opacity="0.45"/>
<circle cx="342.56" cy="570.47" r="1.1" fill="#8a8a8a" stroke="#4f4f4f" stroke-width="0.5" fill-opacity="0.45"/>
<circle cx="342.51" cy="537.54" r="1.1" fill="#8a8a8a" stroke="#4f4f4f" stroke-width="0.5" fill-opacity="0.45"/>
<circle cx="342.71" cy="553.28" r="1.1" fill="#8a8a8a" stroke="#4f4f4f" stroke-width="0.5" fill-opacity="0.45"/>
<circle cx="342.60" cy="557.03" r="1.1" fill="#8a8a8a" stroke="#4f4f4f" stroke-width="0.5" fill-opacity="0.45"/>
<circle cx="342.47" cy="556.36" r="1.1" fill="#8a8a8a" stroke="#4f4f4f" stroke-width="0.5" fill-opacity="0.45"/>
<circle cx="342.75" cy="557.54" r="1.1" fill="#8a8a8a" stroke="#4f4f4f" stroke-width="0.5" fill-opacity="0.45"/>
<circle cx="342.77" cy="559.03" r="1.1" fill="#8a8a8a" stroke="#4f4f4f" stroke-width="0.5" fill-opacity="0.45"/>
<circle cx="342.42" cy="554.03" r="1.1" fill="#8a8a8a" stroke="#4f4f4f" stroke-width="0.5" fill-opacity="0.45"/>
<circle cx="342.58" cy="558.60" r="1.1" fill="#8a8a8a" stroke="#4f4f4f" stroke-width="0.5" fill-opacity="0.45"/>
<circle cx="342.49" cy="556.16" r="1.1" fill="#8a8a8a" stroke="#4f4f4f" stroke-width="0.5" fill-opacity="0.45"/>
<circle cx="342.66" cy="542.98" r="1.1" fill="#8a8a8a" stroke="#4f4f4f" stroke-width="0.5" fill-opacity="0.45"/>
<circle cx="342.54" cy="552.81" r="1.1" fill="#8a8a8a" stroke="#4f4f4f" stroke-width="0.5" fill-opacity="0.45"/>
<circle cx="342.52" cy="555.23" r="1.1" fill="#8a8a8a" stroke="#4f4f4f" stroke-width="0.5" fill-opacity="0.45"/>
<circle cx="342.52" cy="528.53" r="1.1" fill="#8a8a8a" stroke="#4f4f4f" stroke-width="0.5" fill-opacity="0.45"/>
<circle cx="342.64" cy="550.55" r="1.1" fill="#8a8a8a" stroke="#4f4f4f" stroke-width="0.5" fill-opacity="0.45"/>
<circle cx="342.60" cy="548.57" r="1.1" fill="#8a8a8a" stroke="#4f4f4f" stroke-width="0.5" fill-opacity="0.45"/>
<circle cx="353.60" cy="519.40" r="1.1" fill="#8a8a8a" stroke="#4f4f4f" stroke-width="0.5" fill-opacity="0.45"/>
<circle cx="353.67" cy="616.20" r="1.1" fill="#8a8a8a" stroke="#4f4f4f" stroke-width="0.5" fill-opacity="0.45"/>
<circle cx="353.59" cy="566.64" r="1.1" fill="#8a8a8a" stroke="#4f4f4f" stroke-width="0.5" fill-opacity="0.45"/>
<circle cx="353.78" cy="534.54" r="1.1" fill="#8a8a8a" stroke="#4f4f4f" stroke-width="0.5" fill-opacity="0.45"/>
<circle cx="353.58" cy="615.00" r="1.1" fill="#8a8a8a" stroke="#4f4f4f" stroke-width="0.5" fill-opacity="0.45"/>
<circle cx="353.72" cy="575.18" r="1.1" fill="#8a8a8a" stroke="#4f4f4f" stroke-width="0.5" fill-opacity="0.45"/>
<circle cx="353.77" cy="533.77" r="1.1" fill="#8a8a8a" stroke="#4f4f4f" stroke-width="0.5" fill-opacity="0.45"/>
<circle cx="353.65" cy="535.39" r="1.1" fill="#8a8a8a" stroke="#4f4f4f" stroke-width="0.5" fill-opacity="0.45"/>
<circle cx="353.64" cy="559.48" r="1.1" fill="#8a8a8a" stroke="#4f4f4f" stroke-width="0.5" fill-opacity="0.45"/>
<circle cx="353.72" cy="577.86" r="1.1" fill="#8a8a8a" stroke="#4f4f4f" stroke-width="0.5" fill-opacity="0.45"/>
<circle cx="353.68" cy="612.97" r="1.1" fill="#8a8a8a" stroke="#4f4f4f" stroke-width="0.5" fill-opacity="0.45"/>
<circle cx="353.48" cy="578.15" r="1.1" fill="#8a8a8a" stroke="#4f4f4f" stroke-width="0.5" fill-opacity="0.45"/>
<circle cx="353.57" cy="555.65" r="1.1" fill="#8a8a8a" stroke="#4f4f4f" stroke-width="0.5" fill-opacity="0.45"/>
<circle cx="353.46" cy="554.54" r="1.1" fill="#8a8a8a" stroke="#4f4f4f" stroke-width="0.5" fill-opacity="0.45"/>
<circle cx="353.41" cy="535.19" r="1.1" fill="#8a8a8a" stroke="#4f4f4f" stroke-width="0.5" fill-opacity="0.45"/>
<circle cx="353.67" cy="571.38" r="1.1" fill="#8a8a8a" stroke="#4f4f4f" stroke-width="0.5" fill-opacity="0.45"/>
<circle cx="353.53" cy="532.93" r="1.1" fill="#8a8a8a" stroke="#4f4f4f" stroke-width="0.5" fill-opacity="0.45"/>
<circle cx="353.50" cy="608.04" r="1.1" fill="#8a8a8a" stroke="#4f4f4f" stroke-width="0.5" fill-opacity="0.45"/>
<circle cx="353.41" cy="550.06" r="1.1" fill="#8a8a8a" stroke="#4f4f4f" stroke-width="0.5" fill-opacity="0.45"/>
<circle cx="353.41" cy="565.47" r="1.1" fill="#8a8a8a" stroke="#4f4f4f" stroke-width="0.5" fill-opacity="0.45"/>
<circle cx="353.67" cy="565.33" r="1.1" fill="#8a8a8a" stroke="#4f4f4f" stroke-width="0.5" fill-opacity="0.45"/>
<circle cx="353.54" cy="538.71" r="1.1" fill="#8a8a8a" stroke="#4f4f4f" stroke-width="0.5" fill-opacity="0.45"/>
<circle cx="353.57" cy="556.23" r="1.1" fill="#8a8a8a" stroke="#4f4f4f" stroke-width="0.5" fill-opacity="0.45"/>
<circle cx="353.67" cy="560.59" r="1.1" fill="#8a8a8a" stroke="#4f4f4f" stroke-width="0.5" fill-opacity="0.45"/>
<circle cx="353.76" cy="564.89" r="1.1" fill="#8a8a8a" stroke="#4f4f4f" stroke-width="0.5" fill-opacity="0.45"/>
<circle cx="353.68" cy="560.29" r="1.1" fill="#8a8a8a" stroke="#4f4f4f" stroke-width="0.5" fill-opacity="0.45"/>
<circle cx="353.49" cy="599.21" r="1.1" fill="#8a8a8a" stroke="#4f4f4f" stroke-width="0.5" fill-opacity="0.45"/>
<circle cx="353.80" cy="559.34" r="1.1" fill="#8a8a8a" stroke="#4f4f4f" stroke-width="0.5" fill-opacity="0.45"/>
<circle cx="353.47" cy="566.30" r="1.1" fill="#8a8a8a" stroke="#4f4f4f" stroke-width="0.5" fill-opacity="0.45"/>
<circle cx="353.63" cy="593.22" r="1.1" fill="#8a8a8a" stroke="#4f4f4f" stroke-width="0.5" fill-opacity="0.45"/>
<circle cx="353.66" cy="586.15" r="1.1" fill="#8a8a8a" stroke="#4f4f4f" stroke-width="0.5" fill-opacity="0.45"/>
<circle cx="353.51" cy="547.05" r="1.1" fill="#8a8a8a" stroke="#4f4f4f" stroke-width="0.5" fill-opacity="0.45"/>
<circle cx="353.76" cy="559.52" r="1.1" fill="#8a8a8a" stroke="#4f4f4f" stroke-width="0.5" fill-opacity="0.45"/>
<circle cx="353.64" cy="575.76" r="1.1" fill="#8a8a8a" stroke="#4f4f4f" stroke-width="0.5" fill-opacity="0.45"/>
<circle cx="362.68" cy="527.00" r="1.1" fill="#8a8a8a" stroke="#4f4f4f" stroke-width="0.5" fill-opacity="0.45"/>
<circle cx="362.46" cy="629.40" r="1.1" fill="#8a8a8a" stroke="#4f4f4f" stroke-width="0.5" fill-opacity="0.45"/>
<circle cx="362.73" cy="560.45" r="1.1" fill="#8a8a8a" stroke="#4f4f4f" stroke-width="0.5" fill-opacity="0.45"/>
<circle cx="362.51" cy="594.81" r="1.1" fill="#8a8a8a" stroke="#4f4f4f" stroke-width="0.5" fill-opacity="0.45"/>
<circle cx="362.65" cy="548.82" r="1.1" fill="#8a8a8a" stroke="#4f4f4f" stroke-width="0.5" fill-opacity="0.45"/>
<circle cx="362.69" cy="622.02" r="1.1" fill="#8a8a8a" stroke="#4f4f4f" stroke-width="0.5" fill-opacity="0.45"/>
<circle cx="362.53" cy="567.61" r="1.1" fill="#8a8a8a" stroke="#4f4f4f" stroke-width="0.5" fill-opacity="0.45"/>
<circle cx="362.51" cy="622.30" r="1.1" fill="#8a8a8a" stroke="#4f4f4f" stroke-width="0.5" fill-opacity="0.45"/>
<circle cx="362.53" cy="600.80" r="1.1" fill="#8a8a8a" stroke="#4f4f4f" stroke-width="0.5" fill-opacity="0.45"/>
<circle cx="362.79" cy="576.86" r="1.1" fill="#8a8a8a" stroke="#4f4f4f" stroke-width="0.5" fill-opacity="0.45"/>
<circle cx="362.66" cy="559.27" r="1.1" fill="#8a8a8a" stroke="#4f4f4f" stroke-width="0.5" fill-opacity="0.45"/>
<circle cx="362.59" cy="560.62" r="1.1" fill="#8a8a8a" stroke="#4f4f4f" stroke-width="0.5" fill-opacity="0.45"/>
<circle cx="362.62" cy="592.46" r="1.1" fill="#8a8a8a" stroke="#4f4f4f" stroke-width="0.5" fill-opacity="0.45"/>
<circle cx="362.66" cy="540.04" r="1.1" fill="#8a8a8a" stroke="#4f4f4f" stroke-width="0.5" fill-opacity="0.45"/>
<circle cx="362.50" cy="580.46" r="1.1" fill="#8a8a8a" stroke="#4f4f4f" stroke-width="0.5" fill-opacity="0.45"/>
<circle cx="362.43" cy="559.85" r="1.1" fill="#8a8a8a" stroke="#4f4f4f" stroke-width="0.5" fill-opacity="0.45"/>
<circle cx="362.44" cy="546.07" r="1.1" fill="#8a8a8a" stroke="#4f4f4f" stroke-width="0.5" fill-opacity="0.45"/>
<circle cx="362.63" cy="618.41" r="1.1" fill="#8a8a8a" stroke="#4f4f4f" stroke-width="0.5" fill-opacity="0.45"/>
<circle cx="362.64" cy="583.40" r="1.1" fill="#8a8a8a" stroke="#4f4f4f" stroke-width="0.5" fill-opacity="0.45"/>
<circle cx="362.79" cy="581.76" r="1.1" fill="#8a8a8a" stroke="#4f4f4f" stroke-width="0.5" fill-opacity="0.45"/>
<circle cx="362.65" cy="574.83" r="1.1" fill="#8a8a8a" stroke="#4f4f4f" stroke-width="0.5" fill-opacity="0.45"/>
<circle cx="362.74" cy="548.54" r="1.1" fill="#8a8a8a" stroke="#4f4f4f" stroke-width="0.5" fill-opacity="0.45"/>
<circle cx="362.79" cy="547.17" r="1.1" fill="#8a8a8a" stroke="#4f4f4f" stroke-width="0.5" fill-opacity="0.45"/>
<circle cx="362.60" cy="544.94" r="1.1" fill="#8a8a8a" stroke="#4f4f4f" stroke-width="0.5" fill-opacity="0.45"/>
<circle cx="362.57" cy="616.57" r="1.1" fill="#8a8a8a" stroke="#4f4f4f" stroke-width="0.5" fill-opacity="0.45"/>
<circle cx="362.59" cy="558.60" r="1.1" fill="#8a8a8a" stroke="#4f4f4f" stroke-width="0.5" fill-opacity="0.45"/>
<circle cx="362.55" cy="531.55" r="1.1" fill="#8a8a8a" stroke="#4f4f4f" stroke-width="0.5" fill-opacity="0.45"/>
<circle cx="362.70" cy="567.80" r="1.1" fill="#8a8a8a" stroke="#4f4f4f" stroke-width="0.5" fill-opacity="0.45"/>
<circle cx="362.63" cy="621.13" r="1.1" fill="#8a8a8a" stroke="#4f4f4f" stroke-width="0.5" fill-opacity="0.45"/>
<circle cx="362.45" cy="545.87" r="1.1" fill="#8a8a8a" stroke="#4f4f4f" stroke-width="0.5" fill-opacity="0.45"/>
<circle cx="362.78" cy="573.03" r="1.1" fill="#8a8a8a" stroke="#4f4f4f" stroke-width="0.5" fill-opacity="0.45"/>
<circle cx="362.61" cy="575.52" r="1.1" fill="#8a8a8a" stroke="#4f4f4f" stroke-width="0.5" fill-opacity="0.45"/>
<circle cx="362.70" cy="587.97" r="1.1" fill="#8a8a8a" stroke="#4f4f4f" stroke-width="0.5" fill-opacity="0.45"/>
<circle cx="362.62" cy="597.65" r="1.1" fill="#8a8a8a" stroke="#4f4f4f" stroke-width="0.5" fill-opacity="0.45"/>
<circle cx="385.74" cy="523.20" r="1.1" fill="#8a8a8a" stroke="#4f4f4f" stroke-width="0.5" fill-opacity="0.45"/>
<circle cx="385.73" cy="600.00" r="1.1" fill="#8a8a8a" stroke="#4f4f4f" stroke-width="0.5" fill-opacity="0.45"/>
<circle cx="385.55" cy="533.78" r="1.1" fill="#8a8a8a" stroke="#4f4f4f" stroke-width="0.5" fill-opacity="0.45"/>
<circle cx="385.55" cy="548.27" r="1.1" fill="#8a8a8a" stroke="#4f4f4f" stroke-width="0.5" fill-opacity="0.45"/>
<circle cx="385.79" cy="528.59" r="1.1" fill="#8a8a8a" stroke="#4f4f4f" stroke-width="0.5" fill-opacity="0.45"/>
<circle cx="385.64" cy="532.47" r="1.1" fill="#8a8a8a" stroke="#4f4f4f" stroke-width="0.5" fill-opacity="0.45"/>
<circle cx="385.55" cy="545.08" r="1.1" fill="#8a8a8a" stroke="#4f4f4f" stroke-width="0.5" fill-opacity="0.45"/>
<circle cx="385.83" cy="531.63" r="1.1" fill="#8a8a8a" stroke="#4f4f4f" stroke-width="0.5" fill-opacity="0.45"/>
<circle cx="385.80" cy="560.94" r="1.1" fill="#8a8a8a" stroke="#4f4f4f" stroke-width="0.5" fill-opacity="0.45"/>
<circle cx="385.81" cy="563.58" r="1.1" fill="#8a8a8a" stroke="#4f4f4f" stroke-width="0.5" fill-opacity="0.45"/>
<circle cx="385.65" cy="537.81" r="1.1" fill="#8a8a8a" stroke="#4f4f4f" stroke-width="0.5" fill-opacity="0.45"/>
<circle cx="385.55" cy="567.59" r="1.1" fill="#8a8a8a" stroke="#4f4f4f" stroke-width="0.5" fill-opacity="0.45"/>
<circle cx="385.80" cy="536.84" r="1.1" fill="#8a8a8a" stroke="#4f4f4f" stroke-width="0.5" fill-opacity="0.45"/>
<circle cx="385.59" cy="546.37" r="1.1" fill="#8a8a8a" stroke="#4f4f4f" stroke-width="0.5" fill-opacity="0.45"/>
<circle cx="385.77" cy="563.62" r="1.1" fill="#8a8a8a" stroke="#4f4f4f" stroke-width="0.5" fill-opacity="0.45"/>
<circle cx="385.78" cy="533.06" r="1.1" fill="#8a8a8a" stroke="#4f4f4f" stroke-width="0.5" fill-opacity="0.45"/>
<circle cx="385.61" cy="574.46" r="1.1" fill="#8a8a8a" stroke="#4f4f4f" stroke-width="0.5" fill-opacity="0.45"/>
<circle cx="385.50" cy="568.73" r="1.1" fill="#8a8a8a" stroke="#4f4f4f" stroke-width="0.5" fill-opacity="0.45"/>
<circle cx="385.74" cy="563.68" r="1.1" fill="#8a8a8a" stroke="#4f4f4f" stroke-width="0.5" fill-opacity="0.45"/>
<circle cx="385.82" cy="567.83" r="1.1" fill="#8a8a8a" stroke="#4f4f4f" stroke-width="0.5" fill-opacity="0.45"/>
<circle cx="385.74" cy="553.73" r="1.1" fill="#8a8a8a" stroke="#4f4f4f" stroke-width="0.5" fill-opacity="0.45"/>
<circle cx="385.89" cy="598.85" r="1.1" fill="#8a8a8a" stroke="#4f4f4f" stroke-width="0.5" fill-opacity="0.45"/>
<circle cx="385.59" cy="561.90" r="1.1" fill="#8a8a8a" stroke="#4f4f4f" stroke-width="0.5" fill-opacity="0.45"/>
<circle cx="385.79" cy="573.93" r="1.1" fill="#8a8a8a" stroke="#4f4f4f" stroke-width="0.5" fill-opacity="0.45"/>
<circle cx="385.67" cy="534.82" r="1.1" fill="#8a8a8a" stroke="#4f4f4f" stroke-width="0.5" fill-opacity="0.45"/>
<circle cx="385.73" cy="531.82" r="1.1" fill="#8a8a8a" stroke="#4f4f4f" stroke-width="0.5" fill-opacity="0.45"/>
<circle cx="385.62" cy="550.02" r="1.1" fill="#8a8a8a" stroke="#4f4f4f" stroke-width="0.5" fill-opacity="0.45"/>
<circle cx="385.59" cy="556.94" r="1.1" fill="#8a8a8a" stroke="#4f4f4f" stroke-width="0.5" fill-opacity="0.45"/>
<circle cx="385.72" cy="532.12" r="1.1" fill="#8a8a8a" stroke="#4f4f4f" stroke-width="0.5" fill-opacity="0.45"/>
<circle cx="385.74" cy="599.99" r="1.1" fill="#8a8a8a" stroke="#4f4f4f" stroke-width="0.5" fill-opacity="0.45"/>
<circle cx="385.86" cy="528.90" r="1.1" fill="#8a8a8a" stroke="#4f4f4f" stroke-width="0.5" fill-opacity="0.45"/>
<circle cx="385.74" cy="551.91" r="1.1" fill="#8a8a8a" stroke="#4f4f4f" stroke-width="0.5" fill-opacity="0.45"/>
<circle cx="385.70" cy="554.81" r="1.1" fill="#8a8a8a" stroke="#4f4f4f" stroke-width="0.5" fill-opacity="0.45"/>
<circle cx="385.76" cy="575.65" r="1.1" fill="#8a8a8a" stroke="#4f4f4f" stroke-width="0.5" fill-opacity="0.45"/>
<circle cx="394.75" cy="519.40" r="1.1" fill="#8a8a8a" stroke="#4f4f4f" stroke-width="0.5" fill-opacity="0.45"/>
<circle cx="394.66" cy="569.50" r="1.1" fill="#8a8a8a" stroke="#4f4f4f" stroke-width="0.5" fill-opacity="0.45"/>
<circle cx="394.61" cy="544.44" r="1.1" fill="#8a8a8a" stroke="#4f4f4f" stroke-width="0.5" fill-opacity="0.45"/>
<circle cx="394.77" cy="539.06" r="1.1" fill="#8a8a8a" stroke="#4f4f4f" stroke-width="0.5" fill-opacity="0.45"/>
<circle cx="394.65" cy="541.61" r="1.1" fill="#8a8a8a" stroke="#4f4f4f" stroke-width="0.5" fill-opacity="0.45"/>
<circle cx="394.51" cy="520.58" r="1.1" fill="#8a8a8a" stroke="#4f4f4f" stroke-width="0.5" fill-opacity="0.45"/>
<circle cx="394.57" cy="527.88" r="1.1" fill="#8a8a8a" stroke="#4f4f4f" stroke-width="0.5" fill-opacity="0.45"/>
<circle cx="394.64" cy="529.19" r="1.1" fill="#8a8a8a" stroke="#4f4f4f" stroke-width="0.5" fill-opacity="0.45"/>
<circle cx="394.77" cy="532.39" r="1.1" fill="#8a8a8a" stroke="#4f4f4f" stroke-width="0.5" fill-opacity="0.45"/>
<circle cx="394.76" cy="523.48" r="1.1" fill="#8a8a8a" stroke="#4f4f4f" stroke-width="0.5" fill-opacity="0.45"/>
<circle cx="394.70" cy="523.85" r="1.1" fill="#8a8a8a" stroke="#4f4f4f" stroke-width="0.5" fill-opacity="0.45"/>
<circle cx="394.83" cy="520.40" r="1.1" fill="#8a8a8a" stroke="#4f4f4f" stroke-width="0.5" fill-opacity="0.45"/>
<circle cx="394.63" cy="534.10" r="1.1" fill="#8a8a8a" stroke="#4f4f4f" stroke-width="0.5" fill-opacity="0.45"/>
<circle cx="394.64" cy="542.95" r="1.1" fill="#8a8a8a" stroke="#4f4f4f" stroke-width="0.5" fill-opacity="0.45"/>
<circle cx="394.80" cy="521.05" r="1.1" fill="#8a8a8a" stroke="#4f4f4f" stroke-width="0.5" fill-opacity="0.45"/>
<circle cx="394.77" cy="524.48" r="1.1" fill="#8a8a8a" stroke="#4f4f4f" stroke-width="0.5" fill-opacity="0.45"/>
<circle cx="394.67" cy="549.74" r="1.1" fill="#8a8a8a" stroke="#4f4f4f" stroke-width="0.5" fill-opacity="0.45"/>
<circle cx="394.86" cy="529.75" r="1.1" fill="#8a8a8a" stroke="#4f4f4f" stroke-width="0.5" fill-opacity="0.45"/>
<circle cx="394.51" cy="534.00" r="1.1" fill="#8a8a8a" stroke="#4f4f4f" stroke-width="0.5" fill-opacity="0.45"/>
<circle cx="394.71" cy="531.00" r="1.1" fill="#8a8a8a" stroke="#4f4f4f" stroke-width="0.5" fill-opacity="0.45"/>
<circle cx="394.84" cy="519.80" r="1.1" fill="#8a8a8a" stroke="#4f4f4f" stroke-width="0.5" fill-opacity="0.45"/>
<circle cx="394.85" cy="523.28" r="1.1" fill="#8a8a8a" stroke="#4f4f4f" stroke-width="0.5" fill-opacity="0.45"/>
<circle cx="394.58" cy="520.44" r="1.1" fill="#8a8a8a" stroke="#4f4f4f" stroke-width="0.5" fill-opacity="0.45"/>
<circle cx="394.82" cy="530.69" r="1.1" fill="#8a8a8a" stroke="#4f4f4f" stroke-width="0.5" fill-opacity="0.45"/>
<circle cx="394.71" cy="548.87" r="1.1" fill="#8a8a8a" stroke="#4f4f4f" stroke-width="0.5" fill-opacity="0.45"/>
<circle cx="394.87" cy="534.52" r="1.1" fill="#8a8a8a" stroke="#4f4f4f" stroke-width="0.5" fill-opacity="0.45"/>
<circle cx="394.63" cy="532.12" r="1.1" fill="#8a8a8a" stroke="#4f4f4f" stroke-width="0.5" fill-opacity="0.45"/>
<circle cx="394.77" cy="539.30" r="1.1" fill="#8a8a8a" stroke="#4f4f4f" stroke-width="0.5" fill-opacity="0.45"/>
<circle cx="394.76" cy="539.73" r="1.1" fill="#8a8a8a" stroke="#4f4f4f" stroke-width="0.5" fill-opacity="0.45"/>
<circle cx="394.90" cy="544.18" r="1.1" fill="#8a8a8a" stroke="#4f4f4f" stroke-width="0.5" fill-opacity="0.45"/>
<circle cx="394.64" cy="529.73" r="1.1" fill="#8a8a8a" stroke="#4f4f4f" stroke-width="0.5" fill-opacity="0.45"/>
<circle cx="394.66" cy="529.00" r="1.1" fill="#8a8a8a" stroke="#4f4f4f" stroke-width="0.5" fill-opacity="0.45"/>
<circle cx="394.55" cy="531.79" r="1.1" fill="#8a8a8a" stroke="#4f4f4f" stroke-width="0.5" fill-opacity="0.45"/>
<circle cx="394.77" cy="538.85" r="1.1" fill="#8a8a8a" stroke="#4f4f4f" stroke-width="0.5" fill-opacity="0.45"/>
<circle cx="394.53" cy="574.40" r="1.1" fill="#8a8a8a" stroke="#4f4f4f" stroke-width="0.5" fill-opacity="0.45"/>
<circle cx="394.84" cy="585.70" r="1.1" fill="#8a8a8a" stroke="#4f4f4f" stroke-width="0.5" fill-opacity="0.45"/>
<line x1="405.60" y1="686.90" x2="414.60" y2="686.90" stroke="#8c8c8c" stroke-width="0.7"/>
<circle cx="405.46" cy="686.90" r="1.1" fill="#8a8a8a" stroke="#4f4f4f" stroke-width="0.5" fill-opacity="0.45"/>
<circle cx="405.48" cy="623.20" r="1.1" fill="#8a8a8a" stroke="#4f4f4f" stroke-width="0.5" fill-opacity="0.45"/>
<circle cx="405.78" cy="624.40" r="1.1" fill="#8a8a8a" stroke="#4f4f4f" stroke-width="0.5" fill-opacity="0.45"/>
<circle cx="405.60" cy="630.40" r="1.1" fill="#8a8a8a" stroke="#4f4f4f" stroke-width="0.5" fill-opacity="0.45"/>
<circle cx="405.70" cy="648.30" r="1.1" fill="#8a8a8a" stroke="#4f4f4f" stroke-width="0.5" fill-opacity="0.45"/>
<circle cx="414.54" cy="582.60" r="1.1" fill="#8a8a8a" stroke="#4f4f4f" stroke-width="0.5" fill-opacity="0.45"/>
<circle cx="414.50" cy="686.90" r="1.1" fill="#8a8a8a" stroke="#4f4f4f" stroke-width="0.5" fill-opacity="0.45"/>
<circle cx="414.55" cy="639.13" r="1.1" fill="#8a8a8a" stroke="#4f4f4f" stroke-width="0.5" fill-opacity="0.45"/>
<circle cx="414.79" cy="611.67" r="1.1" fill="#8a8a8a" stroke="#4f4f4f" stroke-width="0.5" fill-opacity="0.45"/>
<circle cx="414.48" cy="644.53" r="1.1" fill="#8a8a8a" stroke="#4f4f4f" stroke-width="0.5" fill-opacity="0.45"/>
<circle cx="414.76" cy="641.89" r="1.1" fill="#8a8a8a" stroke="#4f4f4f" stroke-width="0.5" fill-opacity="0.45"/>
<circle cx="414.75" cy="627.85" r="1.1" fill="#8a8a8a" stroke="#4f4f4f" stroke-width="0.5" fill-opacity="0.45"/>
<circle cx="414.67" cy="628.53" r="1.1" fill="#8a8a8a" stroke="#4f4f4f" stroke-width="0.5" fill-opacity="0.45"/>
<circle cx="414.51" cy="631.97" r="1.1" fill="#8a8a8a" stroke="#4f4f4f" stroke-width="0.5" fill-opacity="0.45"/>
<circle cx="414.69" cy="643.49" r="1.1" fill="#8a8a8a" stroke="#4f4f4f" stroke-width="0.5" fill-opacity="0.45"/>
<circle cx="414.76" cy="625.63" r="1.1" fill="#8a8a8a" stroke="#4f4f4f" stroke-width="0.5" fill-opacity="0.45"/>
<circle cx="414.64" cy="639.15" r="1.1" fill="#8a8a8a" stroke="#4f4f4f" stroke-width="0.5" fill-opacity="0.45"/>
<line x1="425.65" y1="686.90" x2="434.65" y2="686.90" stroke="#8c8c8c" stroke-width="0.7"/>
<circle cx="425.54" cy="578.80" r="1.1" fill="#8a8a8a" stroke="#4f4f4f" stroke-width="0.5" fill-opacity="0.45"/>
<circle cx="425.69" cy="686.90" r="1.1" fill="#8a8a8a" stroke="#4f4f4f" stroke-width="0.5" fill-opacity="0.45"/>
<circle cx="425.83" cy="627.37" r="1.1" fill="#8a8a8a" stroke="#4f4f4f" stroke-width="0.5" fill-opacity="0.45"/>
<circle cx="425.69" cy="627.30" r="1.1" fill="#8a8a8a" stroke="#4f4f4f" stroke-width="0.5" fill-opacity="0.45"/>
<circle cx="425.51" cy="638.59" r="1.1" fill="#8a8a8a" stroke="#4f4f4f" stroke-width="0.5" fill-opacity="0.45"/>
<circle cx="425.53" cy="600.32" r="1.1" fill="#8a8a8a" stroke="#4f4f4f" stroke-width="0.5" fill-opacity="0.45"/>
<circle cx="425.70" cy="630.30" r="1.1" fill="#8a8a8a" stroke="#4f4f4f" stroke-width="0.5" fill-opacity="0.45"/>
<circle cx="425.47" cy="643.86" r="1.1" fill="#8a8a8a" stroke="#4f4f4f" stroke-width="0.5" fill-opacity="0.45"/>
<circle cx="425.45" cy="633.83" r="1.1" fill="#8a8a8a" stroke="#4f4f4f" stroke-width="0.5" fill-opacity="0.45"/>
<circle cx="425.60" cy="612.46" r="1.1" fill="#8a8a8a" stroke="#4f4f4f" stroke-width="0.5" fill-opacity="0.45"/>
<circle cx="434.55" cy="557.90" r="1.1" fill="#8a8a8a" stroke="#4f4f4f" stroke-width="0.5" fill-opacity="0.45"/>
<circle cx="434.65" cy="635.75" r="1.1" fill="#8a8a8a" stroke="#4f4f4f" stroke-width="0.5" fill-opacity="0.45"/>
<circle cx="434.48" cy="612.78" r="1.1" fill="#8a8a8a" stroke="#4f4f4f" stroke-width="0.5" fill-opacity="0.45"/>
<circle cx="434.67" cy="686.90" r="1.1" fill="#8a8a8a" stroke="#4f4f4f" stroke-width="0.5" fill-opacity="0.45"/>
<circle cx="434.72" cy="630.00" r="1.1" fill="#8a8a8a" stroke="#4f4f4f" stroke-width="0.5" fill-opacity="0.45"/>
<circle cx="434.58" cy="613.16" r="1.1" fill="#8a8a8a" stroke="#4f4f4f" stroke-width="0.5" fill-opacity="0.45"/>
<circle cx="434.68" cy="628.40" r="1.1" fill="#8a8a8a" stroke="#4f4f4f" stroke-width="0.5" fill-opacity="0.45"/>
<circle cx="434.66" cy="635.44" r="1.1" fill="#8a8a8a" stroke="#4f4f4f" stroke-width="0.5" fill-opacity="0.45"/>
<circle cx="434.77" cy="617.96" r="1.1" fill="#8a8a8a" stroke="#4f4f4f" stroke-width="0.5" fill-opacity="0.45"/>
<circle cx="434.68" cy="629.84" r="1.1" fill="#8a8a8a" stroke="#4f4f4f" stroke-width="0.5" fill-opacity="0.45"/>
<circle cx="434.71" cy="617.82" r="1.1" fill="#8a8a8a" stroke="#4f4f4f" stroke-width="0.5" fill-opacity="0.45"/>
<circle cx="434.68" cy="631.24" r="1.1" fill="#8a8a8a" stroke="#4f4f4f" stroke-width="0.5" fill-opacity="0.45"/>
<circle cx="434.78" cy="575.45" r="1.1" fill="#8a8a8a" stroke="#4f4f4f" stroke-width="0.5" fill-opacity="0.45"/>
<line x1="445.70" y1="686.90" x2="454.70" y2="686.90" stroke="#8c8c8c" stroke-width="0.7"/>
<circle cx="445.54" cy="597.30" r="1.1" fill="#8a8a8a" stroke="#4f4f4f" stroke-width="0.5" fill-opacity="0.45"/>
<circle cx="445.55" cy="686.90" r="1.1" fill="#8a8a8a" stroke="#4f4f4f" stroke-width="0.5" fill-opacity="0.45"/>
<circle cx="445.85" cy="612.62" r="1.1" fill="#8a8a8a" stroke="#4f4f4f" stroke-width="0.5" fill-opacity="0.45"/>
<circle cx="445.83" cy="637.68" r="1.1" fill="#8a8a8a" stroke="#4f4f4f" stroke-width="0.5" fill-opacity="0.45"/>
<circle cx="445.50" cy="612.49" r="1.1" fill="#8a8a8a" stroke="#4f4f4f" stroke-width="0.5" fill-opacity="0.45"/>
<circle cx="445.86" cy="631.01" r="1.1" fill="#8a8a8a" stroke="#4f4f4f" stroke-width="0.5" fill-opacity="0.45"/>
<circle cx="445.74" cy="616.76" r="1.1" fill="#8a8a8a" stroke="#4f4f4f" stroke-width="0.5" fill-opacity="0.45"/>
<circle cx="445.84" cy="637.48" r="1.1" fill="#8a8a8a" stroke="#4f4f4f" stroke-width="0.5" fill-opacity="0.45"/>
<circle cx="445.78" cy="631.50" r="1.1" fill="#8a8a8a" stroke="#4f4f4f" stroke-width="0.5" fill-opacity="0.45"/>
<circle cx="445.65" cy="605.27" r="1.1" fill="#8a8a8a" stroke="#4f4f4f" stroke-width="0.5" fill-opacity="0.45"/>
<circle cx="445.55" cy="636.58" r="1.1" fill="#8a8a8a" stroke="#4f4f4f" stroke-width="0.5" fill-opacity="0.45"/>
<circle cx="445.81" cy="616.57" r="1.1" fill="#8a8a8a" stroke="#4f4f4f" stroke-width="0.5" fill-opacity="0.45"/>
<circle cx="445.78" cy="603.70" r="1.1" fill="#8a8a8a" stroke="#4f4f4f" stroke-width="0.5" fill-opacity="0.45"/>
<circle cx="454.69" cy="564.90" r="1.1" fill="#8a8a8a" stroke="#4f4f4f" stroke-width="0.5" fill-opacity="0.45"/>
<circle cx="454.61" cy="686.90" r="1.1" fill="#8a8a8a" stroke="#4f4f4f" stroke-width="0.5" fill-opacity="0.45"/>
<circle cx="454.65" cy="624.23" r="1.1" fill="#8a8a8a" stroke="#4f4f4f" stroke-width="0.5" fill-opacity="0.45"/>
<circle cx="454.87" cy="579.93" r="1.1" fill="#8a8a8a" stroke="#4f4f4f" stroke-width="0.5" fill-opacity="0.45"/>
<circle cx="454.69" cy="616.34" r="1.1" fill="#8a8a8a" stroke="#4f4f4f" stroke-width="0.5" fill-opacity="0.45"/>
<circle cx="454.58" cy="603.91" r="1.1" fill="#8a8a8a" stroke="#4f4f4f" stroke-width="0.5" fill-opacity="0.45"/>
<circle cx="454.89" cy="594.71" r="1.1" fill="#8a8a8a" stroke="#4f4f4f" stroke-width="0.5" fill-opacity="0.45"/>
<circle cx="454.89" cy="572.78" r="1.1" fill="#8a8a8a" stroke="#4f4f4f" stroke-width="0.5" fill-opacity="0.45"/>
<circle cx="454.57" cy="618.25" r="1.1" fill="#8a8a8a" stroke="#4f4f4f" stroke-width="0.5" fill-opacity="0.45"/>
<line x1="465.75" y1="686.90" x2="474.75" y2="686.90" stroke="#8c8c8c" stroke-width="0.7"/>
<circle cx="465.63" cy="577.20" r="1.1" fill="#8a8a8a" stroke="#4f4f4f" stroke-width="0.5" fill-opacity="0.45"/>
<circle cx="465.84" cy="610.22" r="1.1" fill="#8a8a8a" stroke="#4f4f4f" stroke-width="0.5" fill-opacity="0.45"/>
<circle cx="465.70" cy="623.36" r="1.1" fill="#8a8a8a" stroke="#4f4f4f" stroke-width="0.5" fill-opacity="0.45"/>
<circle cx="465.74" cy="611.49" r="1.1" fill="#8a8a8a" stroke="#4f4f4f" stroke-width="0.5" fill-opacity="0.45"/>
<circle cx="465.82" cy="589.84" r="1.1" fill="#8a8a8a" stroke="#4f4f4f" stroke-width="0.5" fill-opacity="0.45"/>
<circle cx="465.66" cy="686.90" r="1.1" fill="#8a8a8a" stroke="#4f4f4f" stroke-width="0.5" fill-opacity="0.45"/>
<circle cx="465.79" cy="634.50" r="1.1" fill="#8a8a8a" stroke="#4f4f4f" stroke-width="0.5" fill-opacity="0.45"/>
<circle cx="465.63" cy="634.83" r="1.1" fill="#8a8a8a" stroke="#4f4f4f" stroke-width="0.5" fill-opacity="0.45"/>
<circle cx="465.64" cy="618.00" r="1.1" fill="#8a8a8a" stroke="#4f4f4f" stroke-width="0.5" fill-opacity="0.45"/>
<circle cx="465.77" cy="591.92" r="1.1" fill="#8a8a8a" stroke="#4f4f4f" stroke-width="0.5" fill-opacity="0.45"/>
<circle cx="465.72" cy="620.30" r="1.1" fill="#8a8a8a" stroke="#4f4f4f" stroke-width="0.5" fill-opacity="0.45"/>
<circle cx="465.91" cy="595.30" r="1.1" fill="#8a8a8a" stroke="#4f4f4f" stroke-width="0.5" fill-opacity="0.45"/>
<circle cx="465.61" cy="588.71" r="1.1" fill="#8a8a8a" stroke="#4f4f4f" stroke-width="0.5" fill-opacity="0.45"/>
<circle cx="465.92" cy="615.49" r="1.1" fill="#8a8a8a" stroke="#4f4f4f" stroke-width="0.5" fill-opacity="0.45"/>
<circle cx="465.65" cy="580.08" r="1.1" fill="#8a8a8a" stroke="#4f4f4f" stroke-width="0.5" fill-opacity="0.45"/>
<circle cx="474.69" cy="562.60" r="1.1" fill="#8a8a8a" stroke="#4f4f4f" stroke-width="0.5" fill-opacity="0.45"/>
<circle cx="474.59" cy="569.41" r="1.1" fill="#8a8a8a" stroke="#4f4f4f" stroke-width="0.5" fill-opacity="0.45"/>
<circle cx="474.68" cy="596.44" r="1.1" fill="#8a8a8a" stroke="#4f4f4f" stroke-width="0.5" fill-opacity="0.45"/>
<circle cx="474.94" cy="600.85" r="1.1" fill="#8a8a8a" stroke="#4f4f4f" stroke-width="0.5" fill-opacity="0.45"/>
<circle cx="474.69" cy="569.11" r="1.1" fill="#8a8a8a" stroke="#4f4f4f" stroke-width="0.5" fill-opacity="0.45"/>
<circle cx="474.88" cy="618.58" r="1.1" fill="#8a8a8a" stroke="#4f4f4f" stroke-width="0.5" fill-opacity="0.45"/>
<circle cx="474.94" cy="686.90" r="1.1" fill="#8a8a8a" stroke="#4f4f4f" stroke-width="0.5" fill-opacity="0.45"/>
<circle cx="474.83" cy="587.64" r="1.1" fill="#8a8a8a" stroke="#4f4f4f" stroke-width="0.5" fill-opacity="0.45"/>
<circle cx="474.62" cy="617.67" r="1.1" fill="#8a8a8a" stroke="#4f4f4f" stroke-width="0.5" fill-opacity="0.45"/>
<circle cx="474.72" cy="580.41" r="1.1" fill="#8a8a8a" stroke="#4f4f4f" stroke-width="0.5" fill-opacity="0.45"/>
<circle cx="474.62" cy="595.02" r="1.1" fill="#8a8a8a" stroke="#4f4f4f" stroke-width="0.5" fill-opacity="0.45"/>
<circle cx="474.65" cy="564.18" r="1.1" fill="#8a8a8a" stroke="#4f4f4f" stroke-width="0.5" fill-opacity="0.45"/>
<circle cx="474.68" cy="564.25" r="1.1" fill="#8a8a8a" stroke="#4f4f4f" stroke-width="0.5" fill-opacity="0.45"/>
<circle cx="474.62" cy="618.40" r="1.1" fill="#8a8a8a" stroke="#4f4f4f" stroke-width="0.5" fill-opacity="0.45"/>
<circle cx="474.82" cy="578.49" r="1.1" fill="#8a8a8a" stroke="#4f4f4f" stroke-width="0.5" fill-opacity="0.45"/>
<circle cx="474.76" cy="581.24" r="1.1" fill="#8a8a8a" stroke="#4f4f4f" stroke-width="0.5" fill-opacity="0.45"/>
<line x1="485.80" y1="686.90" x2="494.80" y2="686.90" stroke="#8c8c8c" stroke-width="0.7"/>
<circle cx="485.72" cy="548.20" r="1.1" fill="#8a8a8a" stroke="#4f4f4f" stroke-width="0.5" fill-opacity="0.45"/>
<circle cx="485.70" cy="646.51" r="1.1" fill="#8a8a8a" stroke="#4f4f4f" stroke-width="0.5" fill-opacity="0.45"/>
<circle cx="485.66" cy="602.65" r="1.1" fill="#8a8a8a" stroke="#4f4f4f" stroke-width="0.5" fill-opacity="0.45"/>
<circle cx="485.65" cy="677.76" r="1.1" fill="#8a8a8a" stroke="#4f4f4f" stroke-width="0.5" fill-opacity="0.45"/>
<circle cx="485.78" cy="574.01" r="1.1" fill="#8a8a8a" stroke="#4f4f4f" stroke-width="0.5" fill-opacity="0.45"/>
<circle cx="485.63" cy="678.92" r="1.1" fill="#8a8a8a" stroke="#4f4f4f" stroke-width="0.5" fill-opacity="0.45"/>
<circle cx="485.81" cy="558.20" r="1.1" fill="#8a8a8a" stroke="#4f4f4f" stroke-width="0.5" fill-opacity="0.45"/>
<circle cx="485.70" cy="566.85" r="1.1" fill="#8a8a8a" stroke="#4f4f4f" stroke-width="0.5" fill-opacity="0.45"/>
<circle cx="485.91" cy="573.51" r="1.1" fill="#8a8a8a" stroke="#4f4f4f" stroke-width="0.5" fill-opacity="0.45"/>
<circle cx="485.71" cy="644.15" r="1.1" fill="#8a8a8a" stroke="#4f4f4f" stroke-width="0.5" fill-opacity="0.45"/>
<circle cx="485.94" cy="596.60" r="1.1" fill="#8a8a8a" stroke="#4f4f4f" stroke-width="0.5" fill-opacity="0.45"/>
<circle cx="485.98" cy="553.91" r="1.1" fill="#8a8a8a" stroke="#4f4f4f" stroke-width="0.5" fill-opacity="0.45"/>
<circle cx="485.97" cy="593.17" r="1.1" fill="#8a8a8a" stroke="#4f4f4f" stroke-width="0.5" fill-opacity="0.45"/>
<circle cx="485.69" cy="648.38" r="1.1" fill="#8a8a8a" stroke="#4f4f4f" stroke-width="0.5" fill-opacity="0.45"/>
<circle cx="485.97" cy="593.77" r="1.1" fill="#8a8a8a" stroke="#4f4f4f" stroke-width="0.5" fill-opacity="0.45"/>
<circle cx="485.79" cy="686.90" r="1.1" fill="#8a8a8a" stroke="#4f4f4f" stroke-width="0.5" fill-opacity="0.45"/>
<circle cx="485.95" cy="631.06" r="1.1" fill="#8a8a8a" stroke="#4f4f4f" stroke-width="0.5" fill-opacity="0.45"/>
<circle cx="485.79" cy="607.64" r="1.1" fill="#8a8a8a" stroke="#4f4f4f" stroke-width="0.5" fill-opacity="0.45"/>
<circle cx="485.82" cy="552.30" r="1.1" fill="#8a8a8a" stroke="#4f4f4f" stroke-width="0.5" fill-opacity="0.45"/>
<circle cx="494.70" cy="555.60" r="1.1" fill="#8a8a8a" stroke="#4f4f4f" stroke-width="0.5" fill-opacity="0.45"/>
<circle cx="494.90" cy="602.31" r="1.1" fill="#8a8a8a" stroke="#4f4f4f" stroke-width="0.5" fill-opacity="0.45"/>
<circle cx="494.75" cy="569.26" r="1.1" fill="#8a8a8a" stroke="#4f4f4f" stroke-width="0.5" fill-opacity="0.45"/>
<circle cx="494.95" cy="610.93" r="1.1" fill="#8a8a8a" stroke="#4f4f4f" stroke-width="0.5" fill-opacity="0.45"/>
<circle cx="494.88" cy="567.33" r="1.1" fill="#8a8a8a" stroke="#4f4f4f" stroke-width="0.5" fill-opacity="0.45"/>
<circle cx="494.77" cy="686.90" r="1.1" fill="#8a8a8a" stroke="#4f4f4f" stroke-width="0.5" fill-opacity="0.45"/>
<circle cx="494.61" cy="563.57" r="1.1" fill="#8a8a8a" stroke="#4f4f4f" stroke-width="0.5" fill-opacity="0.45"/>
<circle cx="494.71" cy="576.81" r="1.1" fill="#8a8a8a" stroke="#4f4f4f" stroke-width="0.5" fill-opacity="0.45"/>
<circle cx="494.77" cy="592.04" r="1.1" fill="#8a8a8a" stroke="#4f4f4f" stroke-width="0.5" fill-opacity="0.45"/>
<circle cx="494.75" cy="616.89" r="1.1" fill="#8a8a8a" stroke="#4f4f4f" stroke-width="0.5" fill-opacity="0.45"/>
<circle cx="494.83" cy="592.71" r="1.1" fill="#8a8a8a" stroke="#4f4f4f" stroke-width="0.5" fill-opacity="0.45"/>
<circle cx="494.60" cy="561.82" r="1.1" fill="#8a8a8a" stroke="#4f4f4f" stroke-width="0.5" fill-opacity="0.45"/>
<circle cx="494.79" cy="590.51" r="1.1" fill="#8a8a8a" stroke="#4f4f4f" stroke-width="0.5" fill-opacity="0.45"/>
<circle cx="494.96" cy="610.57" r="1.1" fill="#8a8a8a" stroke="#4f4f4f" stroke-width="0.5" fill-opacity="0.45"/>
<circle cx="494.98" cy="616.09" r="1.1" fill="#8a8a8a" stroke="#4f4f4f" stroke-width="0.5" fill-opacity="0.45"/>
<circle cx="494.88" cy="560.98" r="1.1" fill="#8a8a8a" stroke="#4f4f4f" stroke-width="0.5" fill-opacity="0.45"/>
<circle cx="494.87" cy="602.22" r="1.1" fill="#8a8a8a" stroke="#4f4f4f" stroke-width="0.5" fill-opacity="0.45"/>
<circle cx="494.84" cy="574.91" r="1.1" fill="#8a8a8a" stroke="#4f4f4f" stroke-width="0.5" fill-opacity="0.45"/>
<circle cx="495.00" cy="615.07" r="1.1" fill="#8a8a8a" stroke="#4f4f4f" stroke-width="0.5" fill-opacity="0.45"/>
<line x1="505.85" y1="686.90" x2="514.85" y2="686.90" stroke="#8c8c8c" stroke-width="0.7"/>
<circle cx="505.97" cy="550.20" r="1.1" fill="#8a8a8a" stroke="#4f4f4f" stroke-width="0.5" fill-opacity="0.45"/>
<circle cx="505.83" cy="550.91" r="1.1" fill="#8a8a8a" stroke="#4f4f4f" stroke-width="0.5" fill-opacity="0.45"/>
<circle cx="505.85" cy="661.26" r="1.1" fill="#8a8a8a" stroke="#4f4f4f" stroke-width="0.5" fill-opacity="0.45"/>
<circle cx="506.03" cy="638.33" r="1.1" fill="#8a8a8a" stroke="#4f4f4f" stroke-width="0.5" fill-opacity="0.45"/>
<circle cx="505.87" cy="558.89" r="1.1" fill="#8a8a8a" stroke="#4f4f4f" stroke-width="0.5" fill-opacity="0.45"/>
<circle cx="505.89" cy="561.35" r="1.1" fill="#8a8a8a" stroke="#4f4f4f" stroke-width="0.5" fill-opacity="0.45"/>
<circle cx="505.77" cy="556.06" r="1.1" fill="#8a8a8a" stroke="#4f4f4f" stroke-width="0.5" fill-opacity="0.45"/>
<circle cx="505.92" cy="564.87" r="1.1" fill="#8a8a8a" stroke="#4f4f4f" stroke-width="0.5" fill-opacity="0.45"/>
<circle cx="505.85" cy="620.42" r="1.1" fill="#8a8a8a" stroke="#4f4f4f" stroke-width="0.5" fill-opacity="0.45"/>
<circle cx="506.03" cy="637.14" r="1.1" fill="#8a8a8a" stroke="#4f4f4f" stroke-width="0.5" fill-opacity="0.45"/>
<circle cx="506.05" cy="630.68" r="1.1" fill="#8a8a8a" stroke="#4f4f4f" stroke-width="0.5" fill-opacity="0.45"/>
<circle cx="506.05" cy="656.13" r="1.1" fill="#8a8a8a" stroke="#4f4f4f" stroke-width="0.5" fill-opacity="0.45"/>
<circle cx="506.03" cy="686.90" r="1.1" fill="#8a8a8a" stroke="#4f4f4f" stroke-width="0.5" fill-opacity="0.45"/>
<circle cx="505.67" cy="632.10" r="1.1" fill="#8a8a8a" stroke="#4f4f4f" stroke-width="0.5" fill-opacity="0.45"/>
<circle cx="505.68" cy="616.16" r="1.1" fill="#8a8a8a" stroke="#4f4f4f" stroke-width="0.5" fill-opacity="0.45"/>
<circle cx="505.79" cy="579.44" r="1.1" fill="#8a8a8a" stroke="#4f4f4f" stroke-width="0.5" fill-opacity="0.45"/>
<circle cx="505.98" cy="555.34" r="1.1" fill="#8a8a8a" stroke="#4f4f4f" stroke-width="0.5" fill-opacity="0.45"/>
<circle cx="505.87" cy="618.68" r="1.1" fill="#8a8a8a" stroke="#4f4f4f" stroke-width="0.5" fill-opacity="0.45"/>
<circle cx="505.75" cy="642.34" r="1.1" fill="#8a8a8a" stroke="#4f4f4f" stroke-width="0.5" fill-opacity="0.45"/>
<circle cx="514.69" cy="552.20" r="1.1" fill="#8a8a8a" stroke="#4f4f4f" stroke-width="0.5" fill-opacity="0.45"/>
<circle cx="514.75" cy="686.90" r="1.1" fill="#8a8a8a" stroke="#4f4f4f" stroke-width="0.5" fill-opacity="0.45"/>
<circle cx="514.70" cy="634.50" r="1.1" fill="#8a8a8a" stroke="#4f4f4f" stroke-width="0.5" fill-opacity="0.45"/>
<circle cx="514.71" cy="563.13" r="1.1" fill="#8a8a8a" stroke="#4f4f4f" stroke-width="0.5" fill-opacity="0.45"/>
<circle cx="514.95" cy="656.30" r="1.1" fill="#8a8a8a" stroke="#4f4f4f" stroke-width="0.5" fill-opacity="0.45"/>
<circle cx="514.73" cy="628.95" r="1.1" fill="#8a8a8a" stroke="#4f4f4f" stroke-width="0.5" fill-opacity="0.45"/>
<circle cx="514.72" cy="592.21" r="1.1" fill="#8a8a8a" stroke="#4f4f4f" stroke-width="0.5" fill-opacity="0.45"/>
<circle cx="514.90" cy="569.63" r="1.1" fill="#8a8a8a" stroke="#4f4f4f" stroke-width="0.5" fill-opacity="0.45"/>
<circle cx="514.70" cy="602.94" r="1.1" fill="#8a8a8a" stroke="#4f4f4f" stroke-width="0.5" fill-opacity="0.45"/>
<circle cx="514.98" cy="637.77" r="1.1" fill="#8a8a8a" stroke="#4f4f4f" stroke-width="0.5" fill-opacity="0.45"/>
<circle cx="514.91" cy="636.88" r="1.1" fill="#8a8a8a" stroke="#4f4f4f" stroke-width="0.5" fill-opacity="0.45"/>
<circle cx="515.00" cy="593.81" r="1.1" fill="#8a8a8a" stroke="#4f4f4f" stroke-width="0.5" fill-opacity="0.45"/>
<circle cx="514.94" cy="625.91" r="1.1" fill="#8a8a8a" stroke="#4f4f4f" stroke-width="0.5" fill-opacity="0.45"/>
<circle cx="514.94" cy="593.44" r="1.1" fill="#8a8a8a" stroke="#4f4f4f" stroke-width="0.5" fill-opacity="0.45"/>
<circle cx="514.76" cy="590.34" r="1.1" fill="#8a8a8a" stroke="#4f4f4f" stroke-width="0.5" fill-opacity="0.45"/>
<circle cx="514.82" cy="553.34" r="1.1" fill="#8a8a8a" stroke="#4f4f4f" stroke-width="0.5" fill-opacity="0.45"/>
<circle cx="514.80" cy="613.96" r="1.1" fill="#8a8a8a" stroke="#4f4f4f" stroke-width="0.5" fill-opacity="0.45"/>
<circle cx="514.81" cy="559.72" r="1.1" fill="#8a8a8a" stroke="#4f4f4f" stroke-width="0.5" fill-opacity="0.45"/>
<circle cx="526.06" cy="558.40" r="1.1" fill="#8a8a8a" stroke="#4f4f4f" stroke-width="0.5" fill-opacity="0.45"/>
<circle cx="525.87" cy="591.70" r="1.1" fill="#8a8a8a" stroke="#4f4f4f" stroke-width="0.5" fill-opacity="0.45"/>
<circle cx="526.02" cy="598.93" r="1.1" fill="#8a8a8a" stroke="#4f4f4f" stroke-width="0.5" fill-opacity="0.45"/>
<circle cx="525.95" cy="616.04" r="1.1" fill="#8a8a8a" stroke="#4f4f4f" stroke-width="0.5" fill-opacity="0.45"/>
<circle cx="525.73" cy="600.26" r="1.1" fill="#8a8a8a" stroke="#4f4f4f" stroke-width="0.5" fill-opacity="0.45"/>
<circle cx="525.78" cy="648.44" r="1.1" fill="#8a8a8a" stroke="#4f4f4f" stroke-width="0.5" fill-opacity="0.45"/>
<circle cx="525.93" cy="618.15" r="1.1" fill="#8a8a8a" stroke="#4f4f4f" stroke-width="0.5" fill-opacity="0.45"/>
<circle cx="526.02" cy="634.49" r="1.1" fill="#8a8a8a" stroke="#4f4f4f" stroke-width="0.5" fill-opacity="0.45"/>
<circle cx="525.79" cy="611.92" r="1.1" fill="#8a8a8a" stroke="#4f4f4f" stroke-width="0.5" fill-opacity="0.45"/>
<circle cx="525.80" cy="612.05" r="1.1" fill="#8a8a8a" stroke="#4f4f4f" stroke-width="0.5" fill-opacity="0.45"/>
<circle cx="525.85" cy="575.77" r="1.1" fill="#8a8a8a" stroke="#4f4f4f" stroke-width="0.5" fill-opacity="0.45"/>
<circle cx="525.88" cy="587.87" r="1.1" fill="#8a8a8a" stroke="#4f4f4f" stroke-width="0.5" fill-opacity="0.45"/>
<circle cx="525.87" cy="623.95" r="1.1" fill="#8a8a8a" stroke="#4f4f4f" stroke-width="0.5" fill-opacity="0.45"/>
<circle cx="526.07" cy="573.00" r="1.1" fill="#8a8a8a" stroke="#4f4f4f" stroke-width="0.5" fill-opacity="0.45"/>
<circle cx="525.94" cy="686.90" r="1.1" fill="#8a8a8a" stroke="#4f4f4f" stroke-width="0.5" fill-opacity="0.45"/>
<circle cx="525.81" cy="619.25" r="1.1" fill="#8a8a8a" stroke="#4f4f4f" stroke-width="0.5" fill-opacity="0.45"/>
<circle cx="525.84" cy="560.86" r="1.1" fill="#8a8a8a" stroke="#4f4f4f" stroke-width="0.5" fill-opacity="0.45"/>
<circle cx="525.90" cy="569.05" r="1.1" fill="#8a8a8a" stroke="#4f4f4f" stroke-width="0.5" fill-opacity="0.45"/>
<circle cx="525.76" cy="577.54" r="1.1" fill="#8a8a8a" stroke="#4f4f4f" stroke-width="0.5" fill-opacity="0.45"/>
<circle cx="534.86" cy="535.60" r="1.1" fill="#8a8a8a" stroke="#4f4f4f" stroke-width="0.5" fill-opacity="0.45"/>
<circle cx="534.73" cy="620.90" r="1.1" fill="#8a8a8a" stroke="#4f4f4f" stroke-width="0.5" fill-opacity="0.45"/>
<circle cx="534.96" cy="602.30" r="1.1" fill="#8a8a8a" stroke="#4f4f4f" stroke-width="0.5" fill-opacity="0.45"/>
<circle cx="535.05" cy="584.54" r="1.1" fill="#8a8a8a" stroke="#4f4f4f" stroke-width="0.5" fill-opacity="0.45"/>
<circle cx="535.06" cy="605.83" r="1.1" fill="#8a8a8a" stroke="#4f4f4f" stroke-width="0.5" fill-opacity="0.45"/>
<circle cx="534.94" cy="618.56" r="1.1" fill="#8a8a8a" stroke="#4f4f4f" stroke-width="0.5" fill-opacity="0.45"/>
<circle cx="534.85" cy="547.80" r="1.1" fill="#8a8a8a" stroke="#4f4f4f" stroke-width="0.5" fill-opacity="0.45"/>
<circle cx="534.92" cy="555.88" r="1.1" fill="#8a8a8a" stroke="#4f4f4f" stroke-width="0.5" fill-opacity="0.45"/>
<circle cx="534.92" cy="619.10" r="1.1" fill="#8a8a8a" stroke="#4f4f4f" stroke-width="0.5" fill-opacity="0.45"/>
<circle cx="534.77" cy="546.13" r="1.1" fill="#8a8a8a" stroke="#4f4f4f" stroke-width="0.5" fill-opacity="0.45"/>
<circle cx="534.92" cy="569.38" r="1.1" fill="#8a8a8a" stroke="#4f4f4f" stroke-width="0.5" fill-opacity="0.45"/>
<circle cx="534.90" cy="604.30" r="1.1" fill="#8a8a8a" stroke="#4f4f4f" stroke-width="0.5" fill-opacity="0.45"/>
<circle cx="534.78" cy="611.30" r="1.1" fill="#8a8a8a" stroke="#4f4f4f" stroke-width="0.5" fill-opacity="0.45"/>
<circle cx="534.88" cy="614.31" r="1.1" fill="#8a8a8a" stroke="#4f4f4f" stroke-width="0.5" fill-opacity="0.45"/>
<circle cx="535.03" cy="552.14" r="1.1" fill="#8a8a8a" stroke="#4f4f4f" stroke-width="0.5" fill-opacity="0.45"/>
<circle cx="534.96" cy="575.66" r="1.1" fill="#8a8a8a" stroke="#4f4f4f" stroke-width="0.5" fill-opacity="0.45"/>
<circle cx="534.83" cy="608.72" r="1.1" fill="#8a8a8a" stroke="#4f4f4f" stroke-width="0.5" fill-opacity="0.45"/>
<circle cx="534.80" cy="569.48" r="1.1" fill="#8a8a8a" stroke="#4f4f4f" stroke-width="0.5" fill-opacity="0.45"/>
<circle cx="534.95" cy="604.65" r="1.1" fill="#8a8a8a" stroke="#4f4f4f" stroke-width="0.5" fill-opacity="0.45"/>
<circle cx="534.92" cy="540.24" r="1.1" fill="#8a8a8a" stroke="#4f4f4f" stroke-width="0.5" fill-opacity="0.45"/>
<circle cx="534.82" cy="666.40" r="1.1" fill="#8a8a8a" stroke="#4f4f4f" stroke-width="0.5" fill-opacity="0.45"/>
<circle cx="534.89" cy="686.90" r="1.1" fill="#8a8a8a" stroke="#4f4f4f" stroke-width="0.5" fill-opacity="0.45"/>
<line x1="545.95" y1="686.90" x2="554.95" y2="686.90" stroke="#8c8c8c" stroke-width="0.7"/>
<circle cx="545.91" cy="565.60" r="1.1" fill="#8a8a8a" stroke="#4f4f4f" stroke-width="0.5" fill-opacity="0.45"/>
<circle cx="546.00" cy="618.01" r="1.1" fill="#8a8a8a" stroke="#4f4f4f" stroke-width="0.5" fill-opacity="0.45"/>
<circle cx="546.10" cy="686.90" r="1.1" fill="#8a8a8a" stroke="#4f4f4f" stroke-width="0.5" fill-opacity="0.45"/>
<circle cx="545.90" cy="641.18" r="1.1" fill="#8a8a8a" stroke="#4f4f4f" stroke-width="0.5" fill-opacity="0.45"/>
<circle cx="545.97" cy="588.34" r="1.1" fill="#8a8a8a" stroke="#4f4f4f" stroke-width="0.5" fill-opacity="0.45"/>
<circle cx="545.97" cy="597.21" r="1.1" fill="#8a8a8a" stroke="#4f4f4f" stroke-width="0.5" fill-opacity="0.45"/>
<circle cx="546.02" cy="606.15" r="1.1" fill="#8a8a8a" stroke="#4f4f4f" stroke-width="0.5" fill-opacity="0.45"/>
<circle cx="545.85" cy="622.78" r="1.1" fill="#8a8a8a" stroke="#4f4f4f" stroke-width="0.5" fill-opacity="0.45"/>
<circle cx="545.85" cy="589.90" r="1.1" fill="#8a8a8a" stroke="#4f4f4f" stroke-width="0.5" fill-opacity="0.45"/>
<circle cx="546.12" cy="570.41" r="1.1" fill="#8a8a8a" stroke="#4f4f4f" stroke-width="0.5" fill-opacity="0.45"/>
<circle cx="545.81" cy="621.20" r="1.1" fill="#8a8a8a" stroke="#4f4f4f" stroke-width="0.5" fill-opacity="0.45"/>
<circle cx="546.02" cy="570.38" r="1.1" fill="#8a8a8a" stroke="#4f4f4f" stroke-width="0.5" fill-opacity="0.45"/>
<circle cx="545.85" cy="642.72" r="1.1" fill="#8a8a8a" stroke="#4f4f4f" stroke-width="0.5" fill-opacity="0.45"/>
<circle cx="545.95" cy="568.40" r="1.1" fill="#8a8a8a" stroke="#4f4f4f" stroke-width="0.5" fill-opacity="0.45"/>
<circle cx="545.93" cy="573.92" r="1.1" fill="#8a8a8a" stroke="#4f4f4f" stroke-width="0.5" fill-opacity="0.45"/>
<circle cx="545.85" cy="591.06" r="1.1" fill="#8a8a8a" stroke="#4f4f4f" stroke-width="0.5" fill-opacity="0.45"/>
<circle cx="545.82" cy="577.34" r="1.1" fill="#8a8a8a" stroke="#4f4f4f" stroke-width="0.5" fill-opacity="0.45"/>
<circle cx="555.13" cy="542.50" r="1.1" fill="#8a8a8a" stroke="#4f4f4f" stroke-width="0.5" fill-opacity="0.45"/>
<circle cx="554.77" cy="550.75" r="1.1" fill="#8a8a8a" stroke="#4f4f4f" stroke-width="0.5" fill-opacity="0.45"/>
<circle cx="554.81" cy="686.90" r="1.1" fill="#8a8a8a" stroke="#4f4f4f" stroke-width="0.5" fill-opacity="0.45"/>
<circle cx="555.05" cy="570.65" r="1.1" fill="#8a8a8a" stroke="#4f4f4f" stroke-width="0.5" fill-opacity="0.45"/>
<circle cx="554.90" cy="562.64" r="1.1" fill="#8a8a8a" stroke="#4f4f4f" stroke-width="0.5" fill-opacity="0.45"/>
<circle cx="554.83" cy="612.26" r="1.1" fill="#8a8a8a" stroke="#4f4f4f" stroke-width="0.5" fill-opacity="0.45"/>
<circle cx="555.06" cy="583.47" r="1.1" fill="#8a8a8a" stroke="#4f4f4f" stroke-width="0.5" fill-opacity="0.45"/>
<circle cx="555.14" cy="606.01" r="1.1" fill="#8a8a8a" stroke="#4f4f4f" stroke-width="0.5" fill-opacity="0.45"/>
<circle cx="554.83" cy="577.65" r="1.1" fill="#8a8a8a" stroke="#4f4f4f" stroke-width="0.5" fill-opacity="0.45"/>
<circle cx="555.03" cy="605.48" r="1.1" fill="#8a8a8a" stroke="#4f4f4f" stroke-width="0.5" fill-opacity="0.45"/>
<circle cx="554.91" cy="543.74" r="1.1" fill="#8a8a8a" stroke="#4f4f4f" stroke-width="0.5" fill-opacity="0.45"/>
<circle cx="555.15" cy="614.80" r="1.1" fill="#8a8a8a" stroke="#4f4f4f" stroke-width="0.5" fill-opacity="0.45"/>
<circle cx="554.99" cy="570.03" r="1.1" fill="#8a8a8a" stroke="#4f4f4f" stroke-width="0.5" fill-opacity="0.45"/>
<circle cx="555.11" cy="565.09" r="1.1" fill="#8a8a8a" stroke="#4f4f4f" stroke-width="0.5" fill-opacity="0.45"/>
<circle cx="555.02" cy="613.80" r="1.1" fill="#8a8a8a" stroke="#4f4f4f" stroke-width="0.5" fill-opacity="0.45"/>
<circle cx="554.80" cy="556.26" r="1.1" fill="#8a8a8a" stroke="#4f4f4f" stroke-width="0.5" fill-opacity="0.45"/>
<circle cx="554.93" cy="563.70" r="1.1" fill="#8a8a8a" stroke="#4f4f4f" stroke-width="0.5" fill-opacity="0.45"/>
<circle cx="555.03" cy="579.07" r="1.1" fill="#8a8a8a" stroke="#4f4f4f" stroke-width="0.5" fill-opacity="0.45"/>
<circle cx="554.81" cy="595.79" r="1.1" fill="#8a8a8a" stroke="#4f4f4f" stroke-width="0.5" fill-opacity="0.45"/>
<circle cx="565.84" cy="553.30" r="1.1" fill="#8a8a8a" stroke="#4f4f4f" stroke-width="0.5" fill-opacity="0.45"/>
<circle cx="566.20" cy="657.90" r="1.1" fill="#8a8a8a" stroke="#4f4f4f" stroke-width="0.5" fill-opacity="0.45"/>
<circle cx="566.17" cy="645.33" r="1.1" fill="#8a8a8a" stroke="#4f4f4f" stroke-width="0.5" fill-opacity="0.45"/>
<circle cx="566.06" cy="557.63" r="1.1" fill="#8a8a8a" stroke="#4f4f4f" stroke-width="0.5" fill-opacity="0.45"/>
<circle cx="565.83" cy="581.02" r="1.1" fill="#8a8a8a" stroke="#4f4f4f" stroke-width="0.5" fill-opacity="0.45"/>
<circle cx="566.08" cy="599.07" r="1.1" fill="#8a8a8a" stroke="#4f4f4f" stroke-width="0.5" fill-opacity="0.45"/>
<circle cx="566.20" cy="590.85" r="1.1" fill="#8a8a8a" stroke="#4f4f4f" stroke-width="0.5" fill-opacity="0.45"/>
<circle cx="566.11" cy="607.63" r="1.1" fill="#8a8a8a" stroke="#4f4f4f" stroke-width="0.5" fill-opacity="0.45"/>
<circle cx="566.09" cy="598.84" r="1.1" fill="#8a8a8a" stroke="#4f4f4f" stroke-width="0.5" fill-opacity="0.45"/>
<circle cx="565.98" cy="582.85" r="1.1" fill="#8a8a8a" stroke="#4f4f4f" stroke-width="0.5" fill-opacity="0.45"/>
<circle cx="566.05" cy="585.75" r="1.1" fill="#8a8a8a" stroke="#4f4f4f" stroke-width="0.5" fill-opacity="0.45"/>
<circle cx="566.17" cy="624.71" r="1.1" fill="#8a8a8a" stroke="#4f4f4f" stroke-width="0.5" fill-opacity="0.45"/>
<circle cx="566.00" cy="577.98" r="1.1" fill="#8a8a8a" stroke="#4f4f4f" stroke-width="0.5" fill-opacity="0.45"/>
<circle cx="565.83" cy="562.58" r="1.1" fill="#8a8a8a" stroke="#4f4f4f" stroke-width="0.5" fill-opacity="0.45"/>
<circle cx="565.86" cy="561.46" r="1.1" fill="#8a8a8a" stroke="#4f4f4f" stroke-width="0.5" fill-opacity="0.45"/>
<circle cx="566.18" cy="577.49" r="1.1" fill="#8a8a8a" stroke="#4f4f4f" stroke-width="0.5" fill-opacity="0.45"/>
<circle cx="566.08" cy="619.01" r="1.1" fill="#8a8a8a" stroke="#4f4f4f" stroke-width="0.5" fill-opacity="0.45"/>
<circle cx="566.17" cy="599.31" r="1.1" fill="#8a8a8a" stroke="#4f4f4f" stroke-width="0.5" fill-opacity="0.45"/>
<circle cx="565.86" cy="568.78" r="1.1" fill="#8a8a8a" stroke="#4f4f4f" stroke-width="0.5" fill-opacity="0.45"/>
<circle cx="565.84" cy="602.03" r="1.1" fill="#8a8a8a" stroke="#4f4f4f" stroke-width="0.5" fill-opacity="0.45"/>
<circle cx="575.07" cy="531.70" r="1.1" fill="#8a8a8a" stroke="#4f4f4f" stroke-width="0.5" fill-opacity="0.45"/>
<circle cx="574.97" cy="644.80" r="1.1" fill="#8a8a8a" stroke="#4f4f4f" stroke-width="0.5" fill-opacity="0.45"/>
<circle cx="574.99" cy="574.48" r="1.1" fill="#8a8a8a" stroke="#4f4f4f" stroke-width="0.5" fill-opacity="0.45"/>
<circle cx="574.89" cy="587.44" r="1.1" fill="#8a8a8a" stroke="#4f4f4f" stroke-width="0.5" fill-opacity="0.45"/>
<circle cx="575.11" cy="589.13" r="1.1" fill="#8a8a8a" stroke="#4f4f4f" stroke-width="0.5" fill-opacity="0.45"/>
<circle cx="575.11" cy="585.05" r="1.1" fill="#8a8a8a" stroke="#4f4f4f" stroke-width="0.5" fill-opacity="0.45"/>
<circle cx="575.09" cy="552.07" r="1.1" fill="#8a8a8a" stroke="#4f4f4f" stroke-width="0.5" fill-opacity="0.45"/>
<circle cx="574.97" cy="581.17" r="1.1" fill="#8a8a8a" stroke="#4f4f4f" stroke-width="0.5" fill-opacity="0.45"/>
<circle cx="575.00" cy="578.78" r="1.1" fill="#8a8a8a" stroke="#4f4f4f" stroke-width="0.5" fill-opacity="0.45"/>
<circle cx="574.96" cy="583.00" r="1.1" fill="#8a8a8a" stroke="#4f4f4f" stroke-width="0.5" fill-opacity="0.45"/>
<circle cx="574.99" cy="589.33" r="1.1" fill="#8a8a8a" stroke="#4f4f4f" stroke-width="0.5" fill-opacity="0.45"/>
<circle cx="574.93" cy="552.68" r="1.1" fill="#8a8a8a" stroke="#4f4f4f" stroke-width="0.5" fill-opacity="0.45"/>
<circle cx="574.99" cy="592.57" r="1.1" fill="#8a8a8a" stroke="#4f4f4f" stroke-width="0.5" fill-opacity="0.45"/>
<circle cx="575.18" cy="544.84" r="1.1" fill="#8a8a8a" stroke="#4f4f4f" stroke-width="0.5" fill-opacity="0.45"/>
<circle cx="575.12" cy="599.82" r="1.1" fill="#8a8a8a" stroke="#4f4f4f" stroke-width="0.5" fill-opacity="0.45"/>
<circle cx="574.85" cy="561.47" r="1.1" fill="#8a8a8a" stroke="#4f4f4f" stroke-width="0.5" fill-opacity="0.45"/>
<circle cx="575.07" cy="642.47" r="1.1" fill="#8a8a8a" stroke="#4f4f4f" stroke-width="0.5" fill-opacity="0.45"/>
<circle cx="575.13" cy="591.73" r="1.1" fill="#8a8a8a" stroke="#4f4f4f" stroke-width="0.5" fill-opacity="0.45"/>
<circle cx="574.94" cy="586.05" r="1.1" fill="#8a8a8a" stroke="#4f4f4f" stroke-width="0.5" fill-opacity="0.45"/>
<circle cx="575.16" cy="600.33" r="1.1" fill="#8a8a8a" stroke="#4f4f4f" stroke-width="0.5" fill-opacity="0.45"/>
<line x1="586.05" y1="686.90" x2="595.05" y2="686.90" stroke="#8c8c8c" stroke-width="0.7"/>
<circle cx="586.23" cy="561.80" r="1.1" fill="#8a8a8a" stroke="#4f4f4f" stroke-width="0.5" fill-opacity="0.45"/>
<circle cx="585.88" cy="572.37" r="1.1" fill="#8a8a8a" stroke="#4f4f4f" stroke-width="0.5" fill-opacity="0.45"/>
<circle cx="586.10" cy="686.90" r="1.1" fill="#8a8a8a" stroke="#4f4f4f" stroke-width="0.5" fill-opacity="0.45"/>
<circle cx="586.00" cy="581.98" r="1.1" fill="#8a8a8a" stroke="#4f4f4f" stroke-width="0.5" fill-opacity="0.45"/>
<circle cx="586.04" cy="621.92" r="1.1" fill="#8a8a8a" stroke="#4f4f4f" stroke-width="0.5" fill-opacity="0.45"/>
<circle cx="586.07" cy="575.35" r="1.1" fill="#8a8a8a" stroke="#4f4f4f" stroke-width="0.5" fill-opacity="0.45"/>
<circle cx="586.19" cy="578.82" r="1.1" fill="#8a8a8a" stroke="#4f4f4f" stroke-width="0.5" fill-opacity="0.45"/>
<circle cx="586.10" cy="569.47" r="1.1" fill="#8a8a8a" stroke="#4f4f4f" stroke-width="0.5" fill-opacity="0.45"/>
<circle cx="586.21" cy="570.11" r="1.1" fill="#8a8a8a" stroke="#4f4f4f" stroke-width="0.5" fill-opacity="0.45"/>
<circle cx="585.95" cy="600.65" r="1.1" fill="#8a8a8a" stroke="#4f4f4f" stroke-width="0.5" fill-opacity="0.45"/>
<circle cx="586.17" cy="600.94" r="1.1" fill="#8a8a8a" stroke="#4f4f4f" stroke-width="0.5" fill-opacity="0.45"/>
<circle cx="595.01" cy="524.00" r="1.1" fill="#8a8a8a" stroke="#4f4f4f" stroke-width="0.5" fill-opacity="0.45"/>
<circle cx="594.92" cy="545.09" r="1.1" fill="#8a8a8a" stroke="#4f4f4f" stroke-width="0.5" fill-opacity="0.45"/>
<circle cx="595.17" cy="598.35" r="1.1" fill="#8a8a8a" stroke="#4f4f4f" stroke-width="0.5" fill-opacity="0.45"/>
<circle cx="595.08" cy="536.80" r="1.1" fill="#8a8a8a" stroke="#4f4f4f" stroke-width="0.5" fill-opacity="0.45"/>
<circle cx="594.94" cy="538.06" r="1.1" fill="#8a8a8a" stroke="#4f4f4f" stroke-width="0.5" fill-opacity="0.45"/>
<circle cx="595.21" cy="557.92" r="1.1" fill="#8a8a8a" stroke="#4f4f4f" stroke-width="0.5" fill-opacity="0.45"/>
<circle cx="595.05" cy="553.06" r="1.1" fill="#8a8a8a" stroke="#4f4f4f" stroke-width="0.5" fill-opacity="0.45"/>
<circle cx="595.12" cy="686.90" r="1.1" fill="#8a8a8a" stroke="#4f4f4f" stroke-width="0.5" fill-opacity="0.45"/>
<circle cx="595.24" cy="577.03" r="1.1" fill="#8a8a8a" stroke="#4f4f4f" stroke-width="0.5" fill-opacity="0.45"/>
<circle cx="594.98" cy="577.66" r="1.1" fill="#8a8a8a" stroke="#4f4f4f" stroke-width="0.5" fill-opacity="0.45"/>
<circle cx="595.07" cy="542.10" r="1.1" fill="#8a8a8a" stroke="#4f4f4f" stroke-width="0.5" fill-opacity="0.45"/>
<circle cx="595.07" cy="579.53" r="1.1" fill="#8a8a8a" stroke="#4f4f4f" stroke-width="0.5" fill-opacity="0.45"/>
<circle cx="594.96" cy="565.40" r="1.1" fill="#8a8a8a" stroke="#4f4f4f" stroke-width="0.5" fill-opacity="0.45"/>
<circle cx="595.06" cy="531.80" r="1.1" fill="#8a8a8a" stroke="#4f4f4f" stroke-width="0.5" fill-opacity="0.45"/>
<circle cx="595.24" cy="578.93" r="1.1" fill="#8a8a8a" stroke="#4f4f4f" stroke-width="0.5" fill-opacity="0.45"/>
<path d="M329.40 697.30 V695.30 H347.00 V697.30 M338.20 695.30 V697.30" fill="none" stroke="#5a5d61" stroke-width="0.9"/>
<text transform="translate(340.40 702.80) rotate(-30)" font-size="8" text-anchor="end" fill="#1a1a1a">p__Proteobacteria</text>
<path d="M349.40 697.30 V695.30 H367.00 V697.30 M358.20 695.30 V697.30" fill="none" stroke="#5a5d61" stroke-width="0.9"/>
<text transform="translate(360.40 702.80) rotate(-30)" font-size="8" text-anchor="end" fill="#1a1a1a">s__Escherichia_coli</text>
<path d="M381.50 697.30 V695.30 H399.10 V697.30 M390.30 695.30 V697.30" fill="none" stroke="#5a5d61" stroke-width="0.9"/>
<text transform="translate(395.10 703.30) rotate(-30)" font-size="8" text-anchor="end" fill="#1a1a1a">p__Bacteroidetes</text>
<path d="M401.40 697.30 V695.30 H419.00 V697.30 M410.20 695.30 V697.30" fill="none" stroke="#5a5d61" stroke-width="0.9"/>
<text transform="translate(415.00 703.30) rotate(-30)" font-size="8" text-anchor="end" fill="#1a1a1a">s__Bacteroides_nordii</text>
<path d="M421.45 697.30 V695.30 H439.05 V697.30 M430.25 695.30 V697.30" fill="none" stroke="#5a5d61" stroke-width="0.9"/>
<text transform="translate(435.05 703.30) rotate(-30)" font-size="8" text-anchor="end" fill="#1a1a1a">s__Bacteroides_eggerthii</text>
<path d="M441.50 697.30 V695.30 H459.10 V697.30 M450.30 695.30 V697.30" fill="none" stroke="#5a5d61" stroke-width="0.9"/>
<text transform="translate(455.10 703.30) rotate(-30)" font-size="8" text-anchor="end" fill="#1a1a1a">s__Bacteroides_cellulosilyticus</text>
<path d="M461.55 697.30 V695.30 H479.15 V697.30 M470.35 695.30 V697.30" fill="none" stroke="#5a5d61" stroke-width="0.9"/>
<text transform="translate(475.15 703.30) rotate(-30)" font-size="8" text-anchor="end" fill="#1a1a1a">s__Bacteroides_dorei</text>
<path d="M481.60 697.30 V695.30 H499.20 V697.30 M490.40 695.30 V697.30" fill="none" stroke="#5a5d61" stroke-width="0.9"/>
<text transform="translate(495.20 703.30) rotate(-30)" font-size="8" text-anchor="end" fill="#1a1a1a">s__Parabacteroides_distasonis</text>
<path d="M501.65 697.30 V695.30 H519.25 V697.30 M510.45 695.30 V697.30" fill="none" stroke="#5a5d61" stroke-width="0.9"/>
<text transform="translate(515.25 703.30) rotate(-30)" font-size="8" text-anchor="end" fill="#1a1a1a">s__Parabacteroides_merdae</text>
<path d="M521.70 697.30 V695.30 H539.30 V697.30 M530.50 695.30 V697.30" fill="none" stroke="#5a5d61" stroke-width="0.9"/>
<text transform="translate(535.30 703.30) rotate(-30)" font-size="8" text-anchor="end" fill="#1a1a1a">s__Bacteroides_ovatus</text>
<path d="M541.75 697.30 V695.30 H559.35 V697.30 M550.55 695.30 V697.30" fill="none" stroke="#5a5d61" stroke-width="0.9"/>
<text transform="translate(555.35 703.30) rotate(-30)" font-size="8" text-anchor="end" fill="#1a1a1a">s__Bacteroides_thetaiotaomicron</text>
<path d="M561.80 697.30 V695.30 H579.40 V697.30 M570.60 695.30 V697.30" fill="none" stroke="#5a5d61" stroke-width="0.9"/>
<text transform="translate(575.40 703.30) rotate(-30)" font-size="8" text-anchor="end" fill="#1a1a1a">s__Bacteroides_uniformis</text>
<path d="M581.85 697.30 V695.30 H599.45 V697.30 M590.65 695.30 V697.30" fill="none" stroke="#5a5d61" stroke-width="0.9"/>
<text transform="translate(595.45 703.30) rotate(-30)" font-size="8" text-anchor="end" fill="#1a1a1a">s__Prevotella_copri</text>
<line x1="328.00" y1="498.20" x2="328.00" y2="695.30" stroke="#7d858d" stroke-width="1.0"/>
<line x1="380.10" y1="498.20" x2="380.10" y2="695.30" stroke="#a3adb6" stroke-width="0.7"/>
<line x1="326.40" y1="513.20" x2="327.80" y2="513.20" stroke="#5a5d61" stroke-width="0.7"/>
<line x1="326.40" y1="571.50" x2="327.80" y2="571.50" stroke="#5a5d61" stroke-width="0.7"/>
<line x1="326.40" y1="629.90" x2="327.80" y2="629.90" stroke="#5a5d61" stroke-width="0.7"/>
<line x1="326.40" y1="688.30" x2="327.80" y2="688.30" stroke="#5a5d61" stroke-width="0.7"/>
</g>
</svg>
</body>
</html>
